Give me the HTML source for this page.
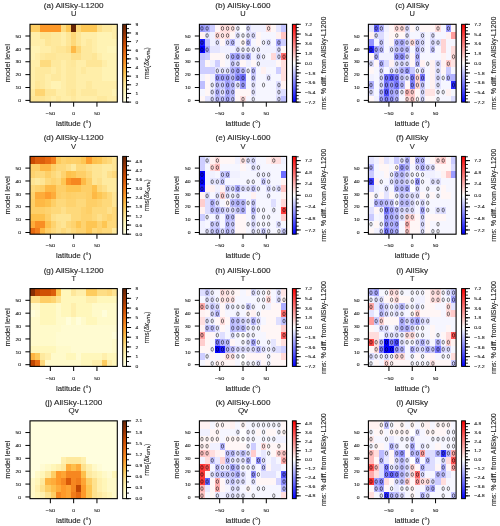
<!DOCTYPE html><html><head><meta charset="utf-8"><style>html,body{margin:0;padding:0;background:#fff;width:500px;height:526px;overflow:hidden}svg{display:block;will-change:transform}text{font-family:"Liberation Sans",sans-serif;fill:#262626}.sm{fill:#1a1a1a;stroke:#1a1a1a;stroke-width:0.1px}.lg{stroke:#262626;stroke-width:0.12px}</style></head><body>
<svg width="500" height="526" viewBox="0 0 500 526">
<rect width="500" height="526" fill="#fff"/>
<defs><linearGradient id="gseq" x1="0" y1="1" x2="0" y2="0"><stop offset="0.0000" stop-color="#ffffe5"/><stop offset="0.1250" stop-color="#fff7bc"/><stop offset="0.2500" stop-color="#fee391"/><stop offset="0.3750" stop-color="#fec44f"/><stop offset="0.5000" stop-color="#fe9929"/><stop offset="0.6250" stop-color="#ec7014"/><stop offset="0.7500" stop-color="#cc4c02"/><stop offset="0.8750" stop-color="#993404"/><stop offset="1.0000" stop-color="#662506"/></linearGradient>
<linearGradient id="gdiv" x1="0" y1="1" x2="0" y2="0"><stop offset="0" stop-color="#0000ff"/><stop offset="0.5" stop-color="#ffffff"/><stop offset="1" stop-color="#ff0000"/></linearGradient></defs>
<clipPath id="cp0"><rect x="30" y="24.3" width="87.3" height="77.8"/></clipPath>
<g clip-path="url(#cp0)">
<g shape-rendering="crispEdges">
<rect x="30" y="23.9" width="10.57" height="8.37" fill="#fecd63"/>
<rect x="40.27" y="23.9" width="20.84" height="8.37" fill="#fe9929"/>
<rect x="60.81" y="23.9" width="5.44" height="8.37" fill="#fedb7f"/>
<rect x="65.95" y="23.9" width="5.44" height="8.37" fill="#fec755"/>
<rect x="71.08" y="23.9" width="5.44" height="8.37" fill="#662506"/>
<rect x="76.22" y="23.9" width="5.44" height="8.37" fill="#fed777"/>
<rect x="81.35" y="23.9" width="15.71" height="8.37" fill="#fec755"/>
<rect x="96.76" y="23.9" width="5.44" height="8.37" fill="#fee08b"/>
<rect x="101.89" y="23.9" width="10.57" height="8.37" fill="#fee99e"/>
<rect x="112.16" y="23.9" width="5.44" height="8.37" fill="#ffeea9"/>
<rect x="30" y="31.97" width="10.57" height="7.37" fill="#ffeea9"/>
<rect x="40.27" y="31.97" width="10.57" height="7.37" fill="#fee595"/>
<rect x="50.54" y="31.97" width="10.57" height="7.37" fill="#fee99e"/>
<rect x="60.81" y="31.97" width="5.44" height="7.37" fill="#ffeea9"/>
<rect x="65.95" y="31.97" width="5.44" height="7.37" fill="#fee697"/>
<rect x="71.08" y="31.97" width="5.44" height="7.37" fill="#fed777"/>
<rect x="76.22" y="31.97" width="5.44" height="7.37" fill="#fee697"/>
<rect x="81.35" y="31.97" width="15.71" height="7.37" fill="#ffeea9"/>
<rect x="96.76" y="31.97" width="15.71" height="7.37" fill="#fff3b4"/>
<rect x="112.16" y="31.97" width="5.44" height="7.37" fill="#ffeea9"/>
<rect x="30" y="39.05" width="15.71" height="7.37" fill="#ffeea9"/>
<rect x="45.41" y="39.05" width="5.44" height="7.37" fill="#fee697"/>
<rect x="50.54" y="39.05" width="10.57" height="7.37" fill="#fee99e"/>
<rect x="60.81" y="39.05" width="5.44" height="7.37" fill="#ffeea9"/>
<rect x="65.95" y="39.05" width="5.44" height="7.37" fill="#fee697"/>
<rect x="71.08" y="39.05" width="5.44" height="7.37" fill="#fed97b"/>
<rect x="76.22" y="39.05" width="5.44" height="7.37" fill="#fee697"/>
<rect x="81.35" y="39.05" width="5.44" height="7.37" fill="#ffeea9"/>
<rect x="86.49" y="39.05" width="5.44" height="7.37" fill="#fee99e"/>
<rect x="91.62" y="39.05" width="5.44" height="7.37" fill="#ffeea9"/>
<rect x="96.76" y="39.05" width="20.84" height="7.37" fill="#fff3b4"/>
<rect x="30" y="46.12" width="10.57" height="7.37" fill="#fff3b4"/>
<rect x="40.27" y="46.12" width="10.57" height="7.37" fill="#ffeea9"/>
<rect x="50.54" y="46.12" width="5.44" height="7.37" fill="#fee99e"/>
<rect x="55.68" y="46.12" width="10.57" height="7.37" fill="#fee697"/>
<rect x="65.95" y="46.12" width="5.44" height="7.37" fill="#fee08b"/>
<rect x="71.08" y="46.12" width="5.44" height="7.37" fill="#feb946"/>
<rect x="76.22" y="46.12" width="5.44" height="7.37" fill="#fed777"/>
<rect x="81.35" y="46.12" width="10.57" height="7.37" fill="#fee99e"/>
<rect x="91.62" y="46.12" width="5.44" height="7.37" fill="#ffeea9"/>
<rect x="96.76" y="46.12" width="10.57" height="7.37" fill="#fff3b4"/>
<rect x="107.03" y="46.12" width="10.57" height="7.37" fill="#fff6bb"/>
<rect x="30" y="53.19" width="5.44" height="7.37" fill="#fff3b4"/>
<rect x="35.14" y="53.19" width="5.44" height="7.37" fill="#ffeea9"/>
<rect x="40.27" y="53.19" width="5.44" height="7.37" fill="#fee99e"/>
<rect x="45.41" y="53.19" width="10.57" height="7.37" fill="#fee697"/>
<rect x="55.68" y="53.19" width="15.71" height="7.37" fill="#fee99e"/>
<rect x="71.08" y="53.19" width="10.57" height="7.37" fill="#fee08b"/>
<rect x="81.35" y="53.19" width="10.57" height="7.37" fill="#fee99e"/>
<rect x="91.62" y="53.19" width="5.44" height="7.37" fill="#fee697"/>
<rect x="96.76" y="53.19" width="5.44" height="7.37" fill="#ffeea9"/>
<rect x="101.89" y="53.19" width="15.71" height="7.37" fill="#fff3b4"/>
<rect x="30" y="60.26" width="10.57" height="7.37" fill="#ffeea9"/>
<rect x="40.27" y="60.26" width="10.57" height="7.37" fill="#fedb7f"/>
<rect x="50.54" y="60.26" width="10.57" height="7.37" fill="#fee99e"/>
<rect x="60.81" y="60.26" width="5.44" height="7.37" fill="#ffeea9"/>
<rect x="65.95" y="60.26" width="5.44" height="7.37" fill="#fee99e"/>
<rect x="71.08" y="60.26" width="5.44" height="7.37" fill="#fee79a"/>
<rect x="76.22" y="60.26" width="10.57" height="7.37" fill="#ffeea9"/>
<rect x="86.49" y="60.26" width="15.71" height="7.37" fill="#fee697"/>
<rect x="101.89" y="60.26" width="5.44" height="7.37" fill="#ffeea9"/>
<rect x="107.03" y="60.26" width="10.57" height="7.37" fill="#fff3b4"/>
<rect x="30" y="67.34" width="5.44" height="7.37" fill="#ffeea9"/>
<rect x="35.14" y="67.34" width="15.71" height="7.37" fill="#fee99e"/>
<rect x="50.54" y="67.34" width="5.44" height="7.37" fill="#ffeea9"/>
<rect x="55.68" y="67.34" width="5.44" height="7.37" fill="#fee99e"/>
<rect x="60.81" y="67.34" width="5.44" height="7.37" fill="#ffeea9"/>
<rect x="65.95" y="67.34" width="10.57" height="7.37" fill="#fee99e"/>
<rect x="76.22" y="67.34" width="5.44" height="7.37" fill="#ffeea9"/>
<rect x="81.35" y="67.34" width="5.44" height="7.37" fill="#fee99e"/>
<rect x="86.49" y="67.34" width="15.71" height="7.37" fill="#ffeea9"/>
<rect x="101.89" y="67.34" width="15.71" height="7.37" fill="#fff3b4"/>
<rect x="30" y="74.41" width="5.44" height="7.37" fill="#ffeea9"/>
<rect x="35.14" y="74.41" width="10.57" height="7.37" fill="#fee99e"/>
<rect x="45.41" y="74.41" width="5.44" height="7.37" fill="#ffeea9"/>
<rect x="50.54" y="74.41" width="10.57" height="7.37" fill="#fee99e"/>
<rect x="60.81" y="74.41" width="5.44" height="7.37" fill="#ffeea9"/>
<rect x="65.95" y="74.41" width="10.57" height="7.37" fill="#fee99e"/>
<rect x="76.22" y="74.41" width="25.98" height="7.37" fill="#ffeea9"/>
<rect x="101.89" y="74.41" width="15.71" height="7.37" fill="#fff3b4"/>
<rect x="30" y="81.48" width="5.44" height="7.37" fill="#ffeea9"/>
<rect x="35.14" y="81.48" width="5.44" height="7.37" fill="#fee697"/>
<rect x="40.27" y="81.48" width="5.44" height="7.37" fill="#fee99e"/>
<rect x="45.41" y="81.48" width="5.44" height="7.37" fill="#ffeea9"/>
<rect x="50.54" y="81.48" width="10.57" height="7.37" fill="#fff3b4"/>
<rect x="60.81" y="81.48" width="5.44" height="7.37" fill="#ffeea9"/>
<rect x="65.95" y="81.48" width="10.57" height="7.37" fill="#fee99e"/>
<rect x="76.22" y="81.48" width="10.57" height="7.37" fill="#ffeea9"/>
<rect x="86.49" y="81.48" width="5.44" height="7.37" fill="#fee99e"/>
<rect x="91.62" y="81.48" width="25.98" height="7.37" fill="#ffeea9"/>
<rect x="30" y="88.55" width="5.44" height="7.37" fill="#fee99e"/>
<rect x="35.14" y="88.55" width="10.57" height="7.37" fill="#fed573"/>
<rect x="45.41" y="88.55" width="10.57" height="7.37" fill="#fee697"/>
<rect x="55.68" y="88.55" width="10.57" height="7.37" fill="#ffeea9"/>
<rect x="65.95" y="88.55" width="5.44" height="7.37" fill="#fee99e"/>
<rect x="71.08" y="88.55" width="5.44" height="7.37" fill="#fee697"/>
<rect x="76.22" y="88.55" width="5.44" height="7.37" fill="#ffeea9"/>
<rect x="81.35" y="88.55" width="15.71" height="7.37" fill="#fee99e"/>
<rect x="96.76" y="88.55" width="15.71" height="7.37" fill="#ffeea9"/>
<rect x="112.16" y="88.55" width="5.44" height="7.37" fill="#fff3b4"/>
<rect x="30" y="95.63" width="5.44" height="7.37" fill="#fee697"/>
<rect x="35.14" y="95.63" width="10.57" height="7.37" fill="#fee595"/>
<rect x="45.41" y="95.63" width="5.44" height="7.37" fill="#fee99e"/>
<rect x="50.54" y="95.63" width="5.44" height="7.37" fill="#ffeea9"/>
<rect x="55.68" y="95.63" width="5.44" height="7.37" fill="#fee99e"/>
<rect x="60.81" y="95.63" width="10.57" height="7.37" fill="#ffeea9"/>
<rect x="71.08" y="95.63" width="5.44" height="7.37" fill="#fee99e"/>
<rect x="76.22" y="95.63" width="20.84" height="7.37" fill="#ffeea9"/>
<rect x="96.76" y="95.63" width="10.57" height="7.37" fill="#fee99e"/>
<rect x="107.03" y="95.63" width="10.57" height="7.37" fill="#ffeea9"/>
</g>
</g>
<rect x="30" y="24.3" width="87.3" height="77.8" fill="none" stroke="#000" stroke-width="1.1"/>
<line x1="25.4" y1="100.4" x2="30" y2="100.4" stroke="#000" stroke-width="1"/>
<text x="21.1" y="102.1" font-size="4.4" text-anchor="end" textLength="2.8" lengthAdjust="spacingAndGlyphs" class="sm">0</text>
<line x1="25.4" y1="87.52" x2="30" y2="87.52" stroke="#000" stroke-width="1"/>
<text x="21.1" y="89.22" font-size="4.4" text-anchor="end" textLength="5.6" lengthAdjust="spacingAndGlyphs" class="sm">10</text>
<line x1="25.4" y1="74.64" x2="30" y2="74.64" stroke="#000" stroke-width="1"/>
<text x="21.1" y="76.34" font-size="4.4" text-anchor="end" textLength="5.6" lengthAdjust="spacingAndGlyphs" class="sm">20</text>
<line x1="25.4" y1="61.76" x2="30" y2="61.76" stroke="#000" stroke-width="1"/>
<text x="21.1" y="63.46" font-size="4.4" text-anchor="end" textLength="5.6" lengthAdjust="spacingAndGlyphs" class="sm">30</text>
<line x1="25.4" y1="48.88" x2="30" y2="48.88" stroke="#000" stroke-width="1"/>
<text x="21.1" y="50.58" font-size="4.4" text-anchor="end" textLength="5.6" lengthAdjust="spacingAndGlyphs" class="sm">40</text>
<line x1="25.4" y1="36" x2="30" y2="36" stroke="#000" stroke-width="1"/>
<text x="21.1" y="37.7" font-size="4.4" text-anchor="end" textLength="5.6" lengthAdjust="spacingAndGlyphs" class="sm">50</text>
<line x1="50.35" y1="102.1" x2="50.35" y2="106.7" stroke="#000" stroke-width="1"/>
<text x="50.35" y="115.2" font-size="4.4" text-anchor="middle" textLength="9.29" lengthAdjust="spacingAndGlyphs" class="sm">−50</text>
<line x1="73.65" y1="102.1" x2="73.65" y2="106.7" stroke="#000" stroke-width="1"/>
<text x="73.65" y="115.2" font-size="4.4" text-anchor="middle" textLength="2.8" lengthAdjust="spacingAndGlyphs" class="sm">0</text>
<line x1="96.95" y1="102.1" x2="96.95" y2="106.7" stroke="#000" stroke-width="1"/>
<text x="96.95" y="115.2" font-size="4.4" text-anchor="middle" textLength="5.6" lengthAdjust="spacingAndGlyphs" class="sm">50</text>
<text x="73.65" y="126.3" font-size="7" text-anchor="middle" textLength="35.2" lengthAdjust="spacingAndGlyphs" class="lg">latitude (°)</text>
<text transform="translate(9.5,63.2) rotate(-90)" font-size="7" class="lg" text-anchor="middle" textLength="38.2" lengthAdjust="spacingAndGlyphs">model level</text>
<text x="73.65" y="8.24" font-size="7.8" text-anchor="middle" textLength="59.83" lengthAdjust="spacingAndGlyphs" class="lg">(a) AllSky-L1200</text>
<text x="73.65" y="16.4" font-size="7.7" text-anchor="middle" textLength="5.42" lengthAdjust="spacingAndGlyphs" class="lg">U</text>
<rect x="122.7" y="24.3" width="3.8" height="77.8" fill="url(#gseq)"/>
<rect x="122.7" y="24.3" width="3.8" height="77.8" fill="none" stroke="#000" stroke-width="1"/>
<line x1="126.5" y1="102.1" x2="129" y2="102.1" stroke="#000" stroke-width="0.9"/>
<line x1="126.5" y1="97.78" x2="129" y2="97.78" stroke="#000" stroke-width="0.9"/>
<line x1="126.5" y1="93.46" x2="129" y2="93.46" stroke="#000" stroke-width="0.9"/>
<line x1="126.5" y1="89.13" x2="129" y2="89.13" stroke="#000" stroke-width="0.9"/>
<line x1="126.5" y1="84.81" x2="129" y2="84.81" stroke="#000" stroke-width="0.9"/>
<line x1="126.5" y1="80.49" x2="129" y2="80.49" stroke="#000" stroke-width="0.9"/>
<line x1="126.5" y1="76.17" x2="129" y2="76.17" stroke="#000" stroke-width="0.9"/>
<line x1="126.5" y1="71.84" x2="129" y2="71.84" stroke="#000" stroke-width="0.9"/>
<line x1="126.5" y1="67.52" x2="129" y2="67.52" stroke="#000" stroke-width="0.9"/>
<line x1="126.5" y1="63.2" x2="129" y2="63.2" stroke="#000" stroke-width="0.9"/>
<line x1="126.5" y1="58.88" x2="129" y2="58.88" stroke="#000" stroke-width="0.9"/>
<line x1="126.5" y1="54.56" x2="129" y2="54.56" stroke="#000" stroke-width="0.9"/>
<line x1="126.5" y1="50.23" x2="129" y2="50.23" stroke="#000" stroke-width="0.9"/>
<line x1="126.5" y1="45.91" x2="129" y2="45.91" stroke="#000" stroke-width="0.9"/>
<line x1="126.5" y1="41.59" x2="129" y2="41.59" stroke="#000" stroke-width="0.9"/>
<line x1="126.5" y1="37.27" x2="129" y2="37.27" stroke="#000" stroke-width="0.9"/>
<line x1="126.5" y1="32.94" x2="129" y2="32.94" stroke="#000" stroke-width="0.9"/>
<line x1="126.5" y1="28.62" x2="129" y2="28.62" stroke="#000" stroke-width="0.9"/>
<line x1="126.5" y1="24.3" x2="129" y2="24.3" stroke="#000" stroke-width="0.9"/>
<line x1="126.5" y1="102.1" x2="131.1" y2="102.1" stroke="#000" stroke-width="1"/>
<text x="135.4" y="103.7" font-size="4.3" textLength="2.74" lengthAdjust="spacingAndGlyphs" class="sm">0</text>
<line x1="126.5" y1="93.46" x2="131.1" y2="93.46" stroke="#000" stroke-width="1"/>
<text x="135.4" y="95.06" font-size="4.3" textLength="2.74" lengthAdjust="spacingAndGlyphs" class="sm">1</text>
<line x1="126.5" y1="84.81" x2="131.1" y2="84.81" stroke="#000" stroke-width="1"/>
<text x="135.4" y="86.41" font-size="4.3" textLength="2.74" lengthAdjust="spacingAndGlyphs" class="sm">2</text>
<line x1="126.5" y1="76.17" x2="131.1" y2="76.17" stroke="#000" stroke-width="1"/>
<text x="135.4" y="77.77" font-size="4.3" textLength="2.74" lengthAdjust="spacingAndGlyphs" class="sm">3</text>
<line x1="126.5" y1="67.52" x2="131.1" y2="67.52" stroke="#000" stroke-width="1"/>
<text x="135.4" y="69.12" font-size="4.3" textLength="2.74" lengthAdjust="spacingAndGlyphs" class="sm">4</text>
<line x1="126.5" y1="58.88" x2="131.1" y2="58.88" stroke="#000" stroke-width="1"/>
<text x="135.4" y="60.48" font-size="4.3" textLength="2.74" lengthAdjust="spacingAndGlyphs" class="sm">5</text>
<line x1="126.5" y1="50.23" x2="131.1" y2="50.23" stroke="#000" stroke-width="1"/>
<text x="135.4" y="51.83" font-size="4.3" textLength="2.74" lengthAdjust="spacingAndGlyphs" class="sm">6</text>
<line x1="126.5" y1="41.59" x2="131.1" y2="41.59" stroke="#000" stroke-width="1"/>
<text x="135.4" y="43.19" font-size="4.3" textLength="2.74" lengthAdjust="spacingAndGlyphs" class="sm">7</text>
<line x1="126.5" y1="32.94" x2="131.1" y2="32.94" stroke="#000" stroke-width="1"/>
<text x="135.4" y="34.54" font-size="4.3" textLength="2.74" lengthAdjust="spacingAndGlyphs" class="sm">8</text>
<line x1="126.5" y1="24.3" x2="131.1" y2="24.3" stroke="#000" stroke-width="1"/>
<text x="135.4" y="25.9" font-size="4.3" textLength="2.74" lengthAdjust="spacingAndGlyphs" class="sm">9</text>
<text transform="translate(149,63.2) rotate(-90)" font-size="6.7" class="lg" text-anchor="middle">rms(<tspan font-style="italic">δx</tspan><tspan font-size="4.2" dy="1.4">G/Tb</tspan><tspan dy="-1.4">)</tspan></text>
<clipPath id="cp1"><rect x="199.4" y="24.3" width="87.2" height="77.8"/></clipPath>
<g clip-path="url(#cp1)">
<g shape-rendering="crispEdges">
<rect x="199.4" y="23.9" width="5.43" height="8.37" fill="#9d9dff"/>
<rect x="204.53" y="23.9" width="5.43" height="8.37" fill="#adadff"/>
<rect x="209.66" y="23.9" width="5.43" height="8.37" fill="#ceceff"/>
<rect x="214.79" y="23.9" width="5.43" height="8.37" fill="#fff6f6"/>
<rect x="219.92" y="23.9" width="10.56" height="8.37" fill="#ffdede"/>
<rect x="230.18" y="23.9" width="5.43" height="8.37" fill="#ffe5e5"/>
<rect x="235.31" y="23.9" width="5.43" height="8.37" fill="#f1f1ff"/>
<rect x="240.44" y="23.9" width="5.43" height="8.37" fill="#ffffff"/>
<rect x="245.56" y="23.9" width="5.43" height="8.37" fill="#dedeff"/>
<rect x="250.69" y="23.9" width="15.69" height="8.37" fill="#f1f1ff"/>
<rect x="266.08" y="23.9" width="5.43" height="8.37" fill="#ffdede"/>
<rect x="271.21" y="23.9" width="5.43" height="8.37" fill="#fff6f6"/>
<rect x="276.34" y="23.9" width="5.43" height="8.37" fill="#e5e5ff"/>
<rect x="281.47" y="23.9" width="5.43" height="8.37" fill="#c4c4ff"/>
<rect x="199.4" y="31.97" width="5.43" height="7.37" fill="#fff1f1"/>
<rect x="204.53" y="31.97" width="5.43" height="7.37" fill="#e5e5ff"/>
<rect x="209.66" y="31.97" width="5.43" height="7.37" fill="#f1f1ff"/>
<rect x="214.79" y="31.97" width="5.43" height="7.37" fill="#ffd8d8"/>
<rect x="219.92" y="31.97" width="5.43" height="7.37" fill="#ffe5e5"/>
<rect x="225.05" y="31.97" width="5.43" height="7.37" fill="#ffdede"/>
<rect x="230.18" y="31.97" width="5.43" height="7.37" fill="#fff6f6"/>
<rect x="235.31" y="31.97" width="5.43" height="7.37" fill="#e5e5ff"/>
<rect x="240.44" y="31.97" width="5.43" height="7.37" fill="#f6f6ff"/>
<rect x="245.56" y="31.97" width="5.43" height="7.37" fill="#e5e5ff"/>
<rect x="250.69" y="31.97" width="5.43" height="7.37" fill="#dedeff"/>
<rect x="255.82" y="31.97" width="5.43" height="7.37" fill="#fff6f6"/>
<rect x="260.95" y="31.97" width="15.69" height="7.37" fill="#f6f6ff"/>
<rect x="276.34" y="31.97" width="5.43" height="7.37" fill="#fff1f1"/>
<rect x="281.47" y="31.97" width="5.43" height="7.37" fill="#ffc4c4"/>
<rect x="199.4" y="39.05" width="5.43" height="7.37" fill="#1c1cff"/>
<rect x="204.53" y="39.05" width="5.43" height="7.37" fill="#c4c4ff"/>
<rect x="209.66" y="39.05" width="5.43" height="7.37" fill="#f1f1ff"/>
<rect x="214.79" y="39.05" width="5.43" height="7.37" fill="#e5e5ff"/>
<rect x="219.92" y="39.05" width="5.43" height="7.37" fill="#fff6f6"/>
<rect x="225.05" y="39.05" width="5.43" height="7.37" fill="#dedeff"/>
<rect x="230.18" y="39.05" width="5.43" height="7.37" fill="#bebeff"/>
<rect x="235.31" y="39.05" width="5.43" height="7.37" fill="#f1f1ff"/>
<rect x="240.44" y="39.05" width="5.43" height="7.37" fill="#fff6f6"/>
<rect x="245.56" y="39.05" width="5.43" height="7.37" fill="#bebeff"/>
<rect x="250.69" y="39.05" width="5.43" height="7.37" fill="#f6f6ff"/>
<rect x="255.82" y="39.05" width="5.43" height="7.37" fill="#fff6f6"/>
<rect x="260.95" y="39.05" width="5.43" height="7.37" fill="#f1f1ff"/>
<rect x="266.08" y="39.05" width="5.43" height="7.37" fill="#e5e5ff"/>
<rect x="271.21" y="39.05" width="5.43" height="7.37" fill="#f6f6ff"/>
<rect x="276.34" y="39.05" width="5.43" height="7.37" fill="#adadff"/>
<rect x="281.47" y="39.05" width="5.43" height="7.37" fill="#ceceff"/>
<rect x="199.4" y="46.12" width="5.43" height="7.37" fill="#0000ff"/>
<rect x="204.53" y="46.12" width="5.43" height="7.37" fill="#adadff"/>
<rect x="209.66" y="46.12" width="10.56" height="7.37" fill="#e5e5ff"/>
<rect x="219.92" y="46.12" width="15.69" height="7.37" fill="#f1f1ff"/>
<rect x="235.31" y="46.12" width="5.43" height="7.37" fill="#e5e5ff"/>
<rect x="240.44" y="46.12" width="36.21" height="7.37" fill="#f1f1ff"/>
<rect x="276.34" y="46.12" width="5.43" height="7.37" fill="#dedeff"/>
<rect x="281.47" y="46.12" width="5.43" height="7.37" fill="#fff6f6"/>
<rect x="199.4" y="53.19" width="5.43" height="7.37" fill="#c4c4ff"/>
<rect x="204.53" y="53.19" width="5.43" height="7.37" fill="#ceceff"/>
<rect x="209.66" y="53.19" width="15.69" height="7.37" fill="#fff6f6"/>
<rect x="225.05" y="53.19" width="5.43" height="7.37" fill="#f1f1ff"/>
<rect x="230.18" y="53.19" width="5.43" height="7.37" fill="#adadff"/>
<rect x="235.31" y="53.19" width="5.43" height="7.37" fill="#a4a4ff"/>
<rect x="240.44" y="53.19" width="5.43" height="7.37" fill="#ceceff"/>
<rect x="245.56" y="53.19" width="5.43" height="7.37" fill="#b7b7ff"/>
<rect x="250.69" y="53.19" width="5.43" height="7.37" fill="#f1f1ff"/>
<rect x="255.82" y="53.19" width="5.43" height="7.37" fill="#dedeff"/>
<rect x="260.95" y="53.19" width="5.43" height="7.37" fill="#f1f1ff"/>
<rect x="266.08" y="53.19" width="5.43" height="7.37" fill="#f6f6ff"/>
<rect x="271.21" y="53.19" width="5.43" height="7.37" fill="#ffd8d8"/>
<rect x="276.34" y="53.19" width="5.43" height="7.37" fill="#dedeff"/>
<rect x="281.47" y="53.19" width="5.43" height="7.37" fill="#ff6d6d"/>
<rect x="199.4" y="60.26" width="5.43" height="7.37" fill="#ceceff"/>
<rect x="204.53" y="60.26" width="5.43" height="7.37" fill="#fff6f6"/>
<rect x="209.66" y="60.26" width="5.43" height="7.37" fill="#f1f1ff"/>
<rect x="214.79" y="60.26" width="5.43" height="7.37" fill="#ceceff"/>
<rect x="219.92" y="60.26" width="5.43" height="7.37" fill="#fff6f6"/>
<rect x="225.05" y="60.26" width="5.43" height="7.37" fill="#f6f6ff"/>
<rect x="230.18" y="60.26" width="5.43" height="7.37" fill="#ceceff"/>
<rect x="235.31" y="60.26" width="5.43" height="7.37" fill="#dedeff"/>
<rect x="240.44" y="60.26" width="5.43" height="7.37" fill="#fff6f6"/>
<rect x="245.56" y="60.26" width="5.43" height="7.37" fill="#f1f1ff"/>
<rect x="250.69" y="60.26" width="5.43" height="7.37" fill="#fff6f6"/>
<rect x="255.82" y="60.26" width="20.82" height="7.37" fill="#f1f1ff"/>
<rect x="276.34" y="60.26" width="5.43" height="7.37" fill="#fff6f6"/>
<rect x="281.47" y="60.26" width="5.43" height="7.37" fill="#ffdede"/>
<rect x="199.4" y="67.34" width="15.69" height="7.37" fill="#ceceff"/>
<rect x="214.79" y="67.34" width="15.69" height="7.37" fill="#e5e5ff"/>
<rect x="230.18" y="67.34" width="5.43" height="7.37" fill="#b7b7ff"/>
<rect x="235.31" y="67.34" width="5.43" height="7.37" fill="#a4a4ff"/>
<rect x="240.44" y="67.34" width="5.43" height="7.37" fill="#c4c4ff"/>
<rect x="245.56" y="67.34" width="5.43" height="7.37" fill="#f6f6ff"/>
<rect x="250.69" y="67.34" width="5.43" height="7.37" fill="#c4c4ff"/>
<rect x="255.82" y="67.34" width="5.43" height="7.37" fill="#f6f6ff"/>
<rect x="260.95" y="67.34" width="5.43" height="7.37" fill="#fff1f1"/>
<rect x="266.08" y="67.34" width="10.56" height="7.37" fill="#f6f6ff"/>
<rect x="276.34" y="67.34" width="5.43" height="7.37" fill="#ceceff"/>
<rect x="281.47" y="67.34" width="5.43" height="7.37" fill="#ffdede"/>
<rect x="199.4" y="74.41" width="5.43" height="7.37" fill="#f1f1ff"/>
<rect x="204.53" y="74.41" width="5.43" height="7.37" fill="#fff6f6"/>
<rect x="209.66" y="74.41" width="5.43" height="7.37" fill="#f1f1ff"/>
<rect x="214.79" y="74.41" width="5.43" height="7.37" fill="#9d9dff"/>
<rect x="219.92" y="74.41" width="10.56" height="7.37" fill="#a4a4ff"/>
<rect x="230.18" y="74.41" width="5.43" height="7.37" fill="#bebeff"/>
<rect x="235.31" y="74.41" width="5.43" height="7.37" fill="#8d8dff"/>
<rect x="240.44" y="74.41" width="5.43" height="7.37" fill="#7373ff"/>
<rect x="245.56" y="74.41" width="5.43" height="7.37" fill="#f6f6ff"/>
<rect x="250.69" y="74.41" width="5.43" height="7.37" fill="#ceceff"/>
<rect x="255.82" y="74.41" width="10.56" height="7.37" fill="#f6f6ff"/>
<rect x="266.08" y="74.41" width="5.43" height="7.37" fill="#e5e5ff"/>
<rect x="271.21" y="74.41" width="10.56" height="7.37" fill="#f6f6ff"/>
<rect x="281.47" y="74.41" width="5.43" height="7.37" fill="#ffdede"/>
<rect x="199.4" y="81.48" width="5.43" height="7.37" fill="#bebeff"/>
<rect x="204.53" y="81.48" width="5.43" height="7.37" fill="#fff6f6"/>
<rect x="209.66" y="81.48" width="5.43" height="7.37" fill="#f1f1ff"/>
<rect x="214.79" y="81.48" width="5.43" height="7.37" fill="#c4c4ff"/>
<rect x="219.92" y="81.48" width="5.43" height="7.37" fill="#ceceff"/>
<rect x="225.05" y="81.48" width="5.43" height="7.37" fill="#a4a4ff"/>
<rect x="230.18" y="81.48" width="5.43" height="7.37" fill="#bebeff"/>
<rect x="235.31" y="81.48" width="5.43" height="7.37" fill="#e5e5ff"/>
<rect x="240.44" y="81.48" width="5.43" height="7.37" fill="#9d9dff"/>
<rect x="245.56" y="81.48" width="5.43" height="7.37" fill="#f6f6ff"/>
<rect x="250.69" y="81.48" width="5.43" height="7.37" fill="#e5e5ff"/>
<rect x="255.82" y="81.48" width="20.82" height="7.37" fill="#f6f6ff"/>
<rect x="276.34" y="81.48" width="5.43" height="7.37" fill="#dedeff"/>
<rect x="281.47" y="81.48" width="5.43" height="7.37" fill="#fff1f1"/>
<rect x="199.4" y="88.55" width="5.43" height="7.37" fill="#f6f6ff"/>
<rect x="204.53" y="88.55" width="5.43" height="7.37" fill="#fff6f6"/>
<rect x="209.66" y="88.55" width="5.43" height="7.37" fill="#e5e5ff"/>
<rect x="214.79" y="88.55" width="5.43" height="7.37" fill="#b7b7ff"/>
<rect x="219.92" y="88.55" width="5.43" height="7.37" fill="#dedeff"/>
<rect x="225.05" y="88.55" width="5.43" height="7.37" fill="#adadff"/>
<rect x="230.18" y="88.55" width="5.43" height="7.37" fill="#bebeff"/>
<rect x="235.31" y="88.55" width="15.69" height="7.37" fill="#fff6f6"/>
<rect x="250.69" y="88.55" width="5.43" height="7.37" fill="#e5e5ff"/>
<rect x="255.82" y="88.55" width="20.82" height="7.37" fill="#f6f6ff"/>
<rect x="276.34" y="88.55" width="5.43" height="7.37" fill="#e5e5ff"/>
<rect x="281.47" y="88.55" width="5.43" height="7.37" fill="#dedeff"/>
<rect x="199.4" y="95.63" width="5.43" height="7.37" fill="#fff6f6"/>
<rect x="204.53" y="95.63" width="5.43" height="7.37" fill="#e5e5ff"/>
<rect x="209.66" y="95.63" width="5.43" height="7.37" fill="#dedeff"/>
<rect x="214.79" y="95.63" width="5.43" height="7.37" fill="#bebeff"/>
<rect x="219.92" y="95.63" width="5.43" height="7.37" fill="#c4c4ff"/>
<rect x="225.05" y="95.63" width="5.43" height="7.37" fill="#adadff"/>
<rect x="230.18" y="95.63" width="5.43" height="7.37" fill="#c4c4ff"/>
<rect x="235.31" y="95.63" width="5.43" height="7.37" fill="#fff6f6"/>
<rect x="240.44" y="95.63" width="5.43" height="7.37" fill="#ffdede"/>
<rect x="245.56" y="95.63" width="5.43" height="7.37" fill="#f6f6ff"/>
<rect x="250.69" y="95.63" width="5.43" height="7.37" fill="#f1f1ff"/>
<rect x="255.82" y="95.63" width="20.82" height="7.37" fill="#f6f6ff"/>
<rect x="276.34" y="95.63" width="5.43" height="7.37" fill="#dedeff"/>
<rect x="281.47" y="95.63" width="5.43" height="7.37" fill="#bebeff"/>
</g>
<g fill="none" stroke="#000" stroke-opacity="0.55" stroke-width="0.95">
<ellipse cx="201.96" cy="28.44" rx="1.15" ry="1.95"/>
<ellipse cx="207.09" cy="28.44" rx="1.15" ry="1.95"/>
<ellipse cx="222.48" cy="28.44" rx="1.15" ry="1.95"/>
<ellipse cx="227.61" cy="28.44" rx="1.15" ry="1.95"/>
<ellipse cx="232.74" cy="28.44" rx="1.15" ry="1.95"/>
<ellipse cx="237.87" cy="28.44" rx="1.15" ry="1.95"/>
<ellipse cx="248.13" cy="28.44" rx="1.15" ry="1.95"/>
<ellipse cx="268.65" cy="28.44" rx="1.15" ry="1.95"/>
<ellipse cx="207.09" cy="35.51" rx="1.15" ry="1.95"/>
<ellipse cx="217.35" cy="35.51" rx="1.15" ry="1.95"/>
<ellipse cx="222.48" cy="35.51" rx="1.15" ry="1.95"/>
<ellipse cx="227.61" cy="35.51" rx="1.15" ry="1.95"/>
<ellipse cx="237.87" cy="35.51" rx="1.15" ry="1.95"/>
<ellipse cx="243" cy="35.51" rx="1.15" ry="1.95"/>
<ellipse cx="248.13" cy="35.51" rx="1.15" ry="1.95"/>
<ellipse cx="253.26" cy="35.51" rx="1.15" ry="1.95"/>
<ellipse cx="201.96" cy="42.58" rx="1.15" ry="1.95"/>
<ellipse cx="217.35" cy="42.58" rx="1.15" ry="1.95"/>
<ellipse cx="227.61" cy="42.58" rx="1.15" ry="1.95"/>
<ellipse cx="232.74" cy="42.58" rx="1.15" ry="1.95"/>
<ellipse cx="243" cy="42.58" rx="1.15" ry="1.95"/>
<ellipse cx="248.13" cy="42.58" rx="1.15" ry="1.95"/>
<ellipse cx="263.52" cy="42.58" rx="1.15" ry="1.95"/>
<ellipse cx="268.65" cy="42.58" rx="1.15" ry="1.95"/>
<ellipse cx="278.91" cy="42.58" rx="1.15" ry="1.95"/>
<ellipse cx="201.96" cy="49.65" rx="1.15" ry="1.95"/>
<ellipse cx="207.09" cy="49.65" rx="1.15" ry="1.95"/>
<ellipse cx="237.87" cy="49.65" rx="1.15" ry="1.95"/>
<ellipse cx="243" cy="49.65" rx="1.15" ry="1.95"/>
<ellipse cx="248.13" cy="49.65" rx="1.15" ry="1.95"/>
<ellipse cx="253.26" cy="49.65" rx="1.15" ry="1.95"/>
<ellipse cx="258.39" cy="49.65" rx="1.15" ry="1.95"/>
<ellipse cx="278.91" cy="49.65" rx="1.15" ry="1.95"/>
<ellipse cx="227.61" cy="56.73" rx="1.15" ry="1.95"/>
<ellipse cx="232.74" cy="56.73" rx="1.15" ry="1.95"/>
<ellipse cx="237.87" cy="56.73" rx="1.15" ry="1.95"/>
<ellipse cx="243" cy="56.73" rx="1.15" ry="1.95"/>
<ellipse cx="248.13" cy="56.73" rx="1.15" ry="1.95"/>
<ellipse cx="258.39" cy="56.73" rx="1.15" ry="1.95"/>
<ellipse cx="263.52" cy="56.73" rx="1.15" ry="1.95"/>
<ellipse cx="278.91" cy="56.73" rx="1.15" ry="1.95"/>
<ellipse cx="284.04" cy="56.73" rx="1.15" ry="1.95"/>
<ellipse cx="232.74" cy="63.8" rx="1.15" ry="1.95"/>
<ellipse cx="237.87" cy="63.8" rx="1.15" ry="1.95"/>
<ellipse cx="258.39" cy="63.8" rx="1.15" ry="1.95"/>
<ellipse cx="217.35" cy="70.87" rx="1.15" ry="1.95"/>
<ellipse cx="222.48" cy="70.87" rx="1.15" ry="1.95"/>
<ellipse cx="227.61" cy="70.87" rx="1.15" ry="1.95"/>
<ellipse cx="232.74" cy="70.87" rx="1.15" ry="1.95"/>
<ellipse cx="237.87" cy="70.87" rx="1.15" ry="1.95"/>
<ellipse cx="243" cy="70.87" rx="1.15" ry="1.95"/>
<ellipse cx="248.13" cy="70.87" rx="1.15" ry="1.95"/>
<ellipse cx="253.26" cy="70.87" rx="1.15" ry="1.95"/>
<ellipse cx="217.35" cy="77.95" rx="1.15" ry="1.95"/>
<ellipse cx="222.48" cy="77.95" rx="1.15" ry="1.95"/>
<ellipse cx="227.61" cy="77.95" rx="1.15" ry="1.95"/>
<ellipse cx="232.74" cy="77.95" rx="1.15" ry="1.95"/>
<ellipse cx="237.87" cy="77.95" rx="1.15" ry="1.95"/>
<ellipse cx="243" cy="77.95" rx="1.15" ry="1.95"/>
<ellipse cx="253.26" cy="77.95" rx="1.15" ry="1.95"/>
<ellipse cx="268.65" cy="77.95" rx="1.15" ry="1.95"/>
<ellipse cx="212.22" cy="85.02" rx="1.15" ry="1.95"/>
<ellipse cx="217.35" cy="85.02" rx="1.15" ry="1.95"/>
<ellipse cx="222.48" cy="85.02" rx="1.15" ry="1.95"/>
<ellipse cx="227.61" cy="85.02" rx="1.15" ry="1.95"/>
<ellipse cx="232.74" cy="85.02" rx="1.15" ry="1.95"/>
<ellipse cx="237.87" cy="85.02" rx="1.15" ry="1.95"/>
<ellipse cx="243" cy="85.02" rx="1.15" ry="1.95"/>
<ellipse cx="253.26" cy="85.02" rx="1.15" ry="1.95"/>
<ellipse cx="263.52" cy="85.02" rx="1.15" ry="1.95"/>
<ellipse cx="278.91" cy="85.02" rx="1.15" ry="1.95"/>
<ellipse cx="212.22" cy="92.09" rx="1.15" ry="1.95"/>
<ellipse cx="217.35" cy="92.09" rx="1.15" ry="1.95"/>
<ellipse cx="222.48" cy="92.09" rx="1.15" ry="1.95"/>
<ellipse cx="227.61" cy="92.09" rx="1.15" ry="1.95"/>
<ellipse cx="232.74" cy="92.09" rx="1.15" ry="1.95"/>
<ellipse cx="253.26" cy="92.09" rx="1.15" ry="1.95"/>
<ellipse cx="278.91" cy="92.09" rx="1.15" ry="1.95"/>
<ellipse cx="212.22" cy="99.16" rx="1.15" ry="1.95"/>
<ellipse cx="217.35" cy="99.16" rx="1.15" ry="1.95"/>
<ellipse cx="222.48" cy="99.16" rx="1.15" ry="1.95"/>
<ellipse cx="227.61" cy="99.16" rx="1.15" ry="1.95"/>
<ellipse cx="232.74" cy="99.16" rx="1.15" ry="1.95"/>
<ellipse cx="243" cy="99.16" rx="1.15" ry="1.95"/>
<ellipse cx="253.26" cy="99.16" rx="1.15" ry="1.95"/>
<ellipse cx="278.91" cy="99.16" rx="1.15" ry="1.95"/>
</g>
</g>
<rect x="199.4" y="24.3" width="87.2" height="77.8" fill="none" stroke="#000" stroke-width="1.1"/>
<line x1="194.8" y1="100.4" x2="199.4" y2="100.4" stroke="#000" stroke-width="1"/>
<text x="190.5" y="102.1" font-size="4.4" text-anchor="end" textLength="2.8" lengthAdjust="spacingAndGlyphs" class="sm">0</text>
<line x1="194.8" y1="87.52" x2="199.4" y2="87.52" stroke="#000" stroke-width="1"/>
<text x="190.5" y="89.22" font-size="4.4" text-anchor="end" textLength="5.6" lengthAdjust="spacingAndGlyphs" class="sm">10</text>
<line x1="194.8" y1="74.64" x2="199.4" y2="74.64" stroke="#000" stroke-width="1"/>
<text x="190.5" y="76.34" font-size="4.4" text-anchor="end" textLength="5.6" lengthAdjust="spacingAndGlyphs" class="sm">20</text>
<line x1="194.8" y1="61.76" x2="199.4" y2="61.76" stroke="#000" stroke-width="1"/>
<text x="190.5" y="63.46" font-size="4.4" text-anchor="end" textLength="5.6" lengthAdjust="spacingAndGlyphs" class="sm">30</text>
<line x1="194.8" y1="48.88" x2="199.4" y2="48.88" stroke="#000" stroke-width="1"/>
<text x="190.5" y="50.58" font-size="4.4" text-anchor="end" textLength="5.6" lengthAdjust="spacingAndGlyphs" class="sm">40</text>
<line x1="194.8" y1="36" x2="199.4" y2="36" stroke="#000" stroke-width="1"/>
<text x="190.5" y="37.7" font-size="4.4" text-anchor="end" textLength="5.6" lengthAdjust="spacingAndGlyphs" class="sm">50</text>
<line x1="219.7" y1="102.1" x2="219.7" y2="106.7" stroke="#000" stroke-width="1"/>
<text x="219.7" y="115.2" font-size="4.4" text-anchor="middle" textLength="9.29" lengthAdjust="spacingAndGlyphs" class="sm">−50</text>
<line x1="243" y1="102.1" x2="243" y2="106.7" stroke="#000" stroke-width="1"/>
<text x="243" y="115.2" font-size="4.4" text-anchor="middle" textLength="2.8" lengthAdjust="spacingAndGlyphs" class="sm">0</text>
<line x1="266.3" y1="102.1" x2="266.3" y2="106.7" stroke="#000" stroke-width="1"/>
<text x="266.3" y="115.2" font-size="4.4" text-anchor="middle" textLength="5.6" lengthAdjust="spacingAndGlyphs" class="sm">50</text>
<text x="243" y="126.3" font-size="7" text-anchor="middle" textLength="35.2" lengthAdjust="spacingAndGlyphs" class="lg">latitude (°)</text>
<text transform="translate(178.9,63.2) rotate(-90)" font-size="7" class="lg" text-anchor="middle" textLength="38.2" lengthAdjust="spacingAndGlyphs">model level</text>
<text x="243" y="8.24" font-size="7.8" text-anchor="middle" textLength="55.28" lengthAdjust="spacingAndGlyphs" class="lg">(b) AllSky-L600</text>
<text x="243" y="16.4" font-size="7.7" text-anchor="middle" textLength="5.42" lengthAdjust="spacingAndGlyphs" class="lg">U</text>
<rect x="292.4" y="24.3" width="3.8" height="77.8" fill="url(#gdiv)"/>
<rect x="292.4" y="24.3" width="3.8" height="77.8" fill="none" stroke="#000" stroke-width="1"/>
<line x1="296.2" y1="102.1" x2="298.7" y2="102.1" stroke="#000" stroke-width="0.9"/>
<line x1="296.2" y1="98.86" x2="298.7" y2="98.86" stroke="#000" stroke-width="0.9"/>
<line x1="296.2" y1="95.62" x2="298.7" y2="95.62" stroke="#000" stroke-width="0.9"/>
<line x1="296.2" y1="92.38" x2="298.7" y2="92.38" stroke="#000" stroke-width="0.9"/>
<line x1="296.2" y1="89.13" x2="298.7" y2="89.13" stroke="#000" stroke-width="0.9"/>
<line x1="296.2" y1="85.89" x2="298.7" y2="85.89" stroke="#000" stroke-width="0.9"/>
<line x1="296.2" y1="82.65" x2="298.7" y2="82.65" stroke="#000" stroke-width="0.9"/>
<line x1="296.2" y1="79.41" x2="298.7" y2="79.41" stroke="#000" stroke-width="0.9"/>
<line x1="296.2" y1="76.17" x2="298.7" y2="76.17" stroke="#000" stroke-width="0.9"/>
<line x1="296.2" y1="72.92" x2="298.7" y2="72.92" stroke="#000" stroke-width="0.9"/>
<line x1="296.2" y1="69.68" x2="298.7" y2="69.68" stroke="#000" stroke-width="0.9"/>
<line x1="296.2" y1="66.44" x2="298.7" y2="66.44" stroke="#000" stroke-width="0.9"/>
<line x1="296.2" y1="63.2" x2="298.7" y2="63.2" stroke="#000" stroke-width="0.9"/>
<line x1="296.2" y1="59.96" x2="298.7" y2="59.96" stroke="#000" stroke-width="0.9"/>
<line x1="296.2" y1="56.72" x2="298.7" y2="56.72" stroke="#000" stroke-width="0.9"/>
<line x1="296.2" y1="53.47" x2="298.7" y2="53.47" stroke="#000" stroke-width="0.9"/>
<line x1="296.2" y1="50.23" x2="298.7" y2="50.23" stroke="#000" stroke-width="0.9"/>
<line x1="296.2" y1="46.99" x2="298.7" y2="46.99" stroke="#000" stroke-width="0.9"/>
<line x1="296.2" y1="43.75" x2="298.7" y2="43.75" stroke="#000" stroke-width="0.9"/>
<line x1="296.2" y1="40.51" x2="298.7" y2="40.51" stroke="#000" stroke-width="0.9"/>
<line x1="296.2" y1="37.27" x2="298.7" y2="37.27" stroke="#000" stroke-width="0.9"/>
<line x1="296.2" y1="34.02" x2="298.7" y2="34.02" stroke="#000" stroke-width="0.9"/>
<line x1="296.2" y1="30.78" x2="298.7" y2="30.78" stroke="#000" stroke-width="0.9"/>
<line x1="296.2" y1="27.54" x2="298.7" y2="27.54" stroke="#000" stroke-width="0.9"/>
<line x1="296.2" y1="24.3" x2="298.7" y2="24.3" stroke="#000" stroke-width="0.9"/>
<line x1="296.2" y1="102.1" x2="300.8" y2="102.1" stroke="#000" stroke-width="1"/>
<text x="305.1" y="103.7" font-size="4.3" textLength="10.44" lengthAdjust="spacingAndGlyphs" class="sm">−7.2</text>
<line x1="296.2" y1="92.38" x2="300.8" y2="92.38" stroke="#000" stroke-width="1"/>
<text x="305.1" y="93.97" font-size="4.3" textLength="10.44" lengthAdjust="spacingAndGlyphs" class="sm">−5.4</text>
<line x1="296.2" y1="82.65" x2="300.8" y2="82.65" stroke="#000" stroke-width="1"/>
<text x="305.1" y="84.25" font-size="4.3" textLength="10.44" lengthAdjust="spacingAndGlyphs" class="sm">−3.6</text>
<line x1="296.2" y1="72.92" x2="300.8" y2="72.92" stroke="#000" stroke-width="1"/>
<text x="305.1" y="74.52" font-size="4.3" textLength="10.44" lengthAdjust="spacingAndGlyphs" class="sm">−1.8</text>
<line x1="296.2" y1="63.2" x2="300.8" y2="63.2" stroke="#000" stroke-width="1"/>
<text x="305.1" y="64.8" font-size="4.3" textLength="6.84" lengthAdjust="spacingAndGlyphs" class="sm">0.0</text>
<line x1="296.2" y1="53.47" x2="300.8" y2="53.47" stroke="#000" stroke-width="1"/>
<text x="305.1" y="55.07" font-size="4.3" textLength="6.84" lengthAdjust="spacingAndGlyphs" class="sm">1.8</text>
<line x1="296.2" y1="43.75" x2="300.8" y2="43.75" stroke="#000" stroke-width="1"/>
<text x="305.1" y="45.35" font-size="4.3" textLength="6.84" lengthAdjust="spacingAndGlyphs" class="sm">3.6</text>
<line x1="296.2" y1="34.02" x2="300.8" y2="34.02" stroke="#000" stroke-width="1"/>
<text x="305.1" y="35.62" font-size="4.3" textLength="6.84" lengthAdjust="spacingAndGlyphs" class="sm">5.4</text>
<line x1="296.2" y1="24.3" x2="300.8" y2="24.3" stroke="#000" stroke-width="1"/>
<text x="305.1" y="25.9" font-size="4.3" textLength="6.84" lengthAdjust="spacingAndGlyphs" class="sm">7.2</text>
<text transform="translate(326.3,63.2) rotate(-90)" font-size="6.9" class="lg" text-anchor="middle" textLength="93" lengthAdjust="spacingAndGlyphs">rms: % diff. from AllSky-L1200</text>
<clipPath id="cp2"><rect x="368.4" y="24.3" width="87.7" height="77.8"/></clipPath>
<g clip-path="url(#cp2)">
<g shape-rendering="crispEdges">
<rect x="368.4" y="23.9" width="5.46" height="8.37" fill="#e3e3ff"/>
<rect x="373.56" y="23.9" width="5.46" height="8.37" fill="#6060ff"/>
<rect x="378.72" y="23.9" width="5.46" height="8.37" fill="#b8b8ff"/>
<rect x="383.88" y="23.9" width="5.46" height="8.37" fill="#f1f1ff"/>
<rect x="389.04" y="23.9" width="5.46" height="8.37" fill="#fff6f6"/>
<rect x="394.19" y="23.9" width="10.62" height="8.37" fill="#ffdcdc"/>
<rect x="404.51" y="23.9" width="5.46" height="8.37" fill="#dcdcff"/>
<rect x="409.67" y="23.9" width="5.46" height="8.37" fill="#fff6f6"/>
<rect x="414.83" y="23.9" width="5.46" height="8.37" fill="#f1f1ff"/>
<rect x="419.99" y="23.9" width="15.78" height="8.37" fill="#fff6f6"/>
<rect x="435.46" y="23.9" width="5.46" height="8.37" fill="#ffdcdc"/>
<rect x="440.62" y="23.9" width="5.46" height="8.37" fill="#f6f6ff"/>
<rect x="445.78" y="23.9" width="5.46" height="8.37" fill="#9c9cff"/>
<rect x="450.94" y="23.9" width="5.46" height="8.37" fill="#fff6f6"/>
<rect x="368.4" y="31.97" width="5.46" height="7.37" fill="#fff1f1"/>
<rect x="373.56" y="31.97" width="10.62" height="7.37" fill="#dcdcff"/>
<rect x="383.88" y="31.97" width="5.46" height="7.37" fill="#f6f6ff"/>
<rect x="389.04" y="31.97" width="15.78" height="7.37" fill="#fff6f6"/>
<rect x="404.51" y="31.97" width="5.46" height="7.37" fill="#e3e3ff"/>
<rect x="409.67" y="31.97" width="10.62" height="7.37" fill="#f6f6ff"/>
<rect x="419.99" y="31.97" width="5.46" height="7.37" fill="#e3e3ff"/>
<rect x="425.15" y="31.97" width="5.46" height="7.37" fill="#f6f6ff"/>
<rect x="430.31" y="31.97" width="5.46" height="7.37" fill="#e3e3ff"/>
<rect x="435.46" y="31.97" width="10.62" height="7.37" fill="#f6f6ff"/>
<rect x="445.78" y="31.97" width="5.46" height="7.37" fill="#fff1f1"/>
<rect x="450.94" y="31.97" width="5.46" height="7.37" fill="#ff9c9c"/>
<rect x="368.4" y="39.05" width="5.46" height="7.37" fill="#9595ff"/>
<rect x="373.56" y="39.05" width="5.46" height="7.37" fill="#f6f6ff"/>
<rect x="378.72" y="39.05" width="5.46" height="7.37" fill="#cacaff"/>
<rect x="383.88" y="39.05" width="5.46" height="7.37" fill="#f6f6ff"/>
<rect x="389.04" y="39.05" width="5.46" height="7.37" fill="#fff6f6"/>
<rect x="394.19" y="39.05" width="5.46" height="7.37" fill="#b8b8ff"/>
<rect x="399.35" y="39.05" width="5.46" height="7.37" fill="#b1b1ff"/>
<rect x="404.51" y="39.05" width="5.46" height="7.37" fill="#dcdcff"/>
<rect x="409.67" y="39.05" width="5.46" height="7.37" fill="#ffdcdc"/>
<rect x="414.83" y="39.05" width="5.46" height="7.37" fill="#cacaff"/>
<rect x="419.99" y="39.05" width="5.46" height="7.37" fill="#dcdcff"/>
<rect x="425.15" y="39.05" width="5.46" height="7.37" fill="#f6f6ff"/>
<rect x="430.31" y="39.05" width="5.46" height="7.37" fill="#dcdcff"/>
<rect x="435.46" y="39.05" width="5.46" height="7.37" fill="#e3e3ff"/>
<rect x="440.62" y="39.05" width="5.46" height="7.37" fill="#ffd4d4"/>
<rect x="445.78" y="39.05" width="10.62" height="7.37" fill="#f6f6ff"/>
<rect x="368.4" y="46.12" width="5.46" height="7.37" fill="#1c1cff"/>
<rect x="373.56" y="46.12" width="5.46" height="7.37" fill="#a7a7ff"/>
<rect x="378.72" y="46.12" width="5.46" height="7.37" fill="#bfbfff"/>
<rect x="383.88" y="46.12" width="5.46" height="7.37" fill="#f6f6ff"/>
<rect x="389.04" y="46.12" width="5.46" height="7.37" fill="#e3e3ff"/>
<rect x="394.19" y="46.12" width="5.46" height="7.37" fill="#cacaff"/>
<rect x="399.35" y="46.12" width="10.62" height="7.37" fill="#bfbfff"/>
<rect x="409.67" y="46.12" width="5.46" height="7.37" fill="#f6f6ff"/>
<rect x="414.83" y="46.12" width="5.46" height="7.37" fill="#bfbfff"/>
<rect x="419.99" y="46.12" width="5.46" height="7.37" fill="#e3e3ff"/>
<rect x="425.15" y="46.12" width="5.46" height="7.37" fill="#f6f6ff"/>
<rect x="430.31" y="46.12" width="5.46" height="7.37" fill="#cacaff"/>
<rect x="435.46" y="46.12" width="5.46" height="7.37" fill="#f6f6ff"/>
<rect x="440.62" y="46.12" width="5.46" height="7.37" fill="#ffd4d4"/>
<rect x="445.78" y="46.12" width="5.46" height="7.37" fill="#f6f6ff"/>
<rect x="450.94" y="46.12" width="5.46" height="7.37" fill="#ffdcdc"/>
<rect x="368.4" y="53.19" width="5.46" height="7.37" fill="#fff6f6"/>
<rect x="373.56" y="53.19" width="5.46" height="7.37" fill="#b1b1ff"/>
<rect x="378.72" y="53.19" width="15.78" height="7.37" fill="#f1f1ff"/>
<rect x="394.19" y="53.19" width="5.46" height="7.37" fill="#9c9cff"/>
<rect x="399.35" y="53.19" width="5.46" height="7.37" fill="#9595ff"/>
<rect x="404.51" y="53.19" width="5.46" height="7.37" fill="#dcdcff"/>
<rect x="409.67" y="53.19" width="5.46" height="7.37" fill="#fff6f6"/>
<rect x="414.83" y="53.19" width="5.46" height="7.37" fill="#b1b1ff"/>
<rect x="419.99" y="53.19" width="20.94" height="7.37" fill="#f6f6ff"/>
<rect x="440.62" y="53.19" width="5.46" height="7.37" fill="#fff1f1"/>
<rect x="445.78" y="53.19" width="5.46" height="7.37" fill="#f6f6ff"/>
<rect x="450.94" y="53.19" width="5.46" height="7.37" fill="#ffdcdc"/>
<rect x="368.4" y="60.26" width="5.46" height="7.37" fill="#dcdcff"/>
<rect x="373.56" y="60.26" width="5.46" height="7.37" fill="#fff6f6"/>
<rect x="378.72" y="60.26" width="5.46" height="7.37" fill="#b1b1ff"/>
<rect x="383.88" y="60.26" width="5.46" height="7.37" fill="#dcdcff"/>
<rect x="389.04" y="60.26" width="5.46" height="7.37" fill="#fff1f1"/>
<rect x="394.19" y="60.26" width="5.46" height="7.37" fill="#e3e3ff"/>
<rect x="399.35" y="60.26" width="5.46" height="7.37" fill="#dcdcff"/>
<rect x="404.51" y="60.26" width="5.46" height="7.37" fill="#e3e3ff"/>
<rect x="409.67" y="60.26" width="5.46" height="7.37" fill="#fff6f6"/>
<rect x="414.83" y="60.26" width="5.46" height="7.37" fill="#b8b8ff"/>
<rect x="419.99" y="60.26" width="5.46" height="7.37" fill="#fff1f1"/>
<rect x="425.15" y="60.26" width="5.46" height="7.37" fill="#f6f6ff"/>
<rect x="430.31" y="60.26" width="5.46" height="7.37" fill="#fff1f1"/>
<rect x="435.46" y="60.26" width="5.46" height="7.37" fill="#dcdcff"/>
<rect x="440.62" y="60.26" width="5.46" height="7.37" fill="#fff1f1"/>
<rect x="445.78" y="60.26" width="5.46" height="7.37" fill="#ffcaca"/>
<rect x="450.94" y="60.26" width="5.46" height="7.37" fill="#ffe3e3"/>
<rect x="368.4" y="67.34" width="5.46" height="7.37" fill="#fff6f6"/>
<rect x="373.56" y="67.34" width="5.46" height="7.37" fill="#f6f6ff"/>
<rect x="378.72" y="67.34" width="5.46" height="7.37" fill="#dcdcff"/>
<rect x="383.88" y="67.34" width="5.46" height="7.37" fill="#f6f6ff"/>
<rect x="389.04" y="67.34" width="5.46" height="7.37" fill="#e3e3ff"/>
<rect x="394.19" y="67.34" width="5.46" height="7.37" fill="#dcdcff"/>
<rect x="399.35" y="67.34" width="5.46" height="7.37" fill="#b8b8ff"/>
<rect x="404.51" y="67.34" width="5.46" height="7.37" fill="#9c9cff"/>
<rect x="409.67" y="67.34" width="5.46" height="7.37" fill="#cacaff"/>
<rect x="414.83" y="67.34" width="5.46" height="7.37" fill="#f6f6ff"/>
<rect x="419.99" y="67.34" width="5.46" height="7.37" fill="#dcdcff"/>
<rect x="425.15" y="67.34" width="5.46" height="7.37" fill="#f6f6ff"/>
<rect x="430.31" y="67.34" width="5.46" height="7.37" fill="#fff1f1"/>
<rect x="435.46" y="67.34" width="5.46" height="7.37" fill="#e3e3ff"/>
<rect x="440.62" y="67.34" width="5.46" height="7.37" fill="#fff6f6"/>
<rect x="445.78" y="67.34" width="5.46" height="7.37" fill="#cacaff"/>
<rect x="450.94" y="67.34" width="5.46" height="7.37" fill="#f6f6ff"/>
<rect x="368.4" y="74.41" width="5.46" height="7.37" fill="#f1f1ff"/>
<rect x="373.56" y="74.41" width="5.46" height="7.37" fill="#f6f6ff"/>
<rect x="378.72" y="74.41" width="5.46" height="7.37" fill="#dcdcff"/>
<rect x="383.88" y="74.41" width="5.46" height="7.37" fill="#7171ff"/>
<rect x="389.04" y="74.41" width="5.46" height="7.37" fill="#6060ff"/>
<rect x="394.19" y="74.41" width="5.46" height="7.37" fill="#8383ff"/>
<rect x="399.35" y="74.41" width="5.46" height="7.37" fill="#cacaff"/>
<rect x="404.51" y="74.41" width="5.46" height="7.37" fill="#e3e3ff"/>
<rect x="409.67" y="74.41" width="5.46" height="7.37" fill="#8383ff"/>
<rect x="414.83" y="74.41" width="5.46" height="7.37" fill="#ffd4d4"/>
<rect x="419.99" y="74.41" width="5.46" height="7.37" fill="#7878ff"/>
<rect x="425.15" y="74.41" width="5.46" height="7.37" fill="#f6f6ff"/>
<rect x="430.31" y="74.41" width="5.46" height="7.37" fill="#fff1f1"/>
<rect x="435.46" y="74.41" width="5.46" height="7.37" fill="#dcdcff"/>
<rect x="440.62" y="74.41" width="5.46" height="7.37" fill="#f6f6ff"/>
<rect x="445.78" y="74.41" width="5.46" height="7.37" fill="#b8b8ff"/>
<rect x="450.94" y="74.41" width="5.46" height="7.37" fill="#b1b1ff"/>
<rect x="368.4" y="81.48" width="5.46" height="7.37" fill="#b1b1ff"/>
<rect x="373.56" y="81.48" width="5.46" height="7.37" fill="#f6f6ff"/>
<rect x="378.72" y="81.48" width="5.46" height="7.37" fill="#dcdcff"/>
<rect x="383.88" y="81.48" width="5.46" height="7.37" fill="#7878ff"/>
<rect x="389.04" y="81.48" width="5.46" height="7.37" fill="#9c9cff"/>
<rect x="394.19" y="81.48" width="5.46" height="7.37" fill="#7878ff"/>
<rect x="399.35" y="81.48" width="5.46" height="7.37" fill="#b8b8ff"/>
<rect x="404.51" y="81.48" width="5.46" height="7.37" fill="#fff6f6"/>
<rect x="409.67" y="81.48" width="5.46" height="7.37" fill="#8383ff"/>
<rect x="414.83" y="81.48" width="5.46" height="7.37" fill="#ffd4d4"/>
<rect x="419.99" y="81.48" width="5.46" height="7.37" fill="#cacaff"/>
<rect x="425.15" y="81.48" width="5.46" height="7.37" fill="#f6f6ff"/>
<rect x="430.31" y="81.48" width="5.46" height="7.37" fill="#fff1f1"/>
<rect x="435.46" y="81.48" width="5.46" height="7.37" fill="#e3e3ff"/>
<rect x="440.62" y="81.48" width="10.62" height="7.37" fill="#f6f6ff"/>
<rect x="450.94" y="81.48" width="5.46" height="7.37" fill="#2a2aff"/>
<rect x="368.4" y="88.55" width="5.46" height="7.37" fill="#dcdcff"/>
<rect x="373.56" y="88.55" width="5.46" height="7.37" fill="#f6f6ff"/>
<rect x="378.72" y="88.55" width="5.46" height="7.37" fill="#b8b8ff"/>
<rect x="383.88" y="88.55" width="5.46" height="7.37" fill="#4e4eff"/>
<rect x="389.04" y="88.55" width="5.46" height="7.37" fill="#a7a7ff"/>
<rect x="394.19" y="88.55" width="5.46" height="7.37" fill="#b1b1ff"/>
<rect x="399.35" y="88.55" width="5.46" height="7.37" fill="#f1f1ff"/>
<rect x="404.51" y="88.55" width="5.46" height="7.37" fill="#ffb8b8"/>
<rect x="409.67" y="88.55" width="5.46" height="7.37" fill="#ffcaca"/>
<rect x="414.83" y="88.55" width="5.46" height="7.37" fill="#fff6f6"/>
<rect x="419.99" y="88.55" width="5.46" height="7.37" fill="#dcdcff"/>
<rect x="425.15" y="88.55" width="10.62" height="7.37" fill="#ffe3e3"/>
<rect x="435.46" y="88.55" width="10.62" height="7.37" fill="#f6f6ff"/>
<rect x="445.78" y="88.55" width="5.46" height="7.37" fill="#fff1f1"/>
<rect x="450.94" y="88.55" width="5.46" height="7.37" fill="#f6f6ff"/>
<rect x="368.4" y="95.63" width="5.46" height="7.37" fill="#fff6f6"/>
<rect x="373.56" y="95.63" width="5.46" height="7.37" fill="#f1f1ff"/>
<rect x="378.72" y="95.63" width="5.46" height="7.37" fill="#a7a7ff"/>
<rect x="383.88" y="95.63" width="5.46" height="7.37" fill="#8383ff"/>
<rect x="389.04" y="95.63" width="5.46" height="7.37" fill="#9c9cff"/>
<rect x="394.19" y="95.63" width="5.46" height="7.37" fill="#b8b8ff"/>
<rect x="399.35" y="95.63" width="5.46" height="7.37" fill="#f6f6ff"/>
<rect x="404.51" y="95.63" width="5.46" height="7.37" fill="#ffdcdc"/>
<rect x="409.67" y="95.63" width="5.46" height="7.37" fill="#ffcaca"/>
<rect x="414.83" y="95.63" width="5.46" height="7.37" fill="#fff6f6"/>
<rect x="419.99" y="95.63" width="5.46" height="7.37" fill="#dcdcff"/>
<rect x="425.15" y="95.63" width="10.62" height="7.37" fill="#fff6f6"/>
<rect x="435.46" y="95.63" width="15.78" height="7.37" fill="#f6f6ff"/>
<rect x="450.94" y="95.63" width="5.46" height="7.37" fill="#dcdcff"/>
</g>
<g fill="none" stroke="#000" stroke-opacity="0.55" stroke-width="0.95">
<ellipse cx="376.14" cy="28.44" rx="1.15" ry="1.95"/>
<ellipse cx="381.3" cy="28.44" rx="1.15" ry="1.95"/>
<ellipse cx="396.77" cy="28.44" rx="1.15" ry="1.95"/>
<ellipse cx="401.93" cy="28.44" rx="1.15" ry="1.95"/>
<ellipse cx="407.09" cy="28.44" rx="1.15" ry="1.95"/>
<ellipse cx="417.41" cy="28.44" rx="1.15" ry="1.95"/>
<ellipse cx="438.04" cy="28.44" rx="1.15" ry="1.95"/>
<ellipse cx="448.36" cy="28.44" rx="1.15" ry="1.95"/>
<ellipse cx="376.14" cy="35.51" rx="1.15" ry="1.95"/>
<ellipse cx="396.77" cy="35.51" rx="1.15" ry="1.95"/>
<ellipse cx="407.09" cy="35.51" rx="1.15" ry="1.95"/>
<ellipse cx="422.57" cy="35.51" rx="1.15" ry="1.95"/>
<ellipse cx="432.89" cy="35.51" rx="1.15" ry="1.95"/>
<ellipse cx="381.3" cy="42.58" rx="1.15" ry="1.95"/>
<ellipse cx="396.77" cy="42.58" rx="1.15" ry="1.95"/>
<ellipse cx="401.93" cy="42.58" rx="1.15" ry="1.95"/>
<ellipse cx="407.09" cy="42.58" rx="1.15" ry="1.95"/>
<ellipse cx="412.25" cy="42.58" rx="1.15" ry="1.95"/>
<ellipse cx="417.41" cy="42.58" rx="1.15" ry="1.95"/>
<ellipse cx="422.57" cy="42.58" rx="1.15" ry="1.95"/>
<ellipse cx="432.89" cy="42.58" rx="1.15" ry="1.95"/>
<ellipse cx="438.04" cy="42.58" rx="1.15" ry="1.95"/>
<ellipse cx="370.98" cy="49.65" rx="1.15" ry="1.95"/>
<ellipse cx="376.14" cy="49.65" rx="1.15" ry="1.95"/>
<ellipse cx="381.3" cy="49.65" rx="1.15" ry="1.95"/>
<ellipse cx="391.61" cy="49.65" rx="1.15" ry="1.95"/>
<ellipse cx="396.77" cy="49.65" rx="1.15" ry="1.95"/>
<ellipse cx="401.93" cy="49.65" rx="1.15" ry="1.95"/>
<ellipse cx="407.09" cy="49.65" rx="1.15" ry="1.95"/>
<ellipse cx="417.41" cy="49.65" rx="1.15" ry="1.95"/>
<ellipse cx="422.57" cy="49.65" rx="1.15" ry="1.95"/>
<ellipse cx="432.89" cy="49.65" rx="1.15" ry="1.95"/>
<ellipse cx="376.14" cy="56.73" rx="1.15" ry="1.95"/>
<ellipse cx="396.77" cy="56.73" rx="1.15" ry="1.95"/>
<ellipse cx="401.93" cy="56.73" rx="1.15" ry="1.95"/>
<ellipse cx="407.09" cy="56.73" rx="1.15" ry="1.95"/>
<ellipse cx="417.41" cy="56.73" rx="1.15" ry="1.95"/>
<ellipse cx="453.52" cy="56.73" rx="1.15" ry="1.95"/>
<ellipse cx="370.98" cy="63.8" rx="1.15" ry="1.95"/>
<ellipse cx="381.3" cy="63.8" rx="1.15" ry="1.95"/>
<ellipse cx="396.77" cy="63.8" rx="1.15" ry="1.95"/>
<ellipse cx="401.93" cy="63.8" rx="1.15" ry="1.95"/>
<ellipse cx="407.09" cy="63.8" rx="1.15" ry="1.95"/>
<ellipse cx="417.41" cy="63.8" rx="1.15" ry="1.95"/>
<ellipse cx="427.73" cy="63.8" rx="1.15" ry="1.95"/>
<ellipse cx="438.04" cy="63.8" rx="1.15" ry="1.95"/>
<ellipse cx="448.36" cy="63.8" rx="1.15" ry="1.95"/>
<ellipse cx="381.3" cy="70.87" rx="1.15" ry="1.95"/>
<ellipse cx="391.61" cy="70.87" rx="1.15" ry="1.95"/>
<ellipse cx="396.77" cy="70.87" rx="1.15" ry="1.95"/>
<ellipse cx="401.93" cy="70.87" rx="1.15" ry="1.95"/>
<ellipse cx="407.09" cy="70.87" rx="1.15" ry="1.95"/>
<ellipse cx="417.41" cy="70.87" rx="1.15" ry="1.95"/>
<ellipse cx="422.57" cy="70.87" rx="1.15" ry="1.95"/>
<ellipse cx="438.04" cy="70.87" rx="1.15" ry="1.95"/>
<ellipse cx="381.3" cy="77.95" rx="1.15" ry="1.95"/>
<ellipse cx="386.46" cy="77.95" rx="1.15" ry="1.95"/>
<ellipse cx="391.61" cy="77.95" rx="1.15" ry="1.95"/>
<ellipse cx="396.77" cy="77.95" rx="1.15" ry="1.95"/>
<ellipse cx="401.93" cy="77.95" rx="1.15" ry="1.95"/>
<ellipse cx="407.09" cy="77.95" rx="1.15" ry="1.95"/>
<ellipse cx="412.25" cy="77.95" rx="1.15" ry="1.95"/>
<ellipse cx="417.41" cy="77.95" rx="1.15" ry="1.95"/>
<ellipse cx="422.57" cy="77.95" rx="1.15" ry="1.95"/>
<ellipse cx="438.04" cy="77.95" rx="1.15" ry="1.95"/>
<ellipse cx="443.2" cy="77.95" rx="1.15" ry="1.95"/>
<ellipse cx="448.36" cy="77.95" rx="1.15" ry="1.95"/>
<ellipse cx="370.98" cy="85.02" rx="1.15" ry="1.95"/>
<ellipse cx="381.3" cy="85.02" rx="1.15" ry="1.95"/>
<ellipse cx="386.46" cy="85.02" rx="1.15" ry="1.95"/>
<ellipse cx="391.61" cy="85.02" rx="1.15" ry="1.95"/>
<ellipse cx="396.77" cy="85.02" rx="1.15" ry="1.95"/>
<ellipse cx="401.93" cy="85.02" rx="1.15" ry="1.95"/>
<ellipse cx="412.25" cy="85.02" rx="1.15" ry="1.95"/>
<ellipse cx="417.41" cy="85.02" rx="1.15" ry="1.95"/>
<ellipse cx="422.57" cy="85.02" rx="1.15" ry="1.95"/>
<ellipse cx="438.04" cy="85.02" rx="1.15" ry="1.95"/>
<ellipse cx="453.52" cy="85.02" rx="1.15" ry="1.95"/>
<ellipse cx="370.98" cy="92.09" rx="1.15" ry="1.95"/>
<ellipse cx="381.3" cy="92.09" rx="1.15" ry="1.95"/>
<ellipse cx="386.46" cy="92.09" rx="1.15" ry="1.95"/>
<ellipse cx="391.61" cy="92.09" rx="1.15" ry="1.95"/>
<ellipse cx="396.77" cy="92.09" rx="1.15" ry="1.95"/>
<ellipse cx="401.93" cy="92.09" rx="1.15" ry="1.95"/>
<ellipse cx="407.09" cy="92.09" rx="1.15" ry="1.95"/>
<ellipse cx="412.25" cy="92.09" rx="1.15" ry="1.95"/>
<ellipse cx="422.57" cy="92.09" rx="1.15" ry="1.95"/>
<ellipse cx="438.04" cy="92.09" rx="1.15" ry="1.95"/>
<ellipse cx="443.2" cy="92.09" rx="1.15" ry="1.95"/>
<ellipse cx="381.3" cy="99.16" rx="1.15" ry="1.95"/>
<ellipse cx="386.46" cy="99.16" rx="1.15" ry="1.95"/>
<ellipse cx="391.61" cy="99.16" rx="1.15" ry="1.95"/>
<ellipse cx="396.77" cy="99.16" rx="1.15" ry="1.95"/>
<ellipse cx="407.09" cy="99.16" rx="1.15" ry="1.95"/>
<ellipse cx="412.25" cy="99.16" rx="1.15" ry="1.95"/>
<ellipse cx="417.41" cy="99.16" rx="1.15" ry="1.95"/>
<ellipse cx="422.57" cy="99.16" rx="1.15" ry="1.95"/>
<ellipse cx="438.04" cy="99.16" rx="1.15" ry="1.95"/>
</g>
</g>
<rect x="368.4" y="24.3" width="87.7" height="77.8" fill="none" stroke="#000" stroke-width="1.1"/>
<line x1="363.8" y1="100.4" x2="368.4" y2="100.4" stroke="#000" stroke-width="1"/>
<text x="359.5" y="102.1" font-size="4.4" text-anchor="end" textLength="2.8" lengthAdjust="spacingAndGlyphs" class="sm">0</text>
<line x1="363.8" y1="87.52" x2="368.4" y2="87.52" stroke="#000" stroke-width="1"/>
<text x="359.5" y="89.22" font-size="4.4" text-anchor="end" textLength="5.6" lengthAdjust="spacingAndGlyphs" class="sm">10</text>
<line x1="363.8" y1="74.64" x2="368.4" y2="74.64" stroke="#000" stroke-width="1"/>
<text x="359.5" y="76.34" font-size="4.4" text-anchor="end" textLength="5.6" lengthAdjust="spacingAndGlyphs" class="sm">20</text>
<line x1="363.8" y1="61.76" x2="368.4" y2="61.76" stroke="#000" stroke-width="1"/>
<text x="359.5" y="63.46" font-size="4.4" text-anchor="end" textLength="5.6" lengthAdjust="spacingAndGlyphs" class="sm">30</text>
<line x1="363.8" y1="48.88" x2="368.4" y2="48.88" stroke="#000" stroke-width="1"/>
<text x="359.5" y="50.58" font-size="4.4" text-anchor="end" textLength="5.6" lengthAdjust="spacingAndGlyphs" class="sm">40</text>
<line x1="363.8" y1="36" x2="368.4" y2="36" stroke="#000" stroke-width="1"/>
<text x="359.5" y="37.7" font-size="4.4" text-anchor="end" textLength="5.6" lengthAdjust="spacingAndGlyphs" class="sm">50</text>
<line x1="388.95" y1="102.1" x2="388.95" y2="106.7" stroke="#000" stroke-width="1"/>
<text x="388.95" y="115.2" font-size="4.4" text-anchor="middle" textLength="9.29" lengthAdjust="spacingAndGlyphs" class="sm">−50</text>
<line x1="412.25" y1="102.1" x2="412.25" y2="106.7" stroke="#000" stroke-width="1"/>
<text x="412.25" y="115.2" font-size="4.4" text-anchor="middle" textLength="2.8" lengthAdjust="spacingAndGlyphs" class="sm">0</text>
<line x1="435.55" y1="102.1" x2="435.55" y2="106.7" stroke="#000" stroke-width="1"/>
<text x="435.55" y="115.2" font-size="4.4" text-anchor="middle" textLength="5.6" lengthAdjust="spacingAndGlyphs" class="sm">50</text>
<text x="412.25" y="126.3" font-size="7" text-anchor="middle" textLength="35.2" lengthAdjust="spacingAndGlyphs" class="lg">latitude (°)</text>
<text transform="translate(347.9,63.2) rotate(-90)" font-size="7" class="lg" text-anchor="middle" textLength="38.2" lengthAdjust="spacingAndGlyphs">model level</text>
<text x="412.25" y="8.24" font-size="7.8" text-anchor="middle" textLength="33.87" lengthAdjust="spacingAndGlyphs" class="lg">(c) AllSky</text>
<text x="412.25" y="16.4" font-size="7.7" text-anchor="middle" textLength="5.42" lengthAdjust="spacingAndGlyphs" class="lg">U</text>
<rect x="461.6" y="24.3" width="3.8" height="77.8" fill="url(#gdiv)"/>
<rect x="461.6" y="24.3" width="3.8" height="77.8" fill="none" stroke="#000" stroke-width="1"/>
<line x1="465.4" y1="102.1" x2="467.9" y2="102.1" stroke="#000" stroke-width="0.9"/>
<line x1="465.4" y1="98.86" x2="467.9" y2="98.86" stroke="#000" stroke-width="0.9"/>
<line x1="465.4" y1="95.62" x2="467.9" y2="95.62" stroke="#000" stroke-width="0.9"/>
<line x1="465.4" y1="92.38" x2="467.9" y2="92.38" stroke="#000" stroke-width="0.9"/>
<line x1="465.4" y1="89.13" x2="467.9" y2="89.13" stroke="#000" stroke-width="0.9"/>
<line x1="465.4" y1="85.89" x2="467.9" y2="85.89" stroke="#000" stroke-width="0.9"/>
<line x1="465.4" y1="82.65" x2="467.9" y2="82.65" stroke="#000" stroke-width="0.9"/>
<line x1="465.4" y1="79.41" x2="467.9" y2="79.41" stroke="#000" stroke-width="0.9"/>
<line x1="465.4" y1="76.17" x2="467.9" y2="76.17" stroke="#000" stroke-width="0.9"/>
<line x1="465.4" y1="72.92" x2="467.9" y2="72.92" stroke="#000" stroke-width="0.9"/>
<line x1="465.4" y1="69.68" x2="467.9" y2="69.68" stroke="#000" stroke-width="0.9"/>
<line x1="465.4" y1="66.44" x2="467.9" y2="66.44" stroke="#000" stroke-width="0.9"/>
<line x1="465.4" y1="63.2" x2="467.9" y2="63.2" stroke="#000" stroke-width="0.9"/>
<line x1="465.4" y1="59.96" x2="467.9" y2="59.96" stroke="#000" stroke-width="0.9"/>
<line x1="465.4" y1="56.72" x2="467.9" y2="56.72" stroke="#000" stroke-width="0.9"/>
<line x1="465.4" y1="53.47" x2="467.9" y2="53.47" stroke="#000" stroke-width="0.9"/>
<line x1="465.4" y1="50.23" x2="467.9" y2="50.23" stroke="#000" stroke-width="0.9"/>
<line x1="465.4" y1="46.99" x2="467.9" y2="46.99" stroke="#000" stroke-width="0.9"/>
<line x1="465.4" y1="43.75" x2="467.9" y2="43.75" stroke="#000" stroke-width="0.9"/>
<line x1="465.4" y1="40.51" x2="467.9" y2="40.51" stroke="#000" stroke-width="0.9"/>
<line x1="465.4" y1="37.27" x2="467.9" y2="37.27" stroke="#000" stroke-width="0.9"/>
<line x1="465.4" y1="34.02" x2="467.9" y2="34.02" stroke="#000" stroke-width="0.9"/>
<line x1="465.4" y1="30.78" x2="467.9" y2="30.78" stroke="#000" stroke-width="0.9"/>
<line x1="465.4" y1="27.54" x2="467.9" y2="27.54" stroke="#000" stroke-width="0.9"/>
<line x1="465.4" y1="24.3" x2="467.9" y2="24.3" stroke="#000" stroke-width="0.9"/>
<line x1="465.4" y1="102.1" x2="470" y2="102.1" stroke="#000" stroke-width="1"/>
<text x="474.3" y="103.7" font-size="4.3" textLength="10.44" lengthAdjust="spacingAndGlyphs" class="sm">−7.2</text>
<line x1="465.4" y1="92.38" x2="470" y2="92.38" stroke="#000" stroke-width="1"/>
<text x="474.3" y="93.97" font-size="4.3" textLength="10.44" lengthAdjust="spacingAndGlyphs" class="sm">−5.4</text>
<line x1="465.4" y1="82.65" x2="470" y2="82.65" stroke="#000" stroke-width="1"/>
<text x="474.3" y="84.25" font-size="4.3" textLength="10.44" lengthAdjust="spacingAndGlyphs" class="sm">−3.6</text>
<line x1="465.4" y1="72.92" x2="470" y2="72.92" stroke="#000" stroke-width="1"/>
<text x="474.3" y="74.52" font-size="4.3" textLength="10.44" lengthAdjust="spacingAndGlyphs" class="sm">−1.8</text>
<line x1="465.4" y1="63.2" x2="470" y2="63.2" stroke="#000" stroke-width="1"/>
<text x="474.3" y="64.8" font-size="4.3" textLength="6.84" lengthAdjust="spacingAndGlyphs" class="sm">0.0</text>
<line x1="465.4" y1="53.47" x2="470" y2="53.47" stroke="#000" stroke-width="1"/>
<text x="474.3" y="55.07" font-size="4.3" textLength="6.84" lengthAdjust="spacingAndGlyphs" class="sm">1.8</text>
<line x1="465.4" y1="43.75" x2="470" y2="43.75" stroke="#000" stroke-width="1"/>
<text x="474.3" y="45.35" font-size="4.3" textLength="6.84" lengthAdjust="spacingAndGlyphs" class="sm">3.6</text>
<line x1="465.4" y1="34.02" x2="470" y2="34.02" stroke="#000" stroke-width="1"/>
<text x="474.3" y="35.62" font-size="4.3" textLength="6.84" lengthAdjust="spacingAndGlyphs" class="sm">5.4</text>
<line x1="465.4" y1="24.3" x2="470" y2="24.3" stroke="#000" stroke-width="1"/>
<text x="474.3" y="25.9" font-size="4.3" textLength="6.84" lengthAdjust="spacingAndGlyphs" class="sm">7.2</text>
<text transform="translate(495.5,63.2) rotate(-90)" font-size="6.9" class="lg" text-anchor="middle" textLength="93" lengthAdjust="spacingAndGlyphs">rms: % diff. from AllSky-L1200</text>
<clipPath id="cp3"><rect x="30" y="156.4" width="87.3" height="77.8"/></clipPath>
<g clip-path="url(#cp3)">
<g shape-rendering="crispEdges">
<rect x="30" y="156" width="5.44" height="8.37" fill="#ca4b02"/>
<rect x="35.14" y="156" width="10.57" height="8.37" fill="#dc5e0b"/>
<rect x="45.41" y="156" width="5.44" height="8.37" fill="#e76a11"/>
<rect x="50.54" y="156" width="5.44" height="8.37" fill="#f37f1c"/>
<rect x="55.68" y="156" width="5.44" height="8.37" fill="#feca5b"/>
<rect x="60.81" y="156" width="5.44" height="8.37" fill="#fed36f"/>
<rect x="65.95" y="156" width="5.44" height="8.37" fill="#fecf67"/>
<rect x="71.08" y="156" width="5.44" height="8.37" fill="#fed16b"/>
<rect x="76.22" y="156" width="5.44" height="8.37" fill="#fecf67"/>
<rect x="81.35" y="156" width="5.44" height="8.37" fill="#fec653"/>
<rect x="86.49" y="156" width="5.44" height="8.37" fill="#fe9f2e"/>
<rect x="91.62" y="156" width="5.44" height="8.37" fill="#fec14c"/>
<rect x="96.76" y="156" width="5.44" height="8.37" fill="#fec653"/>
<rect x="101.89" y="156" width="5.44" height="8.37" fill="#fed36f"/>
<rect x="107.03" y="156" width="5.44" height="8.37" fill="#fed97b"/>
<rect x="112.16" y="156" width="5.44" height="8.37" fill="#fee595"/>
<rect x="30" y="164.07" width="10.57" height="7.37" fill="#fecf67"/>
<rect x="40.27" y="164.07" width="10.57" height="7.37" fill="#feb945"/>
<rect x="50.54" y="164.07" width="5.44" height="7.37" fill="#fecf67"/>
<rect x="55.68" y="164.07" width="10.57" height="7.37" fill="#fed97b"/>
<rect x="65.95" y="164.07" width="5.44" height="7.37" fill="#fee08b"/>
<rect x="71.08" y="164.07" width="5.44" height="7.37" fill="#feeaa0"/>
<rect x="76.22" y="164.07" width="10.57" height="7.37" fill="#fed97b"/>
<rect x="86.49" y="164.07" width="5.44" height="7.37" fill="#fee08b"/>
<rect x="91.62" y="164.07" width="10.57" height="7.37" fill="#fee595"/>
<rect x="101.89" y="164.07" width="10.57" height="7.37" fill="#feeaa0"/>
<rect x="112.16" y="164.07" width="5.44" height="7.37" fill="#fee595"/>
<rect x="30" y="171.15" width="5.44" height="7.37" fill="#fed36f"/>
<rect x="35.14" y="171.15" width="10.57" height="7.37" fill="#fed97b"/>
<rect x="45.41" y="171.15" width="5.44" height="7.37" fill="#fecf67"/>
<rect x="50.54" y="171.15" width="5.44" height="7.37" fill="#fed97b"/>
<rect x="55.68" y="171.15" width="5.44" height="7.37" fill="#fee08b"/>
<rect x="60.81" y="171.15" width="5.44" height="7.37" fill="#fed36f"/>
<rect x="65.95" y="171.15" width="5.44" height="7.37" fill="#fec14c"/>
<rect x="71.08" y="171.15" width="5.44" height="7.37" fill="#fec653"/>
<rect x="76.22" y="171.15" width="10.57" height="7.37" fill="#fecf67"/>
<rect x="86.49" y="171.15" width="5.44" height="7.37" fill="#fed97b"/>
<rect x="91.62" y="171.15" width="10.57" height="7.37" fill="#fee595"/>
<rect x="101.89" y="171.15" width="5.44" height="7.37" fill="#feeaa0"/>
<rect x="107.03" y="171.15" width="5.44" height="7.37" fill="#fee08b"/>
<rect x="112.16" y="171.15" width="5.44" height="7.37" fill="#fed97b"/>
<rect x="30" y="178.22" width="5.44" height="7.37" fill="#fee595"/>
<rect x="35.14" y="178.22" width="5.44" height="7.37" fill="#feeaa0"/>
<rect x="40.27" y="178.22" width="5.44" height="7.37" fill="#fee595"/>
<rect x="45.41" y="178.22" width="5.44" height="7.37" fill="#fed97b"/>
<rect x="50.54" y="178.22" width="5.44" height="7.37" fill="#fed36f"/>
<rect x="55.68" y="178.22" width="5.44" height="7.37" fill="#fed97b"/>
<rect x="60.81" y="178.22" width="5.44" height="7.37" fill="#fec653"/>
<rect x="65.95" y="178.22" width="5.44" height="7.37" fill="#fc9527"/>
<rect x="71.08" y="178.22" width="10.57" height="7.37" fill="#f68720"/>
<rect x="81.35" y="178.22" width="5.44" height="7.37" fill="#feb945"/>
<rect x="86.49" y="178.22" width="5.44" height="7.37" fill="#fecf67"/>
<rect x="91.62" y="178.22" width="5.44" height="7.37" fill="#fee595"/>
<rect x="96.76" y="178.22" width="5.44" height="7.37" fill="#fee08b"/>
<rect x="101.89" y="178.22" width="15.71" height="7.37" fill="#feeaa0"/>
<rect x="30" y="185.29" width="5.44" height="7.37" fill="#fed97b"/>
<rect x="35.14" y="185.29" width="5.44" height="7.37" fill="#fed36f"/>
<rect x="40.27" y="185.29" width="5.44" height="7.37" fill="#fecf67"/>
<rect x="45.41" y="185.29" width="10.57" height="7.37" fill="#feb945"/>
<rect x="55.68" y="185.29" width="10.57" height="7.37" fill="#fecf67"/>
<rect x="65.95" y="185.29" width="15.71" height="7.37" fill="#fec653"/>
<rect x="81.35" y="185.29" width="10.57" height="7.37" fill="#fecf67"/>
<rect x="91.62" y="185.29" width="5.44" height="7.37" fill="#fec14c"/>
<rect x="96.76" y="185.29" width="5.44" height="7.37" fill="#fed97b"/>
<rect x="101.89" y="185.29" width="5.44" height="7.37" fill="#fee08b"/>
<rect x="107.03" y="185.29" width="10.57" height="7.37" fill="#feeaa0"/>
<rect x="30" y="192.36" width="5.44" height="7.37" fill="#fed36f"/>
<rect x="35.14" y="192.36" width="10.57" height="7.37" fill="#feac3a"/>
<rect x="45.41" y="192.36" width="5.44" height="7.37" fill="#fe9c2c"/>
<rect x="50.54" y="192.36" width="5.44" height="7.37" fill="#feac3a"/>
<rect x="55.68" y="192.36" width="5.44" height="7.37" fill="#fecf67"/>
<rect x="60.81" y="192.36" width="5.44" height="7.37" fill="#fed36f"/>
<rect x="65.95" y="192.36" width="5.44" height="7.37" fill="#fecf67"/>
<rect x="71.08" y="192.36" width="5.44" height="7.37" fill="#fed16b"/>
<rect x="76.22" y="192.36" width="10.57" height="7.37" fill="#fed36f"/>
<rect x="86.49" y="192.36" width="5.44" height="7.37" fill="#fecf67"/>
<rect x="91.62" y="192.36" width="5.44" height="7.37" fill="#feb945"/>
<rect x="96.76" y="192.36" width="5.44" height="7.37" fill="#fec653"/>
<rect x="101.89" y="192.36" width="5.44" height="7.37" fill="#fecf67"/>
<rect x="107.03" y="192.36" width="5.44" height="7.37" fill="#fed97b"/>
<rect x="112.16" y="192.36" width="5.44" height="7.37" fill="#fee595"/>
<rect x="30" y="199.44" width="5.44" height="7.37" fill="#fecf67"/>
<rect x="35.14" y="199.44" width="10.57" height="7.37" fill="#feb945"/>
<rect x="45.41" y="199.44" width="5.44" height="7.37" fill="#fec14c"/>
<rect x="50.54" y="199.44" width="5.44" height="7.37" fill="#fecf67"/>
<rect x="55.68" y="199.44" width="10.57" height="7.37" fill="#fed97b"/>
<rect x="65.95" y="199.44" width="10.57" height="7.37" fill="#fed36f"/>
<rect x="76.22" y="199.44" width="10.57" height="7.37" fill="#fed97b"/>
<rect x="86.49" y="199.44" width="10.57" height="7.37" fill="#fecf67"/>
<rect x="96.76" y="199.44" width="5.44" height="7.37" fill="#fed36f"/>
<rect x="101.89" y="199.44" width="10.57" height="7.37" fill="#fed97b"/>
<rect x="112.16" y="199.44" width="5.44" height="7.37" fill="#fee595"/>
<rect x="30" y="206.51" width="15.71" height="7.37" fill="#fecf67"/>
<rect x="45.41" y="206.51" width="5.44" height="7.37" fill="#fed36f"/>
<rect x="50.54" y="206.51" width="10.57" height="7.37" fill="#fed97b"/>
<rect x="60.81" y="206.51" width="5.44" height="7.37" fill="#fee08b"/>
<rect x="65.95" y="206.51" width="15.71" height="7.37" fill="#fed97b"/>
<rect x="81.35" y="206.51" width="5.44" height="7.37" fill="#fed36f"/>
<rect x="86.49" y="206.51" width="5.44" height="7.37" fill="#fecf67"/>
<rect x="91.62" y="206.51" width="15.71" height="7.37" fill="#fed97b"/>
<rect x="107.03" y="206.51" width="5.44" height="7.37" fill="#fee08b"/>
<rect x="112.16" y="206.51" width="5.44" height="7.37" fill="#fed97b"/>
<rect x="30" y="213.58" width="15.71" height="7.37" fill="#fec14c"/>
<rect x="45.41" y="213.58" width="5.44" height="7.37" fill="#fecf67"/>
<rect x="50.54" y="213.58" width="5.44" height="7.37" fill="#fee08b"/>
<rect x="55.68" y="213.58" width="15.71" height="7.37" fill="#fee595"/>
<rect x="71.08" y="213.58" width="10.57" height="7.37" fill="#fed97b"/>
<rect x="81.35" y="213.58" width="10.57" height="7.37" fill="#fed36f"/>
<rect x="91.62" y="213.58" width="5.44" height="7.37" fill="#fed97b"/>
<rect x="96.76" y="213.58" width="5.44" height="7.37" fill="#fee08b"/>
<rect x="101.89" y="213.58" width="5.44" height="7.37" fill="#fed97b"/>
<rect x="107.03" y="213.58" width="5.44" height="7.37" fill="#fed36f"/>
<rect x="112.16" y="213.58" width="5.44" height="7.37" fill="#fed97b"/>
<rect x="30" y="220.65" width="5.44" height="7.37" fill="#feac3a"/>
<rect x="35.14" y="220.65" width="10.57" height="7.37" fill="#f98e23"/>
<rect x="45.41" y="220.65" width="5.44" height="7.37" fill="#fec14c"/>
<rect x="50.54" y="220.65" width="5.44" height="7.37" fill="#fed36f"/>
<rect x="55.68" y="220.65" width="5.44" height="7.37" fill="#fee08b"/>
<rect x="60.81" y="220.65" width="5.44" height="7.37" fill="#fee595"/>
<rect x="65.95" y="220.65" width="5.44" height="7.37" fill="#fed97b"/>
<rect x="71.08" y="220.65" width="5.44" height="7.37" fill="#fed36f"/>
<rect x="76.22" y="220.65" width="5.44" height="7.37" fill="#fec653"/>
<rect x="81.35" y="220.65" width="5.44" height="7.37" fill="#fed36f"/>
<rect x="86.49" y="220.65" width="10.57" height="7.37" fill="#fec653"/>
<rect x="96.76" y="220.65" width="5.44" height="7.37" fill="#fed36f"/>
<rect x="101.89" y="220.65" width="5.44" height="7.37" fill="#fec653"/>
<rect x="107.03" y="220.65" width="10.57" height="7.37" fill="#fed97b"/>
<rect x="30" y="227.73" width="5.44" height="7.37" fill="#e76a11"/>
<rect x="35.14" y="227.73" width="5.44" height="7.37" fill="#f37f1c"/>
<rect x="40.27" y="227.73" width="5.44" height="7.37" fill="#feb945"/>
<rect x="45.41" y="227.73" width="5.44" height="7.37" fill="#fecf67"/>
<rect x="50.54" y="227.73" width="5.44" height="7.37" fill="#fed97b"/>
<rect x="55.68" y="227.73" width="5.44" height="7.37" fill="#fee08b"/>
<rect x="60.81" y="227.73" width="5.44" height="7.37" fill="#fed97b"/>
<rect x="65.95" y="227.73" width="5.44" height="7.37" fill="#fee08b"/>
<rect x="71.08" y="227.73" width="5.44" height="7.37" fill="#fed97b"/>
<rect x="76.22" y="227.73" width="10.57" height="7.37" fill="#fed36f"/>
<rect x="86.49" y="227.73" width="5.44" height="7.37" fill="#fec653"/>
<rect x="91.62" y="227.73" width="5.44" height="7.37" fill="#fed97b"/>
<rect x="96.76" y="227.73" width="5.44" height="7.37" fill="#fed36f"/>
<rect x="101.89" y="227.73" width="10.57" height="7.37" fill="#fed97b"/>
<rect x="112.16" y="227.73" width="5.44" height="7.37" fill="#feeaa0"/>
</g>
</g>
<rect x="30" y="156.4" width="87.3" height="77.8" fill="none" stroke="#000" stroke-width="1.1"/>
<line x1="25.4" y1="232.5" x2="30" y2="232.5" stroke="#000" stroke-width="1"/>
<text x="21.1" y="234.2" font-size="4.4" text-anchor="end" textLength="2.8" lengthAdjust="spacingAndGlyphs" class="sm">0</text>
<line x1="25.4" y1="219.62" x2="30" y2="219.62" stroke="#000" stroke-width="1"/>
<text x="21.1" y="221.32" font-size="4.4" text-anchor="end" textLength="5.6" lengthAdjust="spacingAndGlyphs" class="sm">10</text>
<line x1="25.4" y1="206.74" x2="30" y2="206.74" stroke="#000" stroke-width="1"/>
<text x="21.1" y="208.44" font-size="4.4" text-anchor="end" textLength="5.6" lengthAdjust="spacingAndGlyphs" class="sm">20</text>
<line x1="25.4" y1="193.86" x2="30" y2="193.86" stroke="#000" stroke-width="1"/>
<text x="21.1" y="195.56" font-size="4.4" text-anchor="end" textLength="5.6" lengthAdjust="spacingAndGlyphs" class="sm">30</text>
<line x1="25.4" y1="180.98" x2="30" y2="180.98" stroke="#000" stroke-width="1"/>
<text x="21.1" y="182.68" font-size="4.4" text-anchor="end" textLength="5.6" lengthAdjust="spacingAndGlyphs" class="sm">40</text>
<line x1="25.4" y1="168.1" x2="30" y2="168.1" stroke="#000" stroke-width="1"/>
<text x="21.1" y="169.8" font-size="4.4" text-anchor="end" textLength="5.6" lengthAdjust="spacingAndGlyphs" class="sm">50</text>
<line x1="50.35" y1="234.2" x2="50.35" y2="238.8" stroke="#000" stroke-width="1"/>
<text x="50.35" y="247.3" font-size="4.4" text-anchor="middle" textLength="9.29" lengthAdjust="spacingAndGlyphs" class="sm">−50</text>
<line x1="73.65" y1="234.2" x2="73.65" y2="238.8" stroke="#000" stroke-width="1"/>
<text x="73.65" y="247.3" font-size="4.4" text-anchor="middle" textLength="2.8" lengthAdjust="spacingAndGlyphs" class="sm">0</text>
<line x1="96.95" y1="234.2" x2="96.95" y2="238.8" stroke="#000" stroke-width="1"/>
<text x="96.95" y="247.3" font-size="4.4" text-anchor="middle" textLength="5.6" lengthAdjust="spacingAndGlyphs" class="sm">50</text>
<text x="73.65" y="258.4" font-size="7" text-anchor="middle" textLength="35.2" lengthAdjust="spacingAndGlyphs" class="lg">latitude (°)</text>
<text transform="translate(9.5,195.3) rotate(-90)" font-size="7" class="lg" text-anchor="middle" textLength="38.2" lengthAdjust="spacingAndGlyphs">model level</text>
<text x="73.65" y="140.34" font-size="7.8" text-anchor="middle" textLength="59.99" lengthAdjust="spacingAndGlyphs" class="lg">(d) AllSky-L1200</text>
<text x="73.65" y="148.5" font-size="7.7" text-anchor="middle" textLength="5.06" lengthAdjust="spacingAndGlyphs" class="lg">V</text>
<rect x="122.7" y="156.4" width="3.8" height="77.8" fill="url(#gseq)"/>
<rect x="122.7" y="156.4" width="3.8" height="77.8" fill="none" stroke="#000" stroke-width="1"/>
<line x1="126.5" y1="234.2" x2="129" y2="234.2" stroke="#000" stroke-width="0.9"/>
<line x1="126.5" y1="229.63" x2="129" y2="229.63" stroke="#000" stroke-width="0.9"/>
<line x1="126.5" y1="225.06" x2="129" y2="225.06" stroke="#000" stroke-width="0.9"/>
<line x1="126.5" y1="220.5" x2="129" y2="220.5" stroke="#000" stroke-width="0.9"/>
<line x1="126.5" y1="215.93" x2="129" y2="215.93" stroke="#000" stroke-width="0.9"/>
<line x1="126.5" y1="211.36" x2="129" y2="211.36" stroke="#000" stroke-width="0.9"/>
<line x1="126.5" y1="206.79" x2="129" y2="206.79" stroke="#000" stroke-width="0.9"/>
<line x1="126.5" y1="202.23" x2="129" y2="202.23" stroke="#000" stroke-width="0.9"/>
<line x1="126.5" y1="197.66" x2="129" y2="197.66" stroke="#000" stroke-width="0.9"/>
<line x1="126.5" y1="193.09" x2="129" y2="193.09" stroke="#000" stroke-width="0.9"/>
<line x1="126.5" y1="188.52" x2="129" y2="188.52" stroke="#000" stroke-width="0.9"/>
<line x1="126.5" y1="183.96" x2="129" y2="183.96" stroke="#000" stroke-width="0.9"/>
<line x1="126.5" y1="179.39" x2="129" y2="179.39" stroke="#000" stroke-width="0.9"/>
<line x1="126.5" y1="174.82" x2="129" y2="174.82" stroke="#000" stroke-width="0.9"/>
<line x1="126.5" y1="170.25" x2="129" y2="170.25" stroke="#000" stroke-width="0.9"/>
<line x1="126.5" y1="165.69" x2="129" y2="165.69" stroke="#000" stroke-width="0.9"/>
<line x1="126.5" y1="161.12" x2="129" y2="161.12" stroke="#000" stroke-width="0.9"/>
<line x1="126.5" y1="156.55" x2="129" y2="156.55" stroke="#000" stroke-width="0.9"/>
<line x1="126.5" y1="234.2" x2="131.1" y2="234.2" stroke="#000" stroke-width="1"/>
<text x="135.4" y="235.8" font-size="4.3" textLength="6.84" lengthAdjust="spacingAndGlyphs" class="sm">0.0</text>
<line x1="126.5" y1="225.06" x2="131.1" y2="225.06" stroke="#000" stroke-width="1"/>
<text x="135.4" y="226.66" font-size="4.3" textLength="6.84" lengthAdjust="spacingAndGlyphs" class="sm">0.6</text>
<line x1="126.5" y1="215.93" x2="131.1" y2="215.93" stroke="#000" stroke-width="1"/>
<text x="135.4" y="217.53" font-size="4.3" textLength="6.84" lengthAdjust="spacingAndGlyphs" class="sm">1.2</text>
<line x1="126.5" y1="206.79" x2="131.1" y2="206.79" stroke="#000" stroke-width="1"/>
<text x="135.4" y="208.39" font-size="4.3" textLength="6.84" lengthAdjust="spacingAndGlyphs" class="sm">1.8</text>
<line x1="126.5" y1="197.66" x2="131.1" y2="197.66" stroke="#000" stroke-width="1"/>
<text x="135.4" y="199.26" font-size="4.3" textLength="6.84" lengthAdjust="spacingAndGlyphs" class="sm">2.4</text>
<line x1="126.5" y1="188.52" x2="131.1" y2="188.52" stroke="#000" stroke-width="1"/>
<text x="135.4" y="190.12" font-size="4.3" textLength="6.84" lengthAdjust="spacingAndGlyphs" class="sm">3.0</text>
<line x1="126.5" y1="179.39" x2="131.1" y2="179.39" stroke="#000" stroke-width="1"/>
<text x="135.4" y="180.99" font-size="4.3" textLength="6.84" lengthAdjust="spacingAndGlyphs" class="sm">3.6</text>
<line x1="126.5" y1="170.25" x2="131.1" y2="170.25" stroke="#000" stroke-width="1"/>
<text x="135.4" y="171.85" font-size="4.3" textLength="6.84" lengthAdjust="spacingAndGlyphs" class="sm">4.2</text>
<line x1="126.5" y1="161.12" x2="131.1" y2="161.12" stroke="#000" stroke-width="1"/>
<text x="135.4" y="162.72" font-size="4.3" textLength="6.84" lengthAdjust="spacingAndGlyphs" class="sm">4.8</text>
<text transform="translate(149,195.3) rotate(-90)" font-size="6.7" class="lg" text-anchor="middle">rms(<tspan font-style="italic">δx</tspan><tspan font-size="4.2" dy="1.4">G/Tb</tspan><tspan dy="-1.4">)</tspan></text>
<clipPath id="cp4"><rect x="199.4" y="156.4" width="87.2" height="77.8"/></clipPath>
<g clip-path="url(#cp4)">
<g shape-rendering="crispEdges">
<rect x="199.4" y="156" width="5.43" height="8.37" fill="#ceceff"/>
<rect x="204.53" y="156" width="5.43" height="8.37" fill="#e5e5ff"/>
<rect x="209.66" y="156" width="5.43" height="8.37" fill="#fff1f1"/>
<rect x="214.79" y="156" width="5.43" height="8.37" fill="#ffdede"/>
<rect x="219.92" y="156" width="15.69" height="8.37" fill="#fff6f6"/>
<rect x="235.31" y="156" width="5.43" height="8.37" fill="#f1f1ff"/>
<rect x="240.44" y="156" width="5.43" height="8.37" fill="#ffe5e5"/>
<rect x="245.56" y="156" width="5.43" height="8.37" fill="#e5e5ff"/>
<rect x="250.69" y="156" width="5.43" height="8.37" fill="#dedeff"/>
<rect x="255.82" y="156" width="10.56" height="8.37" fill="#f6f6ff"/>
<rect x="266.08" y="156" width="5.43" height="8.37" fill="#fff1f1"/>
<rect x="271.21" y="156" width="10.56" height="8.37" fill="#ffdede"/>
<rect x="281.47" y="156" width="5.43" height="8.37" fill="#f1f1ff"/>
<rect x="199.4" y="164.07" width="5.43" height="7.37" fill="#ceceff"/>
<rect x="204.53" y="164.07" width="5.43" height="7.37" fill="#f6f6ff"/>
<rect x="209.66" y="164.07" width="5.43" height="7.37" fill="#ffd8d8"/>
<rect x="214.79" y="164.07" width="5.43" height="7.37" fill="#ffbebe"/>
<rect x="219.92" y="164.07" width="20.82" height="7.37" fill="#f6f6ff"/>
<rect x="240.44" y="164.07" width="5.43" height="7.37" fill="#fff6f6"/>
<rect x="245.56" y="164.07" width="5.43" height="7.37" fill="#f6f6ff"/>
<rect x="250.69" y="164.07" width="5.43" height="7.37" fill="#e5e5ff"/>
<rect x="255.82" y="164.07" width="5.43" height="7.37" fill="#f1f1ff"/>
<rect x="260.95" y="164.07" width="25.95" height="7.37" fill="#f6f6ff"/>
<rect x="199.4" y="171.15" width="5.43" height="7.37" fill="#0000ff"/>
<rect x="204.53" y="171.15" width="10.56" height="7.37" fill="#f1f1ff"/>
<rect x="214.79" y="171.15" width="5.43" height="7.37" fill="#f6f6ff"/>
<rect x="219.92" y="171.15" width="5.43" height="7.37" fill="#ceceff"/>
<rect x="225.05" y="171.15" width="5.43" height="7.37" fill="#bebeff"/>
<rect x="230.18" y="171.15" width="10.56" height="7.37" fill="#f1f1ff"/>
<rect x="240.44" y="171.15" width="15.69" height="7.37" fill="#f6f6ff"/>
<rect x="255.82" y="171.15" width="15.69" height="7.37" fill="#f1f1ff"/>
<rect x="271.21" y="171.15" width="10.56" height="7.37" fill="#f6f6ff"/>
<rect x="281.47" y="171.15" width="5.43" height="7.37" fill="#6d6dff"/>
<rect x="199.4" y="178.22" width="5.43" height="7.37" fill="#0000ff"/>
<rect x="204.53" y="178.22" width="5.43" height="7.37" fill="#f1f1ff"/>
<rect x="209.66" y="178.22" width="10.56" height="7.37" fill="#e5e5ff"/>
<rect x="219.92" y="178.22" width="5.43" height="7.37" fill="#ceceff"/>
<rect x="225.05" y="178.22" width="36.21" height="7.37" fill="#f6f6ff"/>
<rect x="260.95" y="178.22" width="5.43" height="7.37" fill="#ceceff"/>
<rect x="266.08" y="178.22" width="5.43" height="7.37" fill="#f1f1ff"/>
<rect x="271.21" y="178.22" width="10.56" height="7.37" fill="#f6f6ff"/>
<rect x="281.47" y="178.22" width="5.43" height="7.37" fill="#fff1f1"/>
<rect x="199.4" y="185.29" width="5.43" height="7.37" fill="#1c1cff"/>
<rect x="204.53" y="185.29" width="10.56" height="7.37" fill="#fff1f1"/>
<rect x="214.79" y="185.29" width="5.43" height="7.37" fill="#f1f1ff"/>
<rect x="219.92" y="185.29" width="5.43" height="7.37" fill="#fff1f1"/>
<rect x="225.05" y="185.29" width="5.43" height="7.37" fill="#ceceff"/>
<rect x="230.18" y="185.29" width="5.43" height="7.37" fill="#dedeff"/>
<rect x="235.31" y="185.29" width="5.43" height="7.37" fill="#adadff"/>
<rect x="240.44" y="185.29" width="5.43" height="7.37" fill="#dedeff"/>
<rect x="245.56" y="185.29" width="5.43" height="7.37" fill="#e5e5ff"/>
<rect x="250.69" y="185.29" width="5.43" height="7.37" fill="#ceceff"/>
<rect x="255.82" y="185.29" width="5.43" height="7.37" fill="#f1f1ff"/>
<rect x="260.95" y="185.29" width="5.43" height="7.37" fill="#f6f6ff"/>
<rect x="266.08" y="185.29" width="5.43" height="7.37" fill="#dedeff"/>
<rect x="271.21" y="185.29" width="5.43" height="7.37" fill="#f1f1ff"/>
<rect x="276.34" y="185.29" width="5.43" height="7.37" fill="#dedeff"/>
<rect x="281.47" y="185.29" width="5.43" height="7.37" fill="#ffc4c4"/>
<rect x="199.4" y="192.36" width="5.43" height="7.37" fill="#fff1f1"/>
<rect x="204.53" y="192.36" width="5.43" height="7.37" fill="#dedeff"/>
<rect x="209.66" y="192.36" width="5.43" height="7.37" fill="#f6f6ff"/>
<rect x="214.79" y="192.36" width="5.43" height="7.37" fill="#e5e5ff"/>
<rect x="219.92" y="192.36" width="5.43" height="7.37" fill="#ffcece"/>
<rect x="225.05" y="192.36" width="5.43" height="7.37" fill="#e5e5ff"/>
<rect x="230.18" y="192.36" width="5.43" height="7.37" fill="#f1f1ff"/>
<rect x="235.31" y="192.36" width="5.43" height="7.37" fill="#e5e5ff"/>
<rect x="240.44" y="192.36" width="10.56" height="7.37" fill="#f6f6ff"/>
<rect x="250.69" y="192.36" width="5.43" height="7.37" fill="#fff1f1"/>
<rect x="255.82" y="192.36" width="10.56" height="7.37" fill="#f6f6ff"/>
<rect x="266.08" y="192.36" width="5.43" height="7.37" fill="#f1f1ff"/>
<rect x="271.21" y="192.36" width="10.56" height="7.37" fill="#f6f6ff"/>
<rect x="281.47" y="192.36" width="5.43" height="7.37" fill="#fff1f1"/>
<rect x="199.4" y="199.44" width="5.43" height="7.37" fill="#ffcece"/>
<rect x="204.53" y="199.44" width="5.43" height="7.37" fill="#dedeff"/>
<rect x="209.66" y="199.44" width="5.43" height="7.37" fill="#b7b7ff"/>
<rect x="214.79" y="199.44" width="5.43" height="7.37" fill="#dedeff"/>
<rect x="219.92" y="199.44" width="5.43" height="7.37" fill="#f6f6ff"/>
<rect x="225.05" y="199.44" width="5.43" height="7.37" fill="#fff6f6"/>
<rect x="230.18" y="199.44" width="5.43" height="7.37" fill="#bebeff"/>
<rect x="235.31" y="199.44" width="5.43" height="7.37" fill="#b7b7ff"/>
<rect x="240.44" y="199.44" width="5.43" height="7.37" fill="#bebeff"/>
<rect x="245.56" y="199.44" width="5.43" height="7.37" fill="#f6f6ff"/>
<rect x="250.69" y="199.44" width="5.43" height="7.37" fill="#ceceff"/>
<rect x="255.82" y="199.44" width="15.69" height="7.37" fill="#f6f6ff"/>
<rect x="271.21" y="199.44" width="5.43" height="7.37" fill="#dedeff"/>
<rect x="276.34" y="199.44" width="5.43" height="7.37" fill="#f6f6ff"/>
<rect x="281.47" y="199.44" width="5.43" height="7.37" fill="#ffd8d8"/>
<rect x="199.4" y="206.51" width="5.43" height="7.37" fill="#fff1f1"/>
<rect x="204.53" y="206.51" width="5.43" height="7.37" fill="#dedeff"/>
<rect x="209.66" y="206.51" width="5.43" height="7.37" fill="#c4c4ff"/>
<rect x="214.79" y="206.51" width="5.43" height="7.37" fill="#bebeff"/>
<rect x="219.92" y="206.51" width="5.43" height="7.37" fill="#ceceff"/>
<rect x="225.05" y="206.51" width="10.56" height="7.37" fill="#dedeff"/>
<rect x="235.31" y="206.51" width="5.43" height="7.37" fill="#ceceff"/>
<rect x="240.44" y="206.51" width="5.43" height="7.37" fill="#b7b7ff"/>
<rect x="245.56" y="206.51" width="5.43" height="7.37" fill="#f6f6ff"/>
<rect x="250.69" y="206.51" width="5.43" height="7.37" fill="#bebeff"/>
<rect x="255.82" y="206.51" width="15.69" height="7.37" fill="#f6f6ff"/>
<rect x="271.21" y="206.51" width="5.43" height="7.37" fill="#f1f1ff"/>
<rect x="276.34" y="206.51" width="5.43" height="7.37" fill="#f6f6ff"/>
<rect x="281.47" y="206.51" width="5.43" height="7.37" fill="#ff3b3b"/>
<rect x="199.4" y="213.58" width="5.43" height="7.37" fill="#ceceff"/>
<rect x="204.53" y="213.58" width="5.43" height="7.37" fill="#f1f1ff"/>
<rect x="209.66" y="213.58" width="5.43" height="7.37" fill="#f6f6ff"/>
<rect x="214.79" y="213.58" width="5.43" height="7.37" fill="#dedeff"/>
<rect x="219.92" y="213.58" width="5.43" height="7.37" fill="#f6f6ff"/>
<rect x="225.05" y="213.58" width="5.43" height="7.37" fill="#bebeff"/>
<rect x="230.18" y="213.58" width="5.43" height="7.37" fill="#c4c4ff"/>
<rect x="235.31" y="213.58" width="10.56" height="7.37" fill="#fff6f6"/>
<rect x="245.56" y="213.58" width="5.43" height="7.37" fill="#f6f6ff"/>
<rect x="250.69" y="213.58" width="5.43" height="7.37" fill="#dedeff"/>
<rect x="255.82" y="213.58" width="25.95" height="7.37" fill="#f6f6ff"/>
<rect x="281.47" y="213.58" width="5.43" height="7.37" fill="#ffcece"/>
<rect x="199.4" y="220.65" width="5.43" height="7.37" fill="#f1f1ff"/>
<rect x="204.53" y="220.65" width="5.43" height="7.37" fill="#f6f6ff"/>
<rect x="209.66" y="220.65" width="10.56" height="7.37" fill="#ceceff"/>
<rect x="219.92" y="220.65" width="5.43" height="7.37" fill="#f6f6ff"/>
<rect x="225.05" y="220.65" width="5.43" height="7.37" fill="#bebeff"/>
<rect x="230.18" y="220.65" width="5.43" height="7.37" fill="#ceceff"/>
<rect x="235.31" y="220.65" width="10.56" height="7.37" fill="#fff6f6"/>
<rect x="245.56" y="220.65" width="5.43" height="7.37" fill="#f6f6ff"/>
<rect x="250.69" y="220.65" width="5.43" height="7.37" fill="#dedeff"/>
<rect x="255.82" y="220.65" width="20.82" height="7.37" fill="#f6f6ff"/>
<rect x="276.34" y="220.65" width="5.43" height="7.37" fill="#dedeff"/>
<rect x="281.47" y="220.65" width="5.43" height="7.37" fill="#f6f6ff"/>
<rect x="199.4" y="227.73" width="5.43" height="7.37" fill="#f1f1ff"/>
<rect x="204.53" y="227.73" width="5.43" height="7.37" fill="#e5e5ff"/>
<rect x="209.66" y="227.73" width="5.43" height="7.37" fill="#ceceff"/>
<rect x="214.79" y="227.73" width="5.43" height="7.37" fill="#bebeff"/>
<rect x="219.92" y="227.73" width="5.43" height="7.37" fill="#dedeff"/>
<rect x="225.05" y="227.73" width="5.43" height="7.37" fill="#bebeff"/>
<rect x="230.18" y="227.73" width="5.43" height="7.37" fill="#ceceff"/>
<rect x="235.31" y="227.73" width="10.56" height="7.37" fill="#fff6f6"/>
<rect x="245.56" y="227.73" width="5.43" height="7.37" fill="#f6f6ff"/>
<rect x="250.69" y="227.73" width="5.43" height="7.37" fill="#e5e5ff"/>
<rect x="255.82" y="227.73" width="5.43" height="7.37" fill="#f1f1ff"/>
<rect x="260.95" y="227.73" width="5.43" height="7.37" fill="#ceceff"/>
<rect x="266.08" y="227.73" width="5.43" height="7.37" fill="#f1f1ff"/>
<rect x="271.21" y="227.73" width="10.56" height="7.37" fill="#f6f6ff"/>
<rect x="281.47" y="227.73" width="5.43" height="7.37" fill="#ceceff"/>
</g>
<g fill="none" stroke="#000" stroke-opacity="0.55" stroke-width="0.95">
<ellipse cx="207.09" cy="160.54" rx="1.15" ry="1.95"/>
<ellipse cx="217.35" cy="160.54" rx="1.15" ry="1.95"/>
<ellipse cx="243" cy="160.54" rx="1.15" ry="1.95"/>
<ellipse cx="248.13" cy="160.54" rx="1.15" ry="1.95"/>
<ellipse cx="253.26" cy="160.54" rx="1.15" ry="1.95"/>
<ellipse cx="273.78" cy="160.54" rx="1.15" ry="1.95"/>
<ellipse cx="212.22" cy="167.61" rx="1.15" ry="1.95"/>
<ellipse cx="217.35" cy="167.61" rx="1.15" ry="1.95"/>
<ellipse cx="253.26" cy="167.61" rx="1.15" ry="1.95"/>
<ellipse cx="258.39" cy="167.61" rx="1.15" ry="1.95"/>
<ellipse cx="201.96" cy="174.68" rx="1.15" ry="1.95"/>
<ellipse cx="222.48" cy="174.68" rx="1.15" ry="1.95"/>
<ellipse cx="227.61" cy="174.68" rx="1.15" ry="1.95"/>
<ellipse cx="258.39" cy="174.68" rx="1.15" ry="1.95"/>
<ellipse cx="263.52" cy="174.68" rx="1.15" ry="1.95"/>
<ellipse cx="268.65" cy="174.68" rx="1.15" ry="1.95"/>
<ellipse cx="201.96" cy="181.75" rx="1.15" ry="1.95"/>
<ellipse cx="212.22" cy="181.75" rx="1.15" ry="1.95"/>
<ellipse cx="217.35" cy="181.75" rx="1.15" ry="1.95"/>
<ellipse cx="222.48" cy="181.75" rx="1.15" ry="1.95"/>
<ellipse cx="248.13" cy="181.75" rx="1.15" ry="1.95"/>
<ellipse cx="253.26" cy="181.75" rx="1.15" ry="1.95"/>
<ellipse cx="263.52" cy="181.75" rx="1.15" ry="1.95"/>
<ellipse cx="268.65" cy="181.75" rx="1.15" ry="1.95"/>
<ellipse cx="201.96" cy="188.83" rx="1.15" ry="1.95"/>
<ellipse cx="227.61" cy="188.83" rx="1.15" ry="1.95"/>
<ellipse cx="232.74" cy="188.83" rx="1.15" ry="1.95"/>
<ellipse cx="237.87" cy="188.83" rx="1.15" ry="1.95"/>
<ellipse cx="243" cy="188.83" rx="1.15" ry="1.95"/>
<ellipse cx="248.13" cy="188.83" rx="1.15" ry="1.95"/>
<ellipse cx="253.26" cy="188.83" rx="1.15" ry="1.95"/>
<ellipse cx="258.39" cy="188.83" rx="1.15" ry="1.95"/>
<ellipse cx="268.65" cy="188.83" rx="1.15" ry="1.95"/>
<ellipse cx="273.78" cy="188.83" rx="1.15" ry="1.95"/>
<ellipse cx="278.91" cy="188.83" rx="1.15" ry="1.95"/>
<ellipse cx="207.09" cy="195.9" rx="1.15" ry="1.95"/>
<ellipse cx="217.35" cy="195.9" rx="1.15" ry="1.95"/>
<ellipse cx="222.48" cy="195.9" rx="1.15" ry="1.95"/>
<ellipse cx="227.61" cy="195.9" rx="1.15" ry="1.95"/>
<ellipse cx="232.74" cy="195.9" rx="1.15" ry="1.95"/>
<ellipse cx="237.87" cy="195.9" rx="1.15" ry="1.95"/>
<ellipse cx="268.65" cy="195.9" rx="1.15" ry="1.95"/>
<ellipse cx="212.22" cy="202.97" rx="1.15" ry="1.95"/>
<ellipse cx="217.35" cy="202.97" rx="1.15" ry="1.95"/>
<ellipse cx="227.61" cy="202.97" rx="1.15" ry="1.95"/>
<ellipse cx="232.74" cy="202.97" rx="1.15" ry="1.95"/>
<ellipse cx="237.87" cy="202.97" rx="1.15" ry="1.95"/>
<ellipse cx="243" cy="202.97" rx="1.15" ry="1.95"/>
<ellipse cx="248.13" cy="202.97" rx="1.15" ry="1.95"/>
<ellipse cx="253.26" cy="202.97" rx="1.15" ry="1.95"/>
<ellipse cx="212.22" cy="210.05" rx="1.15" ry="1.95"/>
<ellipse cx="217.35" cy="210.05" rx="1.15" ry="1.95"/>
<ellipse cx="222.48" cy="210.05" rx="1.15" ry="1.95"/>
<ellipse cx="227.61" cy="210.05" rx="1.15" ry="1.95"/>
<ellipse cx="232.74" cy="210.05" rx="1.15" ry="1.95"/>
<ellipse cx="237.87" cy="210.05" rx="1.15" ry="1.95"/>
<ellipse cx="243" cy="210.05" rx="1.15" ry="1.95"/>
<ellipse cx="253.26" cy="210.05" rx="1.15" ry="1.95"/>
<ellipse cx="258.39" cy="210.05" rx="1.15" ry="1.95"/>
<ellipse cx="263.52" cy="210.05" rx="1.15" ry="1.95"/>
<ellipse cx="273.78" cy="210.05" rx="1.15" ry="1.95"/>
<ellipse cx="284.04" cy="210.05" rx="1.15" ry="1.95"/>
<ellipse cx="207.09" cy="217.12" rx="1.15" ry="1.95"/>
<ellipse cx="217.35" cy="217.12" rx="1.15" ry="1.95"/>
<ellipse cx="227.61" cy="217.12" rx="1.15" ry="1.95"/>
<ellipse cx="232.74" cy="217.12" rx="1.15" ry="1.95"/>
<ellipse cx="253.26" cy="217.12" rx="1.15" ry="1.95"/>
<ellipse cx="263.52" cy="217.12" rx="1.15" ry="1.95"/>
<ellipse cx="268.65" cy="217.12" rx="1.15" ry="1.95"/>
<ellipse cx="212.22" cy="224.19" rx="1.15" ry="1.95"/>
<ellipse cx="217.35" cy="224.19" rx="1.15" ry="1.95"/>
<ellipse cx="227.61" cy="224.19" rx="1.15" ry="1.95"/>
<ellipse cx="232.74" cy="224.19" rx="1.15" ry="1.95"/>
<ellipse cx="248.13" cy="224.19" rx="1.15" ry="1.95"/>
<ellipse cx="253.26" cy="224.19" rx="1.15" ry="1.95"/>
<ellipse cx="258.39" cy="224.19" rx="1.15" ry="1.95"/>
<ellipse cx="263.52" cy="224.19" rx="1.15" ry="1.95"/>
<ellipse cx="268.65" cy="224.19" rx="1.15" ry="1.95"/>
<ellipse cx="278.91" cy="224.19" rx="1.15" ry="1.95"/>
<ellipse cx="207.09" cy="231.26" rx="1.15" ry="1.95"/>
<ellipse cx="212.22" cy="231.26" rx="1.15" ry="1.95"/>
<ellipse cx="217.35" cy="231.26" rx="1.15" ry="1.95"/>
<ellipse cx="222.48" cy="231.26" rx="1.15" ry="1.95"/>
<ellipse cx="227.61" cy="231.26" rx="1.15" ry="1.95"/>
<ellipse cx="232.74" cy="231.26" rx="1.15" ry="1.95"/>
<ellipse cx="253.26" cy="231.26" rx="1.15" ry="1.95"/>
<ellipse cx="258.39" cy="231.26" rx="1.15" ry="1.95"/>
<ellipse cx="263.52" cy="231.26" rx="1.15" ry="1.95"/>
<ellipse cx="268.65" cy="231.26" rx="1.15" ry="1.95"/>
<ellipse cx="278.91" cy="231.26" rx="1.15" ry="1.95"/>
<ellipse cx="284.04" cy="231.26" rx="1.15" ry="1.95"/>
</g>
</g>
<rect x="199.4" y="156.4" width="87.2" height="77.8" fill="none" stroke="#000" stroke-width="1.1"/>
<line x1="194.8" y1="232.5" x2="199.4" y2="232.5" stroke="#000" stroke-width="1"/>
<text x="190.5" y="234.2" font-size="4.4" text-anchor="end" textLength="2.8" lengthAdjust="spacingAndGlyphs" class="sm">0</text>
<line x1="194.8" y1="219.62" x2="199.4" y2="219.62" stroke="#000" stroke-width="1"/>
<text x="190.5" y="221.32" font-size="4.4" text-anchor="end" textLength="5.6" lengthAdjust="spacingAndGlyphs" class="sm">10</text>
<line x1="194.8" y1="206.74" x2="199.4" y2="206.74" stroke="#000" stroke-width="1"/>
<text x="190.5" y="208.44" font-size="4.4" text-anchor="end" textLength="5.6" lengthAdjust="spacingAndGlyphs" class="sm">20</text>
<line x1="194.8" y1="193.86" x2="199.4" y2="193.86" stroke="#000" stroke-width="1"/>
<text x="190.5" y="195.56" font-size="4.4" text-anchor="end" textLength="5.6" lengthAdjust="spacingAndGlyphs" class="sm">30</text>
<line x1="194.8" y1="180.98" x2="199.4" y2="180.98" stroke="#000" stroke-width="1"/>
<text x="190.5" y="182.68" font-size="4.4" text-anchor="end" textLength="5.6" lengthAdjust="spacingAndGlyphs" class="sm">40</text>
<line x1="194.8" y1="168.1" x2="199.4" y2="168.1" stroke="#000" stroke-width="1"/>
<text x="190.5" y="169.8" font-size="4.4" text-anchor="end" textLength="5.6" lengthAdjust="spacingAndGlyphs" class="sm">50</text>
<line x1="219.7" y1="234.2" x2="219.7" y2="238.8" stroke="#000" stroke-width="1"/>
<text x="219.7" y="247.3" font-size="4.4" text-anchor="middle" textLength="9.29" lengthAdjust="spacingAndGlyphs" class="sm">−50</text>
<line x1="243" y1="234.2" x2="243" y2="238.8" stroke="#000" stroke-width="1"/>
<text x="243" y="247.3" font-size="4.4" text-anchor="middle" textLength="2.8" lengthAdjust="spacingAndGlyphs" class="sm">0</text>
<line x1="266.3" y1="234.2" x2="266.3" y2="238.8" stroke="#000" stroke-width="1"/>
<text x="266.3" y="247.3" font-size="4.4" text-anchor="middle" textLength="5.6" lengthAdjust="spacingAndGlyphs" class="sm">50</text>
<text x="243" y="258.4" font-size="7" text-anchor="middle" textLength="35.2" lengthAdjust="spacingAndGlyphs" class="lg">latitude (°)</text>
<text transform="translate(178.9,195.3) rotate(-90)" font-size="7" class="lg" text-anchor="middle" textLength="38.2" lengthAdjust="spacingAndGlyphs">model level</text>
<text x="243" y="140.34" font-size="7.8" text-anchor="middle" textLength="55.14" lengthAdjust="spacingAndGlyphs" class="lg">(e) AllSky-L600</text>
<text x="243" y="148.5" font-size="7.7" text-anchor="middle" textLength="5.06" lengthAdjust="spacingAndGlyphs" class="lg">V</text>
<rect x="292.4" y="156.4" width="3.8" height="77.8" fill="url(#gdiv)"/>
<rect x="292.4" y="156.4" width="3.8" height="77.8" fill="none" stroke="#000" stroke-width="1"/>
<line x1="296.2" y1="233.81" x2="298.7" y2="233.81" stroke="#000" stroke-width="0.9"/>
<line x1="296.2" y1="229.96" x2="298.7" y2="229.96" stroke="#000" stroke-width="0.9"/>
<line x1="296.2" y1="226.11" x2="298.7" y2="226.11" stroke="#000" stroke-width="0.9"/>
<line x1="296.2" y1="222.26" x2="298.7" y2="222.26" stroke="#000" stroke-width="0.9"/>
<line x1="296.2" y1="218.41" x2="298.7" y2="218.41" stroke="#000" stroke-width="0.9"/>
<line x1="296.2" y1="214.56" x2="298.7" y2="214.56" stroke="#000" stroke-width="0.9"/>
<line x1="296.2" y1="210.71" x2="298.7" y2="210.71" stroke="#000" stroke-width="0.9"/>
<line x1="296.2" y1="206.85" x2="298.7" y2="206.85" stroke="#000" stroke-width="0.9"/>
<line x1="296.2" y1="203" x2="298.7" y2="203" stroke="#000" stroke-width="0.9"/>
<line x1="296.2" y1="199.15" x2="298.7" y2="199.15" stroke="#000" stroke-width="0.9"/>
<line x1="296.2" y1="195.3" x2="298.7" y2="195.3" stroke="#000" stroke-width="0.9"/>
<line x1="296.2" y1="191.45" x2="298.7" y2="191.45" stroke="#000" stroke-width="0.9"/>
<line x1="296.2" y1="187.6" x2="298.7" y2="187.6" stroke="#000" stroke-width="0.9"/>
<line x1="296.2" y1="183.75" x2="298.7" y2="183.75" stroke="#000" stroke-width="0.9"/>
<line x1="296.2" y1="179.89" x2="298.7" y2="179.89" stroke="#000" stroke-width="0.9"/>
<line x1="296.2" y1="176.04" x2="298.7" y2="176.04" stroke="#000" stroke-width="0.9"/>
<line x1="296.2" y1="172.19" x2="298.7" y2="172.19" stroke="#000" stroke-width="0.9"/>
<line x1="296.2" y1="168.34" x2="298.7" y2="168.34" stroke="#000" stroke-width="0.9"/>
<line x1="296.2" y1="164.49" x2="298.7" y2="164.49" stroke="#000" stroke-width="0.9"/>
<line x1="296.2" y1="160.64" x2="298.7" y2="160.64" stroke="#000" stroke-width="0.9"/>
<line x1="296.2" y1="156.79" x2="298.7" y2="156.79" stroke="#000" stroke-width="0.9"/>
<line x1="296.2" y1="229.96" x2="300.8" y2="229.96" stroke="#000" stroke-width="1"/>
<text x="305.1" y="231.56" font-size="4.3" textLength="10.44" lengthAdjust="spacingAndGlyphs" class="sm">−7.2</text>
<line x1="296.2" y1="218.41" x2="300.8" y2="218.41" stroke="#000" stroke-width="1"/>
<text x="305.1" y="220.01" font-size="4.3" textLength="10.44" lengthAdjust="spacingAndGlyphs" class="sm">−4.8</text>
<line x1="296.2" y1="206.85" x2="300.8" y2="206.85" stroke="#000" stroke-width="1"/>
<text x="305.1" y="208.45" font-size="4.3" textLength="10.44" lengthAdjust="spacingAndGlyphs" class="sm">−2.4</text>
<line x1="296.2" y1="195.3" x2="300.8" y2="195.3" stroke="#000" stroke-width="1"/>
<text x="305.1" y="196.9" font-size="4.3" textLength="6.84" lengthAdjust="spacingAndGlyphs" class="sm">0.0</text>
<line x1="296.2" y1="183.75" x2="300.8" y2="183.75" stroke="#000" stroke-width="1"/>
<text x="305.1" y="185.35" font-size="4.3" textLength="6.84" lengthAdjust="spacingAndGlyphs" class="sm">2.4</text>
<line x1="296.2" y1="172.19" x2="300.8" y2="172.19" stroke="#000" stroke-width="1"/>
<text x="305.1" y="173.79" font-size="4.3" textLength="6.84" lengthAdjust="spacingAndGlyphs" class="sm">4.8</text>
<line x1="296.2" y1="160.64" x2="300.8" y2="160.64" stroke="#000" stroke-width="1"/>
<text x="305.1" y="162.24" font-size="4.3" textLength="6.84" lengthAdjust="spacingAndGlyphs" class="sm">7.2</text>
<text transform="translate(326.3,195.3) rotate(-90)" font-size="6.9" class="lg" text-anchor="middle" textLength="93" lengthAdjust="spacingAndGlyphs">rms: % diff. from AllSky-L1200</text>
<clipPath id="cp5"><rect x="368.4" y="156.4" width="87.7" height="77.8"/></clipPath>
<g clip-path="url(#cp5)">
<g shape-rendering="crispEdges">
<rect x="368.4" y="156" width="5.46" height="8.37" fill="#e3e3ff"/>
<rect x="373.56" y="156" width="5.46" height="8.37" fill="#f1f1ff"/>
<rect x="378.72" y="156" width="5.46" height="8.37" fill="#fff1f1"/>
<rect x="383.88" y="156" width="5.46" height="8.37" fill="#e3e3ff"/>
<rect x="389.04" y="156" width="5.46" height="8.37" fill="#f1f1ff"/>
<rect x="394.19" y="156" width="5.46" height="8.37" fill="#cacaff"/>
<rect x="399.35" y="156" width="5.46" height="8.37" fill="#e3e3ff"/>
<rect x="404.51" y="156" width="5.46" height="8.37" fill="#b8b8ff"/>
<rect x="409.67" y="156" width="5.46" height="8.37" fill="#fff6f6"/>
<rect x="414.83" y="156" width="5.46" height="8.37" fill="#b8b8ff"/>
<rect x="419.99" y="156" width="5.46" height="8.37" fill="#bfbfff"/>
<rect x="425.15" y="156" width="5.46" height="8.37" fill="#f6f6ff"/>
<rect x="430.31" y="156" width="5.46" height="8.37" fill="#fff6f6"/>
<rect x="435.46" y="156" width="5.46" height="8.37" fill="#ffdcdc"/>
<rect x="440.62" y="156" width="5.46" height="8.37" fill="#ffcaca"/>
<rect x="445.78" y="156" width="5.46" height="8.37" fill="#fff6f6"/>
<rect x="450.94" y="156" width="5.46" height="8.37" fill="#cacaff"/>
<rect x="368.4" y="164.07" width="5.46" height="7.37" fill="#b1b1ff"/>
<rect x="373.56" y="164.07" width="5.46" height="7.37" fill="#f6f6ff"/>
<rect x="378.72" y="164.07" width="10.62" height="7.37" fill="#fff6f6"/>
<rect x="389.04" y="164.07" width="5.46" height="7.37" fill="#f6f6ff"/>
<rect x="394.19" y="164.07" width="5.46" height="7.37" fill="#fff6f6"/>
<rect x="399.35" y="164.07" width="5.46" height="7.37" fill="#9c9cff"/>
<rect x="404.51" y="164.07" width="5.46" height="7.37" fill="#bfbfff"/>
<rect x="409.67" y="164.07" width="5.46" height="7.37" fill="#f6f6ff"/>
<rect x="414.83" y="164.07" width="5.46" height="7.37" fill="#dcdcff"/>
<rect x="419.99" y="164.07" width="5.46" height="7.37" fill="#b8b8ff"/>
<rect x="425.15" y="164.07" width="5.46" height="7.37" fill="#dcdcff"/>
<rect x="430.31" y="164.07" width="5.46" height="7.37" fill="#e3e3ff"/>
<rect x="435.46" y="164.07" width="15.78" height="7.37" fill="#fff6f6"/>
<rect x="450.94" y="164.07" width="5.46" height="7.37" fill="#dcdcff"/>
<rect x="368.4" y="171.15" width="5.46" height="7.37" fill="#cacaff"/>
<rect x="373.56" y="171.15" width="10.62" height="7.37" fill="#f6f6ff"/>
<rect x="383.88" y="171.15" width="5.46" height="7.37" fill="#fff6f6"/>
<rect x="389.04" y="171.15" width="5.46" height="7.37" fill="#f1f1ff"/>
<rect x="394.19" y="171.15" width="10.62" height="7.37" fill="#bfbfff"/>
<rect x="404.51" y="171.15" width="5.46" height="7.37" fill="#dcdcff"/>
<rect x="409.67" y="171.15" width="15.78" height="7.37" fill="#f6f6ff"/>
<rect x="425.15" y="171.15" width="10.62" height="7.37" fill="#f1f1ff"/>
<rect x="435.46" y="171.15" width="5.46" height="7.37" fill="#f6f6ff"/>
<rect x="440.62" y="171.15" width="5.46" height="7.37" fill="#fff1f1"/>
<rect x="445.78" y="171.15" width="5.46" height="7.37" fill="#ffcaca"/>
<rect x="450.94" y="171.15" width="5.46" height="7.37" fill="#9c9cff"/>
<rect x="368.4" y="178.22" width="5.46" height="7.37" fill="#3939ff"/>
<rect x="373.56" y="178.22" width="5.46" height="7.37" fill="#fff1f1"/>
<rect x="378.72" y="178.22" width="10.62" height="7.37" fill="#f6f6ff"/>
<rect x="389.04" y="178.22" width="5.46" height="7.37" fill="#e3e3ff"/>
<rect x="394.19" y="178.22" width="10.62" height="7.37" fill="#cacaff"/>
<rect x="404.51" y="178.22" width="5.46" height="7.37" fill="#dcdcff"/>
<rect x="409.67" y="178.22" width="5.46" height="7.37" fill="#f6f6ff"/>
<rect x="414.83" y="178.22" width="5.46" height="7.37" fill="#9c9cff"/>
<rect x="419.99" y="178.22" width="10.62" height="7.37" fill="#f6f6ff"/>
<rect x="430.31" y="178.22" width="10.62" height="7.37" fill="#e3e3ff"/>
<rect x="440.62" y="178.22" width="15.78" height="7.37" fill="#f6f6ff"/>
<rect x="368.4" y="185.29" width="5.46" height="7.37" fill="#bfbfff"/>
<rect x="373.56" y="185.29" width="5.46" height="7.37" fill="#f1f1ff"/>
<rect x="378.72" y="185.29" width="5.46" height="7.37" fill="#f6f6ff"/>
<rect x="383.88" y="185.29" width="5.46" height="7.37" fill="#e3e3ff"/>
<rect x="389.04" y="185.29" width="5.46" height="7.37" fill="#f6f6ff"/>
<rect x="394.19" y="185.29" width="5.46" height="7.37" fill="#b8b8ff"/>
<rect x="399.35" y="185.29" width="5.46" height="7.37" fill="#bfbfff"/>
<rect x="404.51" y="185.29" width="5.46" height="7.37" fill="#a7a7ff"/>
<rect x="409.67" y="185.29" width="5.46" height="7.37" fill="#ffffff"/>
<rect x="414.83" y="185.29" width="5.46" height="7.37" fill="#dcdcff"/>
<rect x="419.99" y="185.29" width="20.94" height="7.37" fill="#f6f6ff"/>
<rect x="440.62" y="185.29" width="5.46" height="7.37" fill="#fff6f6"/>
<rect x="445.78" y="185.29" width="10.62" height="7.37" fill="#f6f6ff"/>
<rect x="368.4" y="192.36" width="5.46" height="7.37" fill="#fff6f6"/>
<rect x="373.56" y="192.36" width="5.46" height="7.37" fill="#f1f1ff"/>
<rect x="378.72" y="192.36" width="5.46" height="7.37" fill="#fff6f6"/>
<rect x="383.88" y="192.36" width="5.46" height="7.37" fill="#e3e3ff"/>
<rect x="389.04" y="192.36" width="5.46" height="7.37" fill="#fff6f6"/>
<rect x="394.19" y="192.36" width="5.46" height="7.37" fill="#f1f1ff"/>
<rect x="399.35" y="192.36" width="5.46" height="7.37" fill="#cacaff"/>
<rect x="404.51" y="192.36" width="5.46" height="7.37" fill="#dcdcff"/>
<rect x="409.67" y="192.36" width="10.62" height="7.37" fill="#e3e3ff"/>
<rect x="419.99" y="192.36" width="5.46" height="7.37" fill="#fff6f6"/>
<rect x="425.15" y="192.36" width="5.46" height="7.37" fill="#f6f6ff"/>
<rect x="430.31" y="192.36" width="5.46" height="7.37" fill="#fff6f6"/>
<rect x="435.46" y="192.36" width="5.46" height="7.37" fill="#f6f6ff"/>
<rect x="440.62" y="192.36" width="10.62" height="7.37" fill="#fff6f6"/>
<rect x="450.94" y="192.36" width="5.46" height="7.37" fill="#f6f6ff"/>
<rect x="368.4" y="199.44" width="5.46" height="7.37" fill="#f6f6ff"/>
<rect x="373.56" y="199.44" width="10.62" height="7.37" fill="#b8b8ff"/>
<rect x="383.88" y="199.44" width="5.46" height="7.37" fill="#bfbfff"/>
<rect x="389.04" y="199.44" width="5.46" height="7.37" fill="#cacaff"/>
<rect x="394.19" y="199.44" width="5.46" height="7.37" fill="#f6f6ff"/>
<rect x="399.35" y="199.44" width="10.62" height="7.37" fill="#bfbfff"/>
<rect x="409.67" y="199.44" width="5.46" height="7.37" fill="#dfdfff"/>
<rect x="414.83" y="199.44" width="5.46" height="7.37" fill="#f6f6ff"/>
<rect x="419.99" y="199.44" width="5.46" height="7.37" fill="#dcdcff"/>
<rect x="425.15" y="199.44" width="31.25" height="7.37" fill="#f6f6ff"/>
<rect x="368.4" y="206.51" width="5.46" height="7.37" fill="#e3e3ff"/>
<rect x="373.56" y="206.51" width="5.46" height="7.37" fill="#fff6f6"/>
<rect x="378.72" y="206.51" width="5.46" height="7.37" fill="#f1f1ff"/>
<rect x="383.88" y="206.51" width="5.46" height="7.37" fill="#7878ff"/>
<rect x="389.04" y="206.51" width="5.46" height="7.37" fill="#a7a7ff"/>
<rect x="394.19" y="206.51" width="5.46" height="7.37" fill="#bfbfff"/>
<rect x="399.35" y="206.51" width="10.62" height="7.37" fill="#dcdcff"/>
<rect x="409.67" y="206.51" width="5.46" height="7.37" fill="#e3e3ff"/>
<rect x="414.83" y="206.51" width="5.46" height="7.37" fill="#f6f6ff"/>
<rect x="419.99" y="206.51" width="5.46" height="7.37" fill="#b1b1ff"/>
<rect x="425.15" y="206.51" width="10.62" height="7.37" fill="#f6f6ff"/>
<rect x="435.46" y="206.51" width="5.46" height="7.37" fill="#e3e3ff"/>
<rect x="440.62" y="206.51" width="5.46" height="7.37" fill="#dcdcff"/>
<rect x="445.78" y="206.51" width="10.62" height="7.37" fill="#f6f6ff"/>
<rect x="368.4" y="213.58" width="5.46" height="7.37" fill="#cacaff"/>
<rect x="373.56" y="213.58" width="5.46" height="7.37" fill="#f6f6ff"/>
<rect x="378.72" y="213.58" width="5.46" height="7.37" fill="#f1f1ff"/>
<rect x="383.88" y="213.58" width="5.46" height="7.37" fill="#9c9cff"/>
<rect x="389.04" y="213.58" width="5.46" height="7.37" fill="#b1b1ff"/>
<rect x="394.19" y="213.58" width="5.46" height="7.37" fill="#bfbfff"/>
<rect x="399.35" y="213.58" width="5.46" height="7.37" fill="#e3e3ff"/>
<rect x="404.51" y="213.58" width="5.46" height="7.37" fill="#ffd4d4"/>
<rect x="409.67" y="213.58" width="5.46" height="7.37" fill="#ffdcdc"/>
<rect x="414.83" y="213.58" width="5.46" height="7.37" fill="#fff6f6"/>
<rect x="419.99" y="213.58" width="5.46" height="7.37" fill="#dcdcff"/>
<rect x="425.15" y="213.58" width="20.94" height="7.37" fill="#fff6f6"/>
<rect x="445.78" y="213.58" width="10.62" height="7.37" fill="#f6f6ff"/>
<rect x="368.4" y="220.65" width="5.46" height="7.37" fill="#f6f6ff"/>
<rect x="373.56" y="220.65" width="5.46" height="7.37" fill="#fff6f6"/>
<rect x="378.72" y="220.65" width="5.46" height="7.37" fill="#f1f1ff"/>
<rect x="383.88" y="220.65" width="5.46" height="7.37" fill="#9c9cff"/>
<rect x="389.04" y="220.65" width="5.46" height="7.37" fill="#b8b8ff"/>
<rect x="394.19" y="220.65" width="5.46" height="7.37" fill="#a7a7ff"/>
<rect x="399.35" y="220.65" width="5.46" height="7.37" fill="#f6f6ff"/>
<rect x="404.51" y="220.65" width="5.46" height="7.37" fill="#ffb8b8"/>
<rect x="409.67" y="220.65" width="10.62" height="7.37" fill="#fff6f6"/>
<rect x="419.99" y="220.65" width="5.46" height="7.37" fill="#dcdcff"/>
<rect x="425.15" y="220.65" width="5.46" height="7.37" fill="#fff6f6"/>
<rect x="430.31" y="220.65" width="26.09" height="7.37" fill="#f6f6ff"/>
<rect x="368.4" y="227.73" width="5.46" height="7.37" fill="#fff6f6"/>
<rect x="373.56" y="227.73" width="5.46" height="7.37" fill="#f1f1ff"/>
<rect x="378.72" y="227.73" width="5.46" height="7.37" fill="#e3e3ff"/>
<rect x="383.88" y="227.73" width="5.46" height="7.37" fill="#7878ff"/>
<rect x="389.04" y="227.73" width="5.46" height="7.37" fill="#a7a7ff"/>
<rect x="394.19" y="227.73" width="5.46" height="7.37" fill="#b1b1ff"/>
<rect x="399.35" y="227.73" width="5.46" height="7.37" fill="#f6f6ff"/>
<rect x="404.51" y="227.73" width="5.46" height="7.37" fill="#ffcaca"/>
<rect x="409.67" y="227.73" width="10.62" height="7.37" fill="#fff6f6"/>
<rect x="419.99" y="227.73" width="5.46" height="7.37" fill="#e3e3ff"/>
<rect x="425.15" y="227.73" width="5.46" height="7.37" fill="#fff6f6"/>
<rect x="430.31" y="227.73" width="26.09" height="7.37" fill="#f6f6ff"/>
</g>
<g fill="none" stroke="#000" stroke-opacity="0.55" stroke-width="0.95">
<ellipse cx="401.93" cy="160.54" rx="1.15" ry="1.95"/>
<ellipse cx="407.09" cy="160.54" rx="1.15" ry="1.95"/>
<ellipse cx="417.41" cy="160.54" rx="1.15" ry="1.95"/>
<ellipse cx="422.57" cy="160.54" rx="1.15" ry="1.95"/>
<ellipse cx="438.04" cy="160.54" rx="1.15" ry="1.95"/>
<ellipse cx="443.2" cy="160.54" rx="1.15" ry="1.95"/>
<ellipse cx="370.98" cy="167.61" rx="1.15" ry="1.95"/>
<ellipse cx="396.77" cy="167.61" rx="1.15" ry="1.95"/>
<ellipse cx="401.93" cy="167.61" rx="1.15" ry="1.95"/>
<ellipse cx="407.09" cy="167.61" rx="1.15" ry="1.95"/>
<ellipse cx="417.41" cy="167.61" rx="1.15" ry="1.95"/>
<ellipse cx="422.57" cy="167.61" rx="1.15" ry="1.95"/>
<ellipse cx="427.73" cy="167.61" rx="1.15" ry="1.95"/>
<ellipse cx="432.89" cy="167.61" rx="1.15" ry="1.95"/>
<ellipse cx="391.61" cy="174.68" rx="1.15" ry="1.95"/>
<ellipse cx="396.77" cy="174.68" rx="1.15" ry="1.95"/>
<ellipse cx="401.93" cy="174.68" rx="1.15" ry="1.95"/>
<ellipse cx="407.09" cy="174.68" rx="1.15" ry="1.95"/>
<ellipse cx="412.25" cy="174.68" rx="1.15" ry="1.95"/>
<ellipse cx="417.41" cy="174.68" rx="1.15" ry="1.95"/>
<ellipse cx="422.57" cy="174.68" rx="1.15" ry="1.95"/>
<ellipse cx="370.98" cy="181.75" rx="1.15" ry="1.95"/>
<ellipse cx="381.3" cy="181.75" rx="1.15" ry="1.95"/>
<ellipse cx="391.61" cy="181.75" rx="1.15" ry="1.95"/>
<ellipse cx="396.77" cy="181.75" rx="1.15" ry="1.95"/>
<ellipse cx="401.93" cy="181.75" rx="1.15" ry="1.95"/>
<ellipse cx="407.09" cy="181.75" rx="1.15" ry="1.95"/>
<ellipse cx="412.25" cy="181.75" rx="1.15" ry="1.95"/>
<ellipse cx="417.41" cy="181.75" rx="1.15" ry="1.95"/>
<ellipse cx="422.57" cy="181.75" rx="1.15" ry="1.95"/>
<ellipse cx="432.89" cy="181.75" rx="1.15" ry="1.95"/>
<ellipse cx="438.04" cy="181.75" rx="1.15" ry="1.95"/>
<ellipse cx="386.46" cy="188.83" rx="1.15" ry="1.95"/>
<ellipse cx="396.77" cy="188.83" rx="1.15" ry="1.95"/>
<ellipse cx="401.93" cy="188.83" rx="1.15" ry="1.95"/>
<ellipse cx="407.09" cy="188.83" rx="1.15" ry="1.95"/>
<ellipse cx="417.41" cy="188.83" rx="1.15" ry="1.95"/>
<ellipse cx="427.73" cy="188.83" rx="1.15" ry="1.95"/>
<ellipse cx="438.04" cy="188.83" rx="1.15" ry="1.95"/>
<ellipse cx="376.14" cy="195.9" rx="1.15" ry="1.95"/>
<ellipse cx="396.77" cy="195.9" rx="1.15" ry="1.95"/>
<ellipse cx="401.93" cy="195.9" rx="1.15" ry="1.95"/>
<ellipse cx="407.09" cy="195.9" rx="1.15" ry="1.95"/>
<ellipse cx="412.25" cy="195.9" rx="1.15" ry="1.95"/>
<ellipse cx="417.41" cy="195.9" rx="1.15" ry="1.95"/>
<ellipse cx="427.73" cy="195.9" rx="1.15" ry="1.95"/>
<ellipse cx="438.04" cy="195.9" rx="1.15" ry="1.95"/>
<ellipse cx="376.14" cy="202.97" rx="1.15" ry="1.95"/>
<ellipse cx="381.3" cy="202.97" rx="1.15" ry="1.95"/>
<ellipse cx="386.46" cy="202.97" rx="1.15" ry="1.95"/>
<ellipse cx="391.61" cy="202.97" rx="1.15" ry="1.95"/>
<ellipse cx="396.77" cy="202.97" rx="1.15" ry="1.95"/>
<ellipse cx="401.93" cy="202.97" rx="1.15" ry="1.95"/>
<ellipse cx="407.09" cy="202.97" rx="1.15" ry="1.95"/>
<ellipse cx="412.25" cy="202.97" rx="1.15" ry="1.95"/>
<ellipse cx="417.41" cy="202.97" rx="1.15" ry="1.95"/>
<ellipse cx="422.57" cy="202.97" rx="1.15" ry="1.95"/>
<ellipse cx="427.73" cy="202.97" rx="1.15" ry="1.95"/>
<ellipse cx="381.3" cy="210.05" rx="1.15" ry="1.95"/>
<ellipse cx="386.46" cy="210.05" rx="1.15" ry="1.95"/>
<ellipse cx="391.61" cy="210.05" rx="1.15" ry="1.95"/>
<ellipse cx="396.77" cy="210.05" rx="1.15" ry="1.95"/>
<ellipse cx="401.93" cy="210.05" rx="1.15" ry="1.95"/>
<ellipse cx="407.09" cy="210.05" rx="1.15" ry="1.95"/>
<ellipse cx="412.25" cy="210.05" rx="1.15" ry="1.95"/>
<ellipse cx="422.57" cy="210.05" rx="1.15" ry="1.95"/>
<ellipse cx="427.73" cy="210.05" rx="1.15" ry="1.95"/>
<ellipse cx="438.04" cy="210.05" rx="1.15" ry="1.95"/>
<ellipse cx="443.2" cy="210.05" rx="1.15" ry="1.95"/>
<ellipse cx="386.46" cy="217.12" rx="1.15" ry="1.95"/>
<ellipse cx="391.61" cy="217.12" rx="1.15" ry="1.95"/>
<ellipse cx="396.77" cy="217.12" rx="1.15" ry="1.95"/>
<ellipse cx="401.93" cy="217.12" rx="1.15" ry="1.95"/>
<ellipse cx="407.09" cy="217.12" rx="1.15" ry="1.95"/>
<ellipse cx="412.25" cy="217.12" rx="1.15" ry="1.95"/>
<ellipse cx="422.57" cy="217.12" rx="1.15" ry="1.95"/>
<ellipse cx="370.98" cy="224.19" rx="1.15" ry="1.95"/>
<ellipse cx="381.3" cy="224.19" rx="1.15" ry="1.95"/>
<ellipse cx="386.46" cy="224.19" rx="1.15" ry="1.95"/>
<ellipse cx="391.61" cy="224.19" rx="1.15" ry="1.95"/>
<ellipse cx="396.77" cy="224.19" rx="1.15" ry="1.95"/>
<ellipse cx="407.09" cy="224.19" rx="1.15" ry="1.95"/>
<ellipse cx="422.57" cy="224.19" rx="1.15" ry="1.95"/>
<ellipse cx="438.04" cy="224.19" rx="1.15" ry="1.95"/>
<ellipse cx="381.3" cy="231.26" rx="1.15" ry="1.95"/>
<ellipse cx="386.46" cy="231.26" rx="1.15" ry="1.95"/>
<ellipse cx="391.61" cy="231.26" rx="1.15" ry="1.95"/>
<ellipse cx="396.77" cy="231.26" rx="1.15" ry="1.95"/>
<ellipse cx="407.09" cy="231.26" rx="1.15" ry="1.95"/>
<ellipse cx="422.57" cy="231.26" rx="1.15" ry="1.95"/>
<ellipse cx="432.89" cy="231.26" rx="1.15" ry="1.95"/>
<ellipse cx="438.04" cy="231.26" rx="1.15" ry="1.95"/>
</g>
</g>
<rect x="368.4" y="156.4" width="87.7" height="77.8" fill="none" stroke="#000" stroke-width="1.1"/>
<line x1="363.8" y1="232.5" x2="368.4" y2="232.5" stroke="#000" stroke-width="1"/>
<text x="359.5" y="234.2" font-size="4.4" text-anchor="end" textLength="2.8" lengthAdjust="spacingAndGlyphs" class="sm">0</text>
<line x1="363.8" y1="219.62" x2="368.4" y2="219.62" stroke="#000" stroke-width="1"/>
<text x="359.5" y="221.32" font-size="4.4" text-anchor="end" textLength="5.6" lengthAdjust="spacingAndGlyphs" class="sm">10</text>
<line x1="363.8" y1="206.74" x2="368.4" y2="206.74" stroke="#000" stroke-width="1"/>
<text x="359.5" y="208.44" font-size="4.4" text-anchor="end" textLength="5.6" lengthAdjust="spacingAndGlyphs" class="sm">20</text>
<line x1="363.8" y1="193.86" x2="368.4" y2="193.86" stroke="#000" stroke-width="1"/>
<text x="359.5" y="195.56" font-size="4.4" text-anchor="end" textLength="5.6" lengthAdjust="spacingAndGlyphs" class="sm">30</text>
<line x1="363.8" y1="180.98" x2="368.4" y2="180.98" stroke="#000" stroke-width="1"/>
<text x="359.5" y="182.68" font-size="4.4" text-anchor="end" textLength="5.6" lengthAdjust="spacingAndGlyphs" class="sm">40</text>
<line x1="363.8" y1="168.1" x2="368.4" y2="168.1" stroke="#000" stroke-width="1"/>
<text x="359.5" y="169.8" font-size="4.4" text-anchor="end" textLength="5.6" lengthAdjust="spacingAndGlyphs" class="sm">50</text>
<line x1="388.95" y1="234.2" x2="388.95" y2="238.8" stroke="#000" stroke-width="1"/>
<text x="388.95" y="247.3" font-size="4.4" text-anchor="middle" textLength="9.29" lengthAdjust="spacingAndGlyphs" class="sm">−50</text>
<line x1="412.25" y1="234.2" x2="412.25" y2="238.8" stroke="#000" stroke-width="1"/>
<text x="412.25" y="247.3" font-size="4.4" text-anchor="middle" textLength="2.8" lengthAdjust="spacingAndGlyphs" class="sm">0</text>
<line x1="435.55" y1="234.2" x2="435.55" y2="238.8" stroke="#000" stroke-width="1"/>
<text x="435.55" y="247.3" font-size="4.4" text-anchor="middle" textLength="5.6" lengthAdjust="spacingAndGlyphs" class="sm">50</text>
<text x="412.25" y="258.4" font-size="7" text-anchor="middle" textLength="35.2" lengthAdjust="spacingAndGlyphs" class="lg">latitude (°)</text>
<text transform="translate(347.9,195.3) rotate(-90)" font-size="7" class="lg" text-anchor="middle" textLength="38.2" lengthAdjust="spacingAndGlyphs">model level</text>
<text x="412.25" y="140.34" font-size="7.8" text-anchor="middle" textLength="32.4" lengthAdjust="spacingAndGlyphs" class="lg">(f) AllSky</text>
<text x="412.25" y="148.5" font-size="7.7" text-anchor="middle" textLength="5.06" lengthAdjust="spacingAndGlyphs" class="lg">V</text>
<rect x="461.6" y="156.4" width="3.8" height="77.8" fill="url(#gdiv)"/>
<rect x="461.6" y="156.4" width="3.8" height="77.8" fill="none" stroke="#000" stroke-width="1"/>
<line x1="465.4" y1="233.81" x2="467.9" y2="233.81" stroke="#000" stroke-width="0.9"/>
<line x1="465.4" y1="229.96" x2="467.9" y2="229.96" stroke="#000" stroke-width="0.9"/>
<line x1="465.4" y1="226.11" x2="467.9" y2="226.11" stroke="#000" stroke-width="0.9"/>
<line x1="465.4" y1="222.26" x2="467.9" y2="222.26" stroke="#000" stroke-width="0.9"/>
<line x1="465.4" y1="218.41" x2="467.9" y2="218.41" stroke="#000" stroke-width="0.9"/>
<line x1="465.4" y1="214.56" x2="467.9" y2="214.56" stroke="#000" stroke-width="0.9"/>
<line x1="465.4" y1="210.71" x2="467.9" y2="210.71" stroke="#000" stroke-width="0.9"/>
<line x1="465.4" y1="206.85" x2="467.9" y2="206.85" stroke="#000" stroke-width="0.9"/>
<line x1="465.4" y1="203" x2="467.9" y2="203" stroke="#000" stroke-width="0.9"/>
<line x1="465.4" y1="199.15" x2="467.9" y2="199.15" stroke="#000" stroke-width="0.9"/>
<line x1="465.4" y1="195.3" x2="467.9" y2="195.3" stroke="#000" stroke-width="0.9"/>
<line x1="465.4" y1="191.45" x2="467.9" y2="191.45" stroke="#000" stroke-width="0.9"/>
<line x1="465.4" y1="187.6" x2="467.9" y2="187.6" stroke="#000" stroke-width="0.9"/>
<line x1="465.4" y1="183.75" x2="467.9" y2="183.75" stroke="#000" stroke-width="0.9"/>
<line x1="465.4" y1="179.89" x2="467.9" y2="179.89" stroke="#000" stroke-width="0.9"/>
<line x1="465.4" y1="176.04" x2="467.9" y2="176.04" stroke="#000" stroke-width="0.9"/>
<line x1="465.4" y1="172.19" x2="467.9" y2="172.19" stroke="#000" stroke-width="0.9"/>
<line x1="465.4" y1="168.34" x2="467.9" y2="168.34" stroke="#000" stroke-width="0.9"/>
<line x1="465.4" y1="164.49" x2="467.9" y2="164.49" stroke="#000" stroke-width="0.9"/>
<line x1="465.4" y1="160.64" x2="467.9" y2="160.64" stroke="#000" stroke-width="0.9"/>
<line x1="465.4" y1="156.79" x2="467.9" y2="156.79" stroke="#000" stroke-width="0.9"/>
<line x1="465.4" y1="229.96" x2="470" y2="229.96" stroke="#000" stroke-width="1"/>
<text x="474.3" y="231.56" font-size="4.3" textLength="10.44" lengthAdjust="spacingAndGlyphs" class="sm">−7.2</text>
<line x1="465.4" y1="218.41" x2="470" y2="218.41" stroke="#000" stroke-width="1"/>
<text x="474.3" y="220.01" font-size="4.3" textLength="10.44" lengthAdjust="spacingAndGlyphs" class="sm">−4.8</text>
<line x1="465.4" y1="206.85" x2="470" y2="206.85" stroke="#000" stroke-width="1"/>
<text x="474.3" y="208.45" font-size="4.3" textLength="10.44" lengthAdjust="spacingAndGlyphs" class="sm">−2.4</text>
<line x1="465.4" y1="195.3" x2="470" y2="195.3" stroke="#000" stroke-width="1"/>
<text x="474.3" y="196.9" font-size="4.3" textLength="6.84" lengthAdjust="spacingAndGlyphs" class="sm">0.0</text>
<line x1="465.4" y1="183.75" x2="470" y2="183.75" stroke="#000" stroke-width="1"/>
<text x="474.3" y="185.35" font-size="4.3" textLength="6.84" lengthAdjust="spacingAndGlyphs" class="sm">2.4</text>
<line x1="465.4" y1="172.19" x2="470" y2="172.19" stroke="#000" stroke-width="1"/>
<text x="474.3" y="173.79" font-size="4.3" textLength="6.84" lengthAdjust="spacingAndGlyphs" class="sm">4.8</text>
<line x1="465.4" y1="160.64" x2="470" y2="160.64" stroke="#000" stroke-width="1"/>
<text x="474.3" y="162.24" font-size="4.3" textLength="6.84" lengthAdjust="spacingAndGlyphs" class="sm">7.2</text>
<text transform="translate(495.5,195.3) rotate(-90)" font-size="6.9" class="lg" text-anchor="middle" textLength="93" lengthAdjust="spacingAndGlyphs">rms: % diff. from AllSky-L1200</text>
<clipPath id="cp6"><rect x="30" y="288.6" width="87.3" height="77.8"/></clipPath>
<g clip-path="url(#cp6)">
<g shape-rendering="crispEdges">
<rect x="30" y="288.2" width="5.44" height="8.37" fill="#862e05"/>
<rect x="35.14" y="288.2" width="5.44" height="8.37" fill="#c14702"/>
<rect x="40.27" y="288.2" width="10.57" height="8.37" fill="#d05104"/>
<rect x="50.54" y="288.2" width="5.44" height="8.37" fill="#dc5e0b"/>
<rect x="55.68" y="288.2" width="5.44" height="8.37" fill="#fec652"/>
<rect x="60.81" y="288.2" width="10.57" height="8.37" fill="#fff7bb"/>
<rect x="71.08" y="288.2" width="5.44" height="8.37" fill="#fee79a"/>
<rect x="76.22" y="288.2" width="10.57" height="8.37" fill="#ffefac"/>
<rect x="86.49" y="288.2" width="10.57" height="8.37" fill="#fecc5f"/>
<rect x="96.76" y="288.2" width="10.57" height="8.37" fill="#fedd84"/>
<rect x="107.03" y="288.2" width="5.44" height="8.37" fill="#fed87a"/>
<rect x="112.16" y="288.2" width="5.44" height="8.37" fill="#fee493"/>
<rect x="30" y="296.27" width="10.57" height="7.37" fill="#fedf88"/>
<rect x="40.27" y="296.27" width="10.57" height="7.37" fill="#fece65"/>
<rect x="50.54" y="296.27" width="5.44" height="7.37" fill="#fed471"/>
<rect x="55.68" y="296.27" width="5.44" height="7.37" fill="#fee493"/>
<rect x="60.81" y="296.27" width="25.98" height="7.37" fill="#fff7bb"/>
<rect x="86.49" y="296.27" width="10.57" height="7.37" fill="#ffefac"/>
<rect x="96.76" y="296.27" width="20.84" height="7.37" fill="#fff7bb"/>
<rect x="30" y="303.35" width="10.57" height="7.37" fill="#fffaca"/>
<rect x="40.27" y="303.35" width="15.71" height="7.37" fill="#fff7bb"/>
<rect x="55.68" y="303.35" width="5.44" height="7.37" fill="#fffaca"/>
<rect x="60.81" y="303.35" width="10.57" height="7.37" fill="#fff7bb"/>
<rect x="71.08" y="303.35" width="5.44" height="7.37" fill="#ffefac"/>
<rect x="76.22" y="303.35" width="15.71" height="7.37" fill="#fff7bb"/>
<rect x="91.62" y="303.35" width="25.98" height="7.37" fill="#fffaca"/>
<rect x="30" y="310.42" width="5.44" height="7.37" fill="#fffdda"/>
<rect x="35.14" y="310.42" width="5.44" height="7.37" fill="#fffbd1"/>
<rect x="40.27" y="310.42" width="15.71" height="7.37" fill="#fff7bb"/>
<rect x="55.68" y="310.42" width="5.44" height="7.37" fill="#fffaca"/>
<rect x="60.81" y="310.42" width="10.57" height="7.37" fill="#fff7bb"/>
<rect x="71.08" y="310.42" width="5.44" height="7.37" fill="#ffefac"/>
<rect x="76.22" y="310.42" width="15.71" height="7.37" fill="#fff7bb"/>
<rect x="91.62" y="310.42" width="10.57" height="7.37" fill="#fffaca"/>
<rect x="101.89" y="310.42" width="5.44" height="7.37" fill="#fffdda"/>
<rect x="107.03" y="310.42" width="10.57" height="7.37" fill="#fffaca"/>
<rect x="30" y="317.49" width="10.57" height="7.37" fill="#fffaca"/>
<rect x="40.27" y="317.49" width="15.71" height="7.37" fill="#fff7bb"/>
<rect x="55.68" y="317.49" width="10.57" height="7.37" fill="#fffaca"/>
<rect x="65.95" y="317.49" width="5.44" height="7.37" fill="#fffdda"/>
<rect x="71.08" y="317.49" width="5.44" height="7.37" fill="#fffaca"/>
<rect x="76.22" y="317.49" width="5.44" height="7.37" fill="#fffdda"/>
<rect x="81.35" y="317.49" width="5.44" height="7.37" fill="#fffaca"/>
<rect x="86.49" y="317.49" width="10.57" height="7.37" fill="#fff7bb"/>
<rect x="96.76" y="317.49" width="20.84" height="7.37" fill="#fffaca"/>
<rect x="30" y="324.56" width="31.11" height="7.37" fill="#fffaca"/>
<rect x="60.81" y="324.56" width="56.79" height="7.37" fill="#fffbd1"/>
<rect x="30" y="331.64" width="25.98" height="7.37" fill="#fffaca"/>
<rect x="55.68" y="331.64" width="56.79" height="7.37" fill="#fffbd1"/>
<rect x="112.16" y="331.64" width="5.44" height="7.37" fill="#fffdda"/>
<rect x="30" y="338.71" width="25.98" height="7.37" fill="#fffaca"/>
<rect x="55.68" y="338.71" width="56.79" height="7.37" fill="#fffbd1"/>
<rect x="112.16" y="338.71" width="5.44" height="7.37" fill="#fffaca"/>
<rect x="30" y="345.78" width="25.98" height="7.37" fill="#fff7bb"/>
<rect x="55.68" y="345.78" width="15.71" height="7.37" fill="#fffaca"/>
<rect x="71.08" y="345.78" width="41.38" height="7.37" fill="#fffbd1"/>
<rect x="112.16" y="345.78" width="5.44" height="7.37" fill="#fffaca"/>
<rect x="30" y="352.85" width="5.44" height="7.37" fill="#feb441"/>
<rect x="35.14" y="352.85" width="5.44" height="7.37" fill="#fec959"/>
<rect x="40.27" y="352.85" width="5.44" height="7.37" fill="#fee99e"/>
<rect x="45.41" y="352.85" width="5.44" height="7.37" fill="#ffefac"/>
<rect x="50.54" y="352.85" width="15.71" height="7.37" fill="#fffaca"/>
<rect x="65.95" y="352.85" width="10.57" height="7.37" fill="#fff7bb"/>
<rect x="76.22" y="352.85" width="5.44" height="7.37" fill="#fffbd1"/>
<rect x="81.35" y="352.85" width="20.84" height="7.37" fill="#fff7bb"/>
<rect x="101.89" y="352.85" width="5.44" height="7.37" fill="#ffefac"/>
<rect x="107.03" y="352.85" width="10.57" height="7.37" fill="#fff7bb"/>
<rect x="30" y="359.93" width="5.44" height="7.37" fill="#c14702"/>
<rect x="35.14" y="359.93" width="5.44" height="7.37" fill="#e76a11"/>
<rect x="40.27" y="359.93" width="5.44" height="7.37" fill="#fed97c"/>
<rect x="45.41" y="359.93" width="36.25" height="7.37" fill="#fffaca"/>
<rect x="81.35" y="359.93" width="10.57" height="7.37" fill="#fff7bb"/>
<rect x="91.62" y="359.93" width="10.57" height="7.37" fill="#ffefac"/>
<rect x="101.89" y="359.93" width="5.44" height="7.37" fill="#fecc5f"/>
<rect x="107.03" y="359.93" width="5.44" height="7.37" fill="#ffefac"/>
<rect x="112.16" y="359.93" width="5.44" height="7.37" fill="#fff7bb"/>
</g>
</g>
<rect x="30" y="288.6" width="87.3" height="77.8" fill="none" stroke="#000" stroke-width="1.1"/>
<line x1="25.4" y1="364.7" x2="30" y2="364.7" stroke="#000" stroke-width="1"/>
<text x="21.1" y="366.4" font-size="4.4" text-anchor="end" textLength="2.8" lengthAdjust="spacingAndGlyphs" class="sm">0</text>
<line x1="25.4" y1="351.82" x2="30" y2="351.82" stroke="#000" stroke-width="1"/>
<text x="21.1" y="353.52" font-size="4.4" text-anchor="end" textLength="5.6" lengthAdjust="spacingAndGlyphs" class="sm">10</text>
<line x1="25.4" y1="338.94" x2="30" y2="338.94" stroke="#000" stroke-width="1"/>
<text x="21.1" y="340.64" font-size="4.4" text-anchor="end" textLength="5.6" lengthAdjust="spacingAndGlyphs" class="sm">20</text>
<line x1="25.4" y1="326.06" x2="30" y2="326.06" stroke="#000" stroke-width="1"/>
<text x="21.1" y="327.76" font-size="4.4" text-anchor="end" textLength="5.6" lengthAdjust="spacingAndGlyphs" class="sm">30</text>
<line x1="25.4" y1="313.18" x2="30" y2="313.18" stroke="#000" stroke-width="1"/>
<text x="21.1" y="314.88" font-size="4.4" text-anchor="end" textLength="5.6" lengthAdjust="spacingAndGlyphs" class="sm">40</text>
<line x1="25.4" y1="300.3" x2="30" y2="300.3" stroke="#000" stroke-width="1"/>
<text x="21.1" y="302" font-size="4.4" text-anchor="end" textLength="5.6" lengthAdjust="spacingAndGlyphs" class="sm">50</text>
<line x1="50.35" y1="366.4" x2="50.35" y2="371" stroke="#000" stroke-width="1"/>
<text x="50.35" y="379.5" font-size="4.4" text-anchor="middle" textLength="9.29" lengthAdjust="spacingAndGlyphs" class="sm">−50</text>
<line x1="73.65" y1="366.4" x2="73.65" y2="371" stroke="#000" stroke-width="1"/>
<text x="73.65" y="379.5" font-size="4.4" text-anchor="middle" textLength="2.8" lengthAdjust="spacingAndGlyphs" class="sm">0</text>
<line x1="96.95" y1="366.4" x2="96.95" y2="371" stroke="#000" stroke-width="1"/>
<text x="96.95" y="379.5" font-size="4.4" text-anchor="middle" textLength="5.6" lengthAdjust="spacingAndGlyphs" class="sm">50</text>
<text x="73.65" y="390.6" font-size="7" text-anchor="middle" textLength="35.2" lengthAdjust="spacingAndGlyphs" class="lg">latitude (°)</text>
<text transform="translate(9.5,327.5) rotate(-90)" font-size="7" class="lg" text-anchor="middle" textLength="38.2" lengthAdjust="spacingAndGlyphs">model level</text>
<text x="73.65" y="272.54" font-size="7.8" text-anchor="middle" textLength="59.99" lengthAdjust="spacingAndGlyphs" class="lg">(g) AllSky-L1200</text>
<text x="73.65" y="280.7" font-size="7.7" text-anchor="middle" textLength="4.52" lengthAdjust="spacingAndGlyphs" class="lg">T</text>
<rect x="122.7" y="288.6" width="3.8" height="77.8" fill="url(#gseq)"/>
<rect x="122.7" y="288.6" width="3.8" height="77.8" fill="none" stroke="#000" stroke-width="1"/>
<line x1="126.5" y1="366.4" x2="129" y2="366.4" stroke="#000" stroke-width="0.9"/>
<line x1="126.5" y1="361.54" x2="129" y2="361.54" stroke="#000" stroke-width="0.9"/>
<line x1="126.5" y1="356.68" x2="129" y2="356.68" stroke="#000" stroke-width="0.9"/>
<line x1="126.5" y1="351.81" x2="129" y2="351.81" stroke="#000" stroke-width="0.9"/>
<line x1="126.5" y1="346.95" x2="129" y2="346.95" stroke="#000" stroke-width="0.9"/>
<line x1="126.5" y1="342.09" x2="129" y2="342.09" stroke="#000" stroke-width="0.9"/>
<line x1="126.5" y1="337.23" x2="129" y2="337.23" stroke="#000" stroke-width="0.9"/>
<line x1="126.5" y1="332.36" x2="129" y2="332.36" stroke="#000" stroke-width="0.9"/>
<line x1="126.5" y1="327.5" x2="129" y2="327.5" stroke="#000" stroke-width="0.9"/>
<line x1="126.5" y1="322.64" x2="129" y2="322.64" stroke="#000" stroke-width="0.9"/>
<line x1="126.5" y1="317.78" x2="129" y2="317.78" stroke="#000" stroke-width="0.9"/>
<line x1="126.5" y1="312.91" x2="129" y2="312.91" stroke="#000" stroke-width="0.9"/>
<line x1="126.5" y1="308.05" x2="129" y2="308.05" stroke="#000" stroke-width="0.9"/>
<line x1="126.5" y1="303.19" x2="129" y2="303.19" stroke="#000" stroke-width="0.9"/>
<line x1="126.5" y1="298.33" x2="129" y2="298.33" stroke="#000" stroke-width="0.9"/>
<line x1="126.5" y1="293.46" x2="129" y2="293.46" stroke="#000" stroke-width="0.9"/>
<line x1="126.5" y1="288.6" x2="129" y2="288.6" stroke="#000" stroke-width="0.9"/>
<line x1="126.5" y1="366.4" x2="131.1" y2="366.4" stroke="#000" stroke-width="1"/>
<text x="135.4" y="368" font-size="4.3" textLength="2.74" lengthAdjust="spacingAndGlyphs" class="sm">0</text>
<line x1="126.5" y1="356.68" x2="131.1" y2="356.68" stroke="#000" stroke-width="1"/>
<text x="135.4" y="358.28" font-size="4.3" textLength="2.74" lengthAdjust="spacingAndGlyphs" class="sm">1</text>
<line x1="126.5" y1="346.95" x2="131.1" y2="346.95" stroke="#000" stroke-width="1"/>
<text x="135.4" y="348.55" font-size="4.3" textLength="2.74" lengthAdjust="spacingAndGlyphs" class="sm">2</text>
<line x1="126.5" y1="337.23" x2="131.1" y2="337.23" stroke="#000" stroke-width="1"/>
<text x="135.4" y="338.83" font-size="4.3" textLength="2.74" lengthAdjust="spacingAndGlyphs" class="sm">3</text>
<line x1="126.5" y1="327.5" x2="131.1" y2="327.5" stroke="#000" stroke-width="1"/>
<text x="135.4" y="329.1" font-size="4.3" textLength="2.74" lengthAdjust="spacingAndGlyphs" class="sm">4</text>
<line x1="126.5" y1="317.78" x2="131.1" y2="317.78" stroke="#000" stroke-width="1"/>
<text x="135.4" y="319.38" font-size="4.3" textLength="2.74" lengthAdjust="spacingAndGlyphs" class="sm">5</text>
<line x1="126.5" y1="308.05" x2="131.1" y2="308.05" stroke="#000" stroke-width="1"/>
<text x="135.4" y="309.65" font-size="4.3" textLength="2.74" lengthAdjust="spacingAndGlyphs" class="sm">6</text>
<line x1="126.5" y1="298.33" x2="131.1" y2="298.33" stroke="#000" stroke-width="1"/>
<text x="135.4" y="299.93" font-size="4.3" textLength="2.74" lengthAdjust="spacingAndGlyphs" class="sm">7</text>
<line x1="126.5" y1="288.6" x2="131.1" y2="288.6" stroke="#000" stroke-width="1"/>
<text x="135.4" y="290.2" font-size="4.3" textLength="2.74" lengthAdjust="spacingAndGlyphs" class="sm">8</text>
<text transform="translate(149,327.5) rotate(-90)" font-size="6.7" class="lg" text-anchor="middle">rms(<tspan font-style="italic">δx</tspan><tspan font-size="4.2" dy="1.4">G/Tb</tspan><tspan dy="-1.4">)</tspan></text>
<clipPath id="cp7"><rect x="199.4" y="288.6" width="87.2" height="77.8"/></clipPath>
<g clip-path="url(#cp7)">
<g shape-rendering="crispEdges">
<rect x="199.4" y="288.2" width="5.43" height="8.37" fill="#dedeff"/>
<rect x="204.53" y="288.2" width="5.43" height="8.37" fill="#ceceff"/>
<rect x="209.66" y="288.2" width="5.43" height="8.37" fill="#f1f1ff"/>
<rect x="214.79" y="288.2" width="5.43" height="8.37" fill="#f6f6ff"/>
<rect x="219.92" y="288.2" width="5.43" height="8.37" fill="#ffdede"/>
<rect x="225.05" y="288.2" width="5.43" height="8.37" fill="#ffe5e5"/>
<rect x="230.18" y="288.2" width="5.43" height="8.37" fill="#fff1f1"/>
<rect x="235.31" y="288.2" width="5.43" height="8.37" fill="#fff6f6"/>
<rect x="240.44" y="288.2" width="5.43" height="8.37" fill="#f6f6ff"/>
<rect x="245.56" y="288.2" width="5.43" height="8.37" fill="#fff6f6"/>
<rect x="250.69" y="288.2" width="5.43" height="8.37" fill="#dedeff"/>
<rect x="255.82" y="288.2" width="5.43" height="8.37" fill="#f1f1ff"/>
<rect x="260.95" y="288.2" width="5.43" height="8.37" fill="#f6f6ff"/>
<rect x="266.08" y="288.2" width="5.43" height="8.37" fill="#fff1f1"/>
<rect x="271.21" y="288.2" width="5.43" height="8.37" fill="#f6f6ff"/>
<rect x="276.34" y="288.2" width="5.43" height="8.37" fill="#e5e5ff"/>
<rect x="281.47" y="288.2" width="5.43" height="8.37" fill="#ffe5e5"/>
<rect x="199.4" y="296.27" width="5.43" height="7.37" fill="#f6f6ff"/>
<rect x="204.53" y="296.27" width="10.56" height="7.37" fill="#e5e5ff"/>
<rect x="214.79" y="296.27" width="5.43" height="7.37" fill="#f6f6ff"/>
<rect x="219.92" y="296.27" width="15.69" height="7.37" fill="#ffe5e5"/>
<rect x="235.31" y="296.27" width="31.08" height="7.37" fill="#f6f6ff"/>
<rect x="266.08" y="296.27" width="5.43" height="7.37" fill="#ffd8d8"/>
<rect x="271.21" y="296.27" width="5.43" height="7.37" fill="#f6f6ff"/>
<rect x="276.34" y="296.27" width="5.43" height="7.37" fill="#dedeff"/>
<rect x="281.47" y="296.27" width="5.43" height="7.37" fill="#fff1f1"/>
<rect x="199.4" y="303.35" width="5.43" height="7.37" fill="#ffadad"/>
<rect x="204.53" y="303.35" width="5.43" height="7.37" fill="#e5e5ff"/>
<rect x="209.66" y="303.35" width="5.43" height="7.37" fill="#ceceff"/>
<rect x="214.79" y="303.35" width="5.43" height="7.37" fill="#dedeff"/>
<rect x="219.92" y="303.35" width="5.43" height="7.37" fill="#fff6f6"/>
<rect x="225.05" y="303.35" width="5.43" height="7.37" fill="#e5e5ff"/>
<rect x="230.18" y="303.35" width="5.43" height="7.37" fill="#f1f1ff"/>
<rect x="235.31" y="303.35" width="10.56" height="7.37" fill="#f6f6ff"/>
<rect x="245.56" y="303.35" width="5.43" height="7.37" fill="#ceceff"/>
<rect x="250.69" y="303.35" width="5.43" height="7.37" fill="#f1f1ff"/>
<rect x="255.82" y="303.35" width="10.56" height="7.37" fill="#f6f6ff"/>
<rect x="266.08" y="303.35" width="5.43" height="7.37" fill="#f1f1ff"/>
<rect x="271.21" y="303.35" width="10.56" height="7.37" fill="#fff6f6"/>
<rect x="281.47" y="303.35" width="5.43" height="7.37" fill="#adadff"/>
<rect x="199.4" y="310.42" width="5.43" height="7.37" fill="#fff1f1"/>
<rect x="204.53" y="310.42" width="5.43" height="7.37" fill="#fff6f6"/>
<rect x="209.66" y="310.42" width="5.43" height="7.37" fill="#dedeff"/>
<rect x="214.79" y="310.42" width="5.43" height="7.37" fill="#bebeff"/>
<rect x="219.92" y="310.42" width="5.43" height="7.37" fill="#fff6f6"/>
<rect x="225.05" y="310.42" width="10.56" height="7.37" fill="#f6f6ff"/>
<rect x="235.31" y="310.42" width="5.43" height="7.37" fill="#f1f1ff"/>
<rect x="240.44" y="310.42" width="5.43" height="7.37" fill="#f6f6ff"/>
<rect x="245.56" y="310.42" width="5.43" height="7.37" fill="#fff6f6"/>
<rect x="250.69" y="310.42" width="5.43" height="7.37" fill="#fff1f1"/>
<rect x="255.82" y="310.42" width="5.43" height="7.37" fill="#f6f6ff"/>
<rect x="260.95" y="310.42" width="20.82" height="7.37" fill="#fff6f6"/>
<rect x="281.47" y="310.42" width="5.43" height="7.37" fill="#ff6d6d"/>
<rect x="199.4" y="317.49" width="5.43" height="7.37" fill="#ffdede"/>
<rect x="204.53" y="317.49" width="5.43" height="7.37" fill="#e5e5ff"/>
<rect x="209.66" y="317.49" width="5.43" height="7.37" fill="#f1f1ff"/>
<rect x="214.79" y="317.49" width="5.43" height="7.37" fill="#fff6f6"/>
<rect x="219.92" y="317.49" width="5.43" height="7.37" fill="#ffdede"/>
<rect x="225.05" y="317.49" width="5.43" height="7.37" fill="#fff6f6"/>
<rect x="230.18" y="317.49" width="5.43" height="7.37" fill="#bebeff"/>
<rect x="235.31" y="317.49" width="5.43" height="7.37" fill="#c4c4ff"/>
<rect x="240.44" y="317.49" width="5.43" height="7.37" fill="#d8d8ff"/>
<rect x="245.56" y="317.49" width="5.43" height="7.37" fill="#e5e5ff"/>
<rect x="250.69" y="317.49" width="5.43" height="7.37" fill="#bebeff"/>
<rect x="255.82" y="317.49" width="5.43" height="7.37" fill="#e5e5ff"/>
<rect x="260.95" y="317.49" width="5.43" height="7.37" fill="#f6f6ff"/>
<rect x="266.08" y="317.49" width="10.56" height="7.37" fill="#fff6f6"/>
<rect x="276.34" y="317.49" width="5.43" height="7.37" fill="#dedeff"/>
<rect x="281.47" y="317.49" width="5.43" height="7.37" fill="#c4c4ff"/>
<rect x="199.4" y="324.56" width="5.43" height="7.37" fill="#fff1f1"/>
<rect x="204.53" y="324.56" width="10.56" height="7.37" fill="#c4c4ff"/>
<rect x="214.79" y="324.56" width="5.43" height="7.37" fill="#e5e5ff"/>
<rect x="219.92" y="324.56" width="5.43" height="7.37" fill="#fff6f6"/>
<rect x="225.05" y="324.56" width="5.43" height="7.37" fill="#f6f6ff"/>
<rect x="230.18" y="324.56" width="5.43" height="7.37" fill="#bebeff"/>
<rect x="235.31" y="324.56" width="5.43" height="7.37" fill="#c4c4ff"/>
<rect x="240.44" y="324.56" width="5.43" height="7.37" fill="#bebeff"/>
<rect x="245.56" y="324.56" width="10.56" height="7.37" fill="#f1f1ff"/>
<rect x="255.82" y="324.56" width="5.43" height="7.37" fill="#f6f6ff"/>
<rect x="260.95" y="324.56" width="20.82" height="7.37" fill="#fff6f6"/>
<rect x="281.47" y="324.56" width="5.43" height="7.37" fill="#ffcece"/>
<rect x="199.4" y="331.64" width="5.43" height="7.37" fill="#ffa4a4"/>
<rect x="204.53" y="331.64" width="10.56" height="7.37" fill="#fff6f6"/>
<rect x="214.79" y="331.64" width="5.43" height="7.37" fill="#f1f1ff"/>
<rect x="219.92" y="331.64" width="5.43" height="7.37" fill="#dedeff"/>
<rect x="225.05" y="331.64" width="5.43" height="7.37" fill="#f6f6ff"/>
<rect x="230.18" y="331.64" width="5.43" height="7.37" fill="#e5e5ff"/>
<rect x="235.31" y="331.64" width="5.43" height="7.37" fill="#f6f6ff"/>
<rect x="240.44" y="331.64" width="5.43" height="7.37" fill="#ffffff"/>
<rect x="245.56" y="331.64" width="5.43" height="7.37" fill="#f1f1ff"/>
<rect x="250.69" y="331.64" width="15.69" height="7.37" fill="#f6f6ff"/>
<rect x="266.08" y="331.64" width="15.69" height="7.37" fill="#fff6f6"/>
<rect x="281.47" y="331.64" width="5.43" height="7.37" fill="#ff5c5c"/>
<rect x="199.4" y="338.71" width="5.43" height="7.37" fill="#ffcece"/>
<rect x="204.53" y="338.71" width="5.43" height="7.37" fill="#fff6f6"/>
<rect x="209.66" y="338.71" width="5.43" height="7.37" fill="#f6f6ff"/>
<rect x="214.79" y="338.71" width="5.43" height="7.37" fill="#7d7dff"/>
<rect x="219.92" y="338.71" width="5.43" height="7.37" fill="#b7b7ff"/>
<rect x="225.05" y="338.71" width="5.43" height="7.37" fill="#bebeff"/>
<rect x="230.18" y="338.71" width="5.43" height="7.37" fill="#fff6f6"/>
<rect x="235.31" y="338.71" width="10.56" height="7.37" fill="#f6f6ff"/>
<rect x="245.56" y="338.71" width="5.43" height="7.37" fill="#e5e5ff"/>
<rect x="250.69" y="338.71" width="5.43" height="7.37" fill="#adadff"/>
<rect x="255.82" y="338.71" width="15.69" height="7.37" fill="#f6f6ff"/>
<rect x="271.21" y="338.71" width="5.43" height="7.37" fill="#e5e5ff"/>
<rect x="276.34" y="338.71" width="5.43" height="7.37" fill="#fff6f6"/>
<rect x="281.47" y="338.71" width="5.43" height="7.37" fill="#ffdede"/>
<rect x="199.4" y="345.78" width="10.56" height="7.37" fill="#fff6f6"/>
<rect x="209.66" y="345.78" width="5.43" height="7.37" fill="#f1f1ff"/>
<rect x="214.79" y="345.78" width="5.43" height="7.37" fill="#0000ff"/>
<rect x="219.92" y="345.78" width="5.43" height="7.37" fill="#1c1cff"/>
<rect x="225.05" y="345.78" width="5.43" height="7.37" fill="#b7b7ff"/>
<rect x="230.18" y="345.78" width="5.43" height="7.37" fill="#c4c4ff"/>
<rect x="235.31" y="345.78" width="10.56" height="7.37" fill="#dedeff"/>
<rect x="245.56" y="345.78" width="5.43" height="7.37" fill="#e5e5ff"/>
<rect x="250.69" y="345.78" width="5.43" height="7.37" fill="#dedeff"/>
<rect x="255.82" y="345.78" width="5.43" height="7.37" fill="#c4c4ff"/>
<rect x="260.95" y="345.78" width="5.43" height="7.37" fill="#e5e5ff"/>
<rect x="266.08" y="345.78" width="5.43" height="7.37" fill="#f1f1ff"/>
<rect x="271.21" y="345.78" width="5.43" height="7.37" fill="#e5e5ff"/>
<rect x="276.34" y="345.78" width="5.43" height="7.37" fill="#dedeff"/>
<rect x="281.47" y="345.78" width="5.43" height="7.37" fill="#ceceff"/>
<rect x="199.4" y="352.85" width="5.43" height="7.37" fill="#ceceff"/>
<rect x="204.53" y="352.85" width="5.43" height="7.37" fill="#f1f1ff"/>
<rect x="209.66" y="352.85" width="5.43" height="7.37" fill="#fff6f6"/>
<rect x="214.79" y="352.85" width="5.43" height="7.37" fill="#f6f6ff"/>
<rect x="219.92" y="352.85" width="5.43" height="7.37" fill="#fff6f6"/>
<rect x="225.05" y="352.85" width="5.43" height="7.37" fill="#ffdede"/>
<rect x="230.18" y="352.85" width="5.43" height="7.37" fill="#ffe5e5"/>
<rect x="235.31" y="352.85" width="5.43" height="7.37" fill="#f6f6ff"/>
<rect x="240.44" y="352.85" width="5.43" height="7.37" fill="#ffffff"/>
<rect x="245.56" y="352.85" width="20.82" height="7.37" fill="#fff6f6"/>
<rect x="266.08" y="352.85" width="5.43" height="7.37" fill="#f6f6ff"/>
<rect x="271.21" y="352.85" width="10.56" height="7.37" fill="#fff6f6"/>
<rect x="281.47" y="352.85" width="5.43" height="7.37" fill="#ffd8d8"/>
<rect x="199.4" y="359.93" width="5.43" height="7.37" fill="#f6f6ff"/>
<rect x="204.53" y="359.93" width="5.43" height="7.37" fill="#fff6f6"/>
<rect x="209.66" y="359.93" width="5.43" height="7.37" fill="#f6f6ff"/>
<rect x="214.79" y="359.93" width="10.56" height="7.37" fill="#fff1f1"/>
<rect x="225.05" y="359.93" width="10.56" height="7.37" fill="#fff6f6"/>
<rect x="235.31" y="359.93" width="5.43" height="7.37" fill="#f6f6ff"/>
<rect x="240.44" y="359.93" width="5.43" height="7.37" fill="#ffffff"/>
<rect x="245.56" y="359.93" width="10.56" height="7.37" fill="#f6f6ff"/>
<rect x="255.82" y="359.93" width="5.43" height="7.37" fill="#e5e5ff"/>
<rect x="260.95" y="359.93" width="5.43" height="7.37" fill="#fff6f6"/>
<rect x="266.08" y="359.93" width="5.43" height="7.37" fill="#f6f6ff"/>
<rect x="271.21" y="359.93" width="15.69" height="7.37" fill="#fff6f6"/>
</g>
<g fill="none" stroke="#000" stroke-opacity="0.55" stroke-width="0.95">
<ellipse cx="207.09" cy="292.74" rx="1.15" ry="1.95"/>
<ellipse cx="212.22" cy="292.74" rx="1.15" ry="1.95"/>
<ellipse cx="222.48" cy="292.74" rx="1.15" ry="1.95"/>
<ellipse cx="227.61" cy="292.74" rx="1.15" ry="1.95"/>
<ellipse cx="232.74" cy="292.74" rx="1.15" ry="1.95"/>
<ellipse cx="253.26" cy="292.74" rx="1.15" ry="1.95"/>
<ellipse cx="258.39" cy="292.74" rx="1.15" ry="1.95"/>
<ellipse cx="263.52" cy="292.74" rx="1.15" ry="1.95"/>
<ellipse cx="268.65" cy="292.74" rx="1.15" ry="1.95"/>
<ellipse cx="278.91" cy="292.74" rx="1.15" ry="1.95"/>
<ellipse cx="207.09" cy="299.81" rx="1.15" ry="1.95"/>
<ellipse cx="212.22" cy="299.81" rx="1.15" ry="1.95"/>
<ellipse cx="217.35" cy="299.81" rx="1.15" ry="1.95"/>
<ellipse cx="222.48" cy="299.81" rx="1.15" ry="1.95"/>
<ellipse cx="227.61" cy="299.81" rx="1.15" ry="1.95"/>
<ellipse cx="232.74" cy="299.81" rx="1.15" ry="1.95"/>
<ellipse cx="258.39" cy="299.81" rx="1.15" ry="1.95"/>
<ellipse cx="263.52" cy="299.81" rx="1.15" ry="1.95"/>
<ellipse cx="268.65" cy="299.81" rx="1.15" ry="1.95"/>
<ellipse cx="278.91" cy="299.81" rx="1.15" ry="1.95"/>
<ellipse cx="284.04" cy="299.81" rx="1.15" ry="1.95"/>
<ellipse cx="201.96" cy="306.88" rx="1.15" ry="1.95"/>
<ellipse cx="207.09" cy="306.88" rx="1.15" ry="1.95"/>
<ellipse cx="212.22" cy="306.88" rx="1.15" ry="1.95"/>
<ellipse cx="217.35" cy="306.88" rx="1.15" ry="1.95"/>
<ellipse cx="227.61" cy="306.88" rx="1.15" ry="1.95"/>
<ellipse cx="232.74" cy="306.88" rx="1.15" ry="1.95"/>
<ellipse cx="237.87" cy="306.88" rx="1.15" ry="1.95"/>
<ellipse cx="243" cy="306.88" rx="1.15" ry="1.95"/>
<ellipse cx="248.13" cy="306.88" rx="1.15" ry="1.95"/>
<ellipse cx="253.26" cy="306.88" rx="1.15" ry="1.95"/>
<ellipse cx="263.52" cy="306.88" rx="1.15" ry="1.95"/>
<ellipse cx="212.22" cy="313.95" rx="1.15" ry="1.95"/>
<ellipse cx="217.35" cy="313.95" rx="1.15" ry="1.95"/>
<ellipse cx="237.87" cy="313.95" rx="1.15" ry="1.95"/>
<ellipse cx="248.13" cy="313.95" rx="1.15" ry="1.95"/>
<ellipse cx="258.39" cy="313.95" rx="1.15" ry="1.95"/>
<ellipse cx="284.04" cy="313.95" rx="1.15" ry="1.95"/>
<ellipse cx="207.09" cy="321.03" rx="1.15" ry="1.95"/>
<ellipse cx="212.22" cy="321.03" rx="1.15" ry="1.95"/>
<ellipse cx="222.48" cy="321.03" rx="1.15" ry="1.95"/>
<ellipse cx="232.74" cy="321.03" rx="1.15" ry="1.95"/>
<ellipse cx="237.87" cy="321.03" rx="1.15" ry="1.95"/>
<ellipse cx="243" cy="321.03" rx="1.15" ry="1.95"/>
<ellipse cx="248.13" cy="321.03" rx="1.15" ry="1.95"/>
<ellipse cx="253.26" cy="321.03" rx="1.15" ry="1.95"/>
<ellipse cx="258.39" cy="321.03" rx="1.15" ry="1.95"/>
<ellipse cx="284.04" cy="321.03" rx="1.15" ry="1.95"/>
<ellipse cx="207.09" cy="328.1" rx="1.15" ry="1.95"/>
<ellipse cx="212.22" cy="328.1" rx="1.15" ry="1.95"/>
<ellipse cx="217.35" cy="328.1" rx="1.15" ry="1.95"/>
<ellipse cx="232.74" cy="328.1" rx="1.15" ry="1.95"/>
<ellipse cx="237.87" cy="328.1" rx="1.15" ry="1.95"/>
<ellipse cx="243" cy="328.1" rx="1.15" ry="1.95"/>
<ellipse cx="248.13" cy="328.1" rx="1.15" ry="1.95"/>
<ellipse cx="253.26" cy="328.1" rx="1.15" ry="1.95"/>
<ellipse cx="258.39" cy="328.1" rx="1.15" ry="1.95"/>
<ellipse cx="201.96" cy="335.17" rx="1.15" ry="1.95"/>
<ellipse cx="217.35" cy="335.17" rx="1.15" ry="1.95"/>
<ellipse cx="232.74" cy="335.17" rx="1.15" ry="1.95"/>
<ellipse cx="237.87" cy="335.17" rx="1.15" ry="1.95"/>
<ellipse cx="243" cy="335.17" rx="1.15" ry="1.95"/>
<ellipse cx="248.13" cy="335.17" rx="1.15" ry="1.95"/>
<ellipse cx="253.26" cy="335.17" rx="1.15" ry="1.95"/>
<ellipse cx="284.04" cy="335.17" rx="1.15" ry="1.95"/>
<ellipse cx="217.35" cy="342.25" rx="1.15" ry="1.95"/>
<ellipse cx="222.48" cy="342.25" rx="1.15" ry="1.95"/>
<ellipse cx="227.61" cy="342.25" rx="1.15" ry="1.95"/>
<ellipse cx="243" cy="342.25" rx="1.15" ry="1.95"/>
<ellipse cx="248.13" cy="342.25" rx="1.15" ry="1.95"/>
<ellipse cx="253.26" cy="342.25" rx="1.15" ry="1.95"/>
<ellipse cx="258.39" cy="342.25" rx="1.15" ry="1.95"/>
<ellipse cx="268.65" cy="342.25" rx="1.15" ry="1.95"/>
<ellipse cx="212.22" cy="349.32" rx="1.15" ry="1.95"/>
<ellipse cx="217.35" cy="349.32" rx="1.15" ry="1.95"/>
<ellipse cx="222.48" cy="349.32" rx="1.15" ry="1.95"/>
<ellipse cx="227.61" cy="349.32" rx="1.15" ry="1.95"/>
<ellipse cx="232.74" cy="349.32" rx="1.15" ry="1.95"/>
<ellipse cx="237.87" cy="349.32" rx="1.15" ry="1.95"/>
<ellipse cx="243" cy="349.32" rx="1.15" ry="1.95"/>
<ellipse cx="248.13" cy="349.32" rx="1.15" ry="1.95"/>
<ellipse cx="253.26" cy="349.32" rx="1.15" ry="1.95"/>
<ellipse cx="258.39" cy="349.32" rx="1.15" ry="1.95"/>
<ellipse cx="263.52" cy="349.32" rx="1.15" ry="1.95"/>
<ellipse cx="268.65" cy="349.32" rx="1.15" ry="1.95"/>
<ellipse cx="273.78" cy="349.32" rx="1.15" ry="1.95"/>
<ellipse cx="207.09" cy="356.39" rx="1.15" ry="1.95"/>
<ellipse cx="227.61" cy="356.39" rx="1.15" ry="1.95"/>
<ellipse cx="232.74" cy="356.39" rx="1.15" ry="1.95"/>
<ellipse cx="237.87" cy="356.39" rx="1.15" ry="1.95"/>
<ellipse cx="243" cy="356.39" rx="1.15" ry="1.95"/>
<ellipse cx="268.65" cy="356.39" rx="1.15" ry="1.95"/>
<ellipse cx="212.22" cy="363.46" rx="1.15" ry="1.95"/>
<ellipse cx="217.35" cy="363.46" rx="1.15" ry="1.95"/>
<ellipse cx="222.48" cy="363.46" rx="1.15" ry="1.95"/>
<ellipse cx="243" cy="363.46" rx="1.15" ry="1.95"/>
<ellipse cx="248.13" cy="363.46" rx="1.15" ry="1.95"/>
<ellipse cx="253.26" cy="363.46" rx="1.15" ry="1.95"/>
<ellipse cx="258.39" cy="363.46" rx="1.15" ry="1.95"/>
<ellipse cx="268.65" cy="363.46" rx="1.15" ry="1.95"/>
</g>
</g>
<rect x="199.4" y="288.6" width="87.2" height="77.8" fill="none" stroke="#000" stroke-width="1.1"/>
<line x1="194.8" y1="364.7" x2="199.4" y2="364.7" stroke="#000" stroke-width="1"/>
<text x="190.5" y="366.4" font-size="4.4" text-anchor="end" textLength="2.8" lengthAdjust="spacingAndGlyphs" class="sm">0</text>
<line x1="194.8" y1="351.82" x2="199.4" y2="351.82" stroke="#000" stroke-width="1"/>
<text x="190.5" y="353.52" font-size="4.4" text-anchor="end" textLength="5.6" lengthAdjust="spacingAndGlyphs" class="sm">10</text>
<line x1="194.8" y1="338.94" x2="199.4" y2="338.94" stroke="#000" stroke-width="1"/>
<text x="190.5" y="340.64" font-size="4.4" text-anchor="end" textLength="5.6" lengthAdjust="spacingAndGlyphs" class="sm">20</text>
<line x1="194.8" y1="326.06" x2="199.4" y2="326.06" stroke="#000" stroke-width="1"/>
<text x="190.5" y="327.76" font-size="4.4" text-anchor="end" textLength="5.6" lengthAdjust="spacingAndGlyphs" class="sm">30</text>
<line x1="194.8" y1="313.18" x2="199.4" y2="313.18" stroke="#000" stroke-width="1"/>
<text x="190.5" y="314.88" font-size="4.4" text-anchor="end" textLength="5.6" lengthAdjust="spacingAndGlyphs" class="sm">40</text>
<line x1="194.8" y1="300.3" x2="199.4" y2="300.3" stroke="#000" stroke-width="1"/>
<text x="190.5" y="302" font-size="4.4" text-anchor="end" textLength="5.6" lengthAdjust="spacingAndGlyphs" class="sm">50</text>
<line x1="219.7" y1="366.4" x2="219.7" y2="371" stroke="#000" stroke-width="1"/>
<text x="219.7" y="379.5" font-size="4.4" text-anchor="middle" textLength="9.29" lengthAdjust="spacingAndGlyphs" class="sm">−50</text>
<line x1="243" y1="366.4" x2="243" y2="371" stroke="#000" stroke-width="1"/>
<text x="243" y="379.5" font-size="4.4" text-anchor="middle" textLength="2.8" lengthAdjust="spacingAndGlyphs" class="sm">0</text>
<line x1="266.3" y1="366.4" x2="266.3" y2="371" stroke="#000" stroke-width="1"/>
<text x="266.3" y="379.5" font-size="4.4" text-anchor="middle" textLength="5.6" lengthAdjust="spacingAndGlyphs" class="sm">50</text>
<text x="243" y="390.6" font-size="7" text-anchor="middle" textLength="35.2" lengthAdjust="spacingAndGlyphs" class="lg">latitude (°)</text>
<text transform="translate(178.9,327.5) rotate(-90)" font-size="7" class="lg" text-anchor="middle" textLength="38.2" lengthAdjust="spacingAndGlyphs">model level</text>
<text x="243" y="272.54" font-size="7.8" text-anchor="middle" textLength="55.28" lengthAdjust="spacingAndGlyphs" class="lg">(h) AllSky-L600</text>
<text x="243" y="280.7" font-size="7.7" text-anchor="middle" textLength="4.52" lengthAdjust="spacingAndGlyphs" class="lg">T</text>
<rect x="292.4" y="288.6" width="3.8" height="77.8" fill="url(#gdiv)"/>
<rect x="292.4" y="288.6" width="3.8" height="77.8" fill="none" stroke="#000" stroke-width="1"/>
<line x1="296.2" y1="366.4" x2="298.7" y2="366.4" stroke="#000" stroke-width="0.9"/>
<line x1="296.2" y1="363.16" x2="298.7" y2="363.16" stroke="#000" stroke-width="0.9"/>
<line x1="296.2" y1="359.92" x2="298.7" y2="359.92" stroke="#000" stroke-width="0.9"/>
<line x1="296.2" y1="356.68" x2="298.7" y2="356.68" stroke="#000" stroke-width="0.9"/>
<line x1="296.2" y1="353.43" x2="298.7" y2="353.43" stroke="#000" stroke-width="0.9"/>
<line x1="296.2" y1="350.19" x2="298.7" y2="350.19" stroke="#000" stroke-width="0.9"/>
<line x1="296.2" y1="346.95" x2="298.7" y2="346.95" stroke="#000" stroke-width="0.9"/>
<line x1="296.2" y1="343.71" x2="298.7" y2="343.71" stroke="#000" stroke-width="0.9"/>
<line x1="296.2" y1="340.47" x2="298.7" y2="340.47" stroke="#000" stroke-width="0.9"/>
<line x1="296.2" y1="337.23" x2="298.7" y2="337.23" stroke="#000" stroke-width="0.9"/>
<line x1="296.2" y1="333.98" x2="298.7" y2="333.98" stroke="#000" stroke-width="0.9"/>
<line x1="296.2" y1="330.74" x2="298.7" y2="330.74" stroke="#000" stroke-width="0.9"/>
<line x1="296.2" y1="327.5" x2="298.7" y2="327.5" stroke="#000" stroke-width="0.9"/>
<line x1="296.2" y1="324.26" x2="298.7" y2="324.26" stroke="#000" stroke-width="0.9"/>
<line x1="296.2" y1="321.02" x2="298.7" y2="321.02" stroke="#000" stroke-width="0.9"/>
<line x1="296.2" y1="317.78" x2="298.7" y2="317.78" stroke="#000" stroke-width="0.9"/>
<line x1="296.2" y1="314.53" x2="298.7" y2="314.53" stroke="#000" stroke-width="0.9"/>
<line x1="296.2" y1="311.29" x2="298.7" y2="311.29" stroke="#000" stroke-width="0.9"/>
<line x1="296.2" y1="308.05" x2="298.7" y2="308.05" stroke="#000" stroke-width="0.9"/>
<line x1="296.2" y1="304.81" x2="298.7" y2="304.81" stroke="#000" stroke-width="0.9"/>
<line x1="296.2" y1="301.57" x2="298.7" y2="301.57" stroke="#000" stroke-width="0.9"/>
<line x1="296.2" y1="298.33" x2="298.7" y2="298.33" stroke="#000" stroke-width="0.9"/>
<line x1="296.2" y1="295.08" x2="298.7" y2="295.08" stroke="#000" stroke-width="0.9"/>
<line x1="296.2" y1="291.84" x2="298.7" y2="291.84" stroke="#000" stroke-width="0.9"/>
<line x1="296.2" y1="288.6" x2="298.7" y2="288.6" stroke="#000" stroke-width="0.9"/>
<line x1="296.2" y1="366.4" x2="300.8" y2="366.4" stroke="#000" stroke-width="1"/>
<text x="305.1" y="368" font-size="4.3" textLength="10.44" lengthAdjust="spacingAndGlyphs" class="sm">−7.2</text>
<line x1="296.2" y1="356.68" x2="300.8" y2="356.68" stroke="#000" stroke-width="1"/>
<text x="305.1" y="358.28" font-size="4.3" textLength="10.44" lengthAdjust="spacingAndGlyphs" class="sm">−5.4</text>
<line x1="296.2" y1="346.95" x2="300.8" y2="346.95" stroke="#000" stroke-width="1"/>
<text x="305.1" y="348.55" font-size="4.3" textLength="10.44" lengthAdjust="spacingAndGlyphs" class="sm">−3.6</text>
<line x1="296.2" y1="337.23" x2="300.8" y2="337.23" stroke="#000" stroke-width="1"/>
<text x="305.1" y="338.83" font-size="4.3" textLength="10.44" lengthAdjust="spacingAndGlyphs" class="sm">−1.8</text>
<line x1="296.2" y1="327.5" x2="300.8" y2="327.5" stroke="#000" stroke-width="1"/>
<text x="305.1" y="329.1" font-size="4.3" textLength="6.84" lengthAdjust="spacingAndGlyphs" class="sm">0.0</text>
<line x1="296.2" y1="317.78" x2="300.8" y2="317.78" stroke="#000" stroke-width="1"/>
<text x="305.1" y="319.38" font-size="4.3" textLength="6.84" lengthAdjust="spacingAndGlyphs" class="sm">1.8</text>
<line x1="296.2" y1="308.05" x2="300.8" y2="308.05" stroke="#000" stroke-width="1"/>
<text x="305.1" y="309.65" font-size="4.3" textLength="6.84" lengthAdjust="spacingAndGlyphs" class="sm">3.6</text>
<line x1="296.2" y1="298.33" x2="300.8" y2="298.33" stroke="#000" stroke-width="1"/>
<text x="305.1" y="299.93" font-size="4.3" textLength="6.84" lengthAdjust="spacingAndGlyphs" class="sm">5.4</text>
<line x1="296.2" y1="288.6" x2="300.8" y2="288.6" stroke="#000" stroke-width="1"/>
<text x="305.1" y="290.2" font-size="4.3" textLength="6.84" lengthAdjust="spacingAndGlyphs" class="sm">7.2</text>
<text transform="translate(326.3,327.5) rotate(-90)" font-size="6.9" class="lg" text-anchor="middle" textLength="93" lengthAdjust="spacingAndGlyphs">rms: % diff. from AllSky-L1200</text>
<clipPath id="cp8"><rect x="368.4" y="288.6" width="87.7" height="77.8"/></clipPath>
<g clip-path="url(#cp8)">
<g shape-rendering="crispEdges">
<rect x="368.4" y="288.2" width="5.46" height="8.37" fill="#b8b8ff"/>
<rect x="373.56" y="288.2" width="5.46" height="8.37" fill="#a7a7ff"/>
<rect x="378.72" y="288.2" width="10.62" height="8.37" fill="#f6f6ff"/>
<rect x="389.04" y="288.2" width="5.46" height="8.37" fill="#ffdcdc"/>
<rect x="394.19" y="288.2" width="5.46" height="8.37" fill="#ffe3e3"/>
<rect x="399.35" y="288.2" width="26.09" height="8.37" fill="#f6f6ff"/>
<rect x="425.15" y="288.2" width="5.46" height="8.37" fill="#fff6f6"/>
<rect x="430.31" y="288.2" width="5.46" height="8.37" fill="#ffe3e3"/>
<rect x="435.46" y="288.2" width="5.46" height="8.37" fill="#ffdcdc"/>
<rect x="440.62" y="288.2" width="5.46" height="8.37" fill="#f6f6ff"/>
<rect x="445.78" y="288.2" width="5.46" height="8.37" fill="#e3e3ff"/>
<rect x="450.94" y="288.2" width="5.46" height="8.37" fill="#cacaff"/>
<rect x="368.4" y="296.27" width="5.46" height="7.37" fill="#f1f1ff"/>
<rect x="373.56" y="296.27" width="10.62" height="7.37" fill="#e3e3ff"/>
<rect x="383.88" y="296.27" width="5.46" height="7.37" fill="#fff6f6"/>
<rect x="389.04" y="296.27" width="5.46" height="7.37" fill="#fff1f1"/>
<rect x="394.19" y="296.27" width="5.46" height="7.37" fill="#ffdcdc"/>
<rect x="399.35" y="296.27" width="10.62" height="7.37" fill="#fff6f6"/>
<rect x="409.67" y="296.27" width="5.46" height="7.37" fill="#f6f6ff"/>
<rect x="414.83" y="296.27" width="10.62" height="7.37" fill="#f1f1ff"/>
<rect x="425.15" y="296.27" width="5.46" height="7.37" fill="#fff6f6"/>
<rect x="430.31" y="296.27" width="5.46" height="7.37" fill="#ffe3e3"/>
<rect x="435.46" y="296.27" width="5.46" height="7.37" fill="#ffdcdc"/>
<rect x="440.62" y="296.27" width="10.62" height="7.37" fill="#f6f6ff"/>
<rect x="450.94" y="296.27" width="5.46" height="7.37" fill="#a7a7ff"/>
<rect x="368.4" y="303.35" width="5.46" height="7.37" fill="#ffa7a7"/>
<rect x="373.56" y="303.35" width="5.46" height="7.37" fill="#e3e3ff"/>
<rect x="378.72" y="303.35" width="5.46" height="7.37" fill="#bfbfff"/>
<rect x="383.88" y="303.35" width="5.46" height="7.37" fill="#dcdcff"/>
<rect x="389.04" y="303.35" width="5.46" height="7.37" fill="#f1f1ff"/>
<rect x="394.19" y="303.35" width="5.46" height="7.37" fill="#e3e3ff"/>
<rect x="399.35" y="303.35" width="5.46" height="7.37" fill="#bfbfff"/>
<rect x="404.51" y="303.35" width="5.46" height="7.37" fill="#f1f1ff"/>
<rect x="409.67" y="303.35" width="5.46" height="7.37" fill="#f4f4ff"/>
<rect x="414.83" y="303.35" width="5.46" height="7.37" fill="#e3e3ff"/>
<rect x="419.99" y="303.35" width="5.46" height="7.37" fill="#f6f6ff"/>
<rect x="425.15" y="303.35" width="10.62" height="7.37" fill="#fff6f6"/>
<rect x="435.46" y="303.35" width="10.62" height="7.37" fill="#f6f6ff"/>
<rect x="445.78" y="303.35" width="5.46" height="7.37" fill="#ffdcdc"/>
<rect x="450.94" y="303.35" width="5.46" height="7.37" fill="#e3e3ff"/>
<rect x="368.4" y="310.42" width="5.46" height="7.37" fill="#e3e3ff"/>
<rect x="373.56" y="310.42" width="5.46" height="7.37" fill="#f6f6ff"/>
<rect x="378.72" y="310.42" width="5.46" height="7.37" fill="#bfbfff"/>
<rect x="383.88" y="310.42" width="5.46" height="7.37" fill="#dcdcff"/>
<rect x="389.04" y="310.42" width="5.46" height="7.37" fill="#f1f1ff"/>
<rect x="394.19" y="310.42" width="5.46" height="7.37" fill="#e3e3ff"/>
<rect x="399.35" y="310.42" width="5.46" height="7.37" fill="#f1f1ff"/>
<rect x="404.51" y="310.42" width="5.46" height="7.37" fill="#f6f6ff"/>
<rect x="409.67" y="310.42" width="5.46" height="7.37" fill="#fff6f6"/>
<rect x="414.83" y="310.42" width="5.46" height="7.37" fill="#ffd4d4"/>
<rect x="419.99" y="310.42" width="20.94" height="7.37" fill="#fff6f6"/>
<rect x="440.62" y="310.42" width="5.46" height="7.37" fill="#f6f6ff"/>
<rect x="445.78" y="310.42" width="5.46" height="7.37" fill="#ffdcdc"/>
<rect x="450.94" y="310.42" width="5.46" height="7.37" fill="#ffcaca"/>
<rect x="368.4" y="317.49" width="5.46" height="7.37" fill="#ff9c9c"/>
<rect x="373.56" y="317.49" width="5.46" height="7.37" fill="#cacaff"/>
<rect x="378.72" y="317.49" width="5.46" height="7.37" fill="#ffd4d4"/>
<rect x="383.88" y="317.49" width="15.78" height="7.37" fill="#fff6f6"/>
<rect x="399.35" y="317.49" width="5.46" height="7.37" fill="#b1b1ff"/>
<rect x="404.51" y="317.49" width="5.46" height="7.37" fill="#dcdcff"/>
<rect x="409.67" y="317.49" width="5.46" height="7.37" fill="#bcbcff"/>
<rect x="414.83" y="317.49" width="5.46" height="7.37" fill="#a7a7ff"/>
<rect x="419.99" y="317.49" width="5.46" height="7.37" fill="#dcdcff"/>
<rect x="425.15" y="317.49" width="5.46" height="7.37" fill="#e3e3ff"/>
<rect x="430.31" y="317.49" width="26.09" height="7.37" fill="#f6f6ff"/>
<rect x="368.4" y="324.56" width="5.46" height="7.37" fill="#fff6f6"/>
<rect x="373.56" y="324.56" width="5.46" height="7.37" fill="#f6f6ff"/>
<rect x="378.72" y="324.56" width="5.46" height="7.37" fill="#dcdcff"/>
<rect x="383.88" y="324.56" width="5.46" height="7.37" fill="#e3e3ff"/>
<rect x="389.04" y="324.56" width="5.46" height="7.37" fill="#f6f6ff"/>
<rect x="394.19" y="324.56" width="5.46" height="7.37" fill="#e3e3ff"/>
<rect x="399.35" y="324.56" width="5.46" height="7.37" fill="#b8b8ff"/>
<rect x="404.51" y="324.56" width="5.46" height="7.37" fill="#b1b1ff"/>
<rect x="409.67" y="324.56" width="5.46" height="7.37" fill="#dcdcff"/>
<rect x="414.83" y="324.56" width="15.78" height="7.37" fill="#f6f6ff"/>
<rect x="430.31" y="324.56" width="5.46" height="7.37" fill="#fff6f6"/>
<rect x="435.46" y="324.56" width="10.62" height="7.37" fill="#f6f6ff"/>
<rect x="445.78" y="324.56" width="5.46" height="7.37" fill="#fff6f6"/>
<rect x="450.94" y="324.56" width="5.46" height="7.37" fill="#f6f6ff"/>
<rect x="368.4" y="331.64" width="10.62" height="7.37" fill="#ffdcdc"/>
<rect x="378.72" y="331.64" width="5.46" height="7.37" fill="#f6f6ff"/>
<rect x="383.88" y="331.64" width="5.46" height="7.37" fill="#dcdcff"/>
<rect x="389.04" y="331.64" width="10.62" height="7.37" fill="#e3e3ff"/>
<rect x="399.35" y="331.64" width="5.46" height="7.37" fill="#f1f1ff"/>
<rect x="404.51" y="331.64" width="10.62" height="7.37" fill="#ffdcdc"/>
<rect x="414.83" y="331.64" width="15.78" height="7.37" fill="#f6f6ff"/>
<rect x="430.31" y="331.64" width="5.46" height="7.37" fill="#fff6f6"/>
<rect x="435.46" y="331.64" width="5.46" height="7.37" fill="#f6f6ff"/>
<rect x="440.62" y="331.64" width="5.46" height="7.37" fill="#fff6f6"/>
<rect x="445.78" y="331.64" width="5.46" height="7.37" fill="#ffdcdc"/>
<rect x="450.94" y="331.64" width="5.46" height="7.37" fill="#ff5555"/>
<rect x="368.4" y="338.71" width="5.46" height="7.37" fill="#ff4747"/>
<rect x="373.56" y="338.71" width="5.46" height="7.37" fill="#ffdcdc"/>
<rect x="378.72" y="338.71" width="5.46" height="7.37" fill="#bfbfff"/>
<rect x="383.88" y="338.71" width="5.46" height="7.37" fill="#0000ff"/>
<rect x="389.04" y="338.71" width="5.46" height="7.37" fill="#8080ff"/>
<rect x="394.19" y="338.71" width="5.46" height="7.37" fill="#4747ff"/>
<rect x="399.35" y="338.71" width="5.46" height="7.37" fill="#e3e3ff"/>
<rect x="404.51" y="338.71" width="10.62" height="7.37" fill="#f6f6ff"/>
<rect x="414.83" y="338.71" width="5.46" height="7.37" fill="#dcdcff"/>
<rect x="419.99" y="338.71" width="5.46" height="7.37" fill="#b8b8ff"/>
<rect x="425.15" y="338.71" width="5.46" height="7.37" fill="#e3e3ff"/>
<rect x="430.31" y="338.71" width="5.46" height="7.37" fill="#f6f6ff"/>
<rect x="435.46" y="338.71" width="5.46" height="7.37" fill="#b8b8ff"/>
<rect x="440.62" y="338.71" width="5.46" height="7.37" fill="#f6f6ff"/>
<rect x="445.78" y="338.71" width="5.46" height="7.37" fill="#ffd4d4"/>
<rect x="450.94" y="338.71" width="5.46" height="7.37" fill="#fff1f1"/>
<rect x="368.4" y="345.78" width="5.46" height="7.37" fill="#fff6f6"/>
<rect x="373.56" y="345.78" width="5.46" height="7.37" fill="#ffdcdc"/>
<rect x="378.72" y="345.78" width="5.46" height="7.37" fill="#7878ff"/>
<rect x="383.88" y="345.78" width="10.62" height="7.37" fill="#0000ff"/>
<rect x="394.19" y="345.78" width="5.46" height="7.37" fill="#9c9cff"/>
<rect x="399.35" y="345.78" width="5.46" height="7.37" fill="#b8b8ff"/>
<rect x="404.51" y="345.78" width="5.46" height="7.37" fill="#f6f6ff"/>
<rect x="409.67" y="345.78" width="5.46" height="7.37" fill="#b8b8ff"/>
<rect x="414.83" y="345.78" width="10.62" height="7.37" fill="#dcdcff"/>
<rect x="425.15" y="345.78" width="5.46" height="7.37" fill="#b1b1ff"/>
<rect x="430.31" y="345.78" width="5.46" height="7.37" fill="#cacaff"/>
<rect x="435.46" y="345.78" width="5.46" height="7.37" fill="#7878ff"/>
<rect x="440.62" y="345.78" width="10.62" height="7.37" fill="#dcdcff"/>
<rect x="450.94" y="345.78" width="5.46" height="7.37" fill="#f6f6ff"/>
<rect x="368.4" y="352.85" width="5.46" height="7.37" fill="#dcdcff"/>
<rect x="373.56" y="352.85" width="10.62" height="7.37" fill="#f1f1ff"/>
<rect x="383.88" y="352.85" width="5.46" height="7.37" fill="#dcdcff"/>
<rect x="389.04" y="352.85" width="5.46" height="7.37" fill="#f1f1ff"/>
<rect x="394.19" y="352.85" width="10.62" height="7.37" fill="#ffdcdc"/>
<rect x="404.51" y="352.85" width="10.62" height="7.37" fill="#f6f6ff"/>
<rect x="414.83" y="352.85" width="5.46" height="7.37" fill="#fff6f6"/>
<rect x="419.99" y="352.85" width="5.46" height="7.37" fill="#f6f6ff"/>
<rect x="425.15" y="352.85" width="10.62" height="7.37" fill="#fff6f6"/>
<rect x="435.46" y="352.85" width="15.78" height="7.37" fill="#f6f6ff"/>
<rect x="450.94" y="352.85" width="5.46" height="7.37" fill="#ffdcdc"/>
<rect x="368.4" y="359.93" width="5.46" height="7.37" fill="#f6f6ff"/>
<rect x="373.56" y="359.93" width="5.46" height="7.37" fill="#fff6f6"/>
<rect x="378.72" y="359.93" width="5.46" height="7.37" fill="#f6f6ff"/>
<rect x="383.88" y="359.93" width="5.46" height="7.37" fill="#ffd4d4"/>
<rect x="389.04" y="359.93" width="5.46" height="7.37" fill="#fff1f1"/>
<rect x="394.19" y="359.93" width="15.78" height="7.37" fill="#fff6f6"/>
<rect x="409.67" y="359.93" width="20.94" height="7.37" fill="#f6f6ff"/>
<rect x="430.31" y="359.93" width="5.46" height="7.37" fill="#ffe3e3"/>
<rect x="435.46" y="359.93" width="15.78" height="7.37" fill="#fff6f6"/>
<rect x="450.94" y="359.93" width="5.46" height="7.37" fill="#cacaff"/>
</g>
<g fill="none" stroke="#000" stroke-opacity="0.55" stroke-width="0.95">
<ellipse cx="370.98" cy="292.74" rx="1.15" ry="1.95"/>
<ellipse cx="376.14" cy="292.74" rx="1.15" ry="1.95"/>
<ellipse cx="386.46" cy="292.74" rx="1.15" ry="1.95"/>
<ellipse cx="391.61" cy="292.74" rx="1.15" ry="1.95"/>
<ellipse cx="396.77" cy="292.74" rx="1.15" ry="1.95"/>
<ellipse cx="401.93" cy="292.74" rx="1.15" ry="1.95"/>
<ellipse cx="412.25" cy="292.74" rx="1.15" ry="1.95"/>
<ellipse cx="417.41" cy="292.74" rx="1.15" ry="1.95"/>
<ellipse cx="422.57" cy="292.74" rx="1.15" ry="1.95"/>
<ellipse cx="432.89" cy="292.74" rx="1.15" ry="1.95"/>
<ellipse cx="438.04" cy="292.74" rx="1.15" ry="1.95"/>
<ellipse cx="443.2" cy="292.74" rx="1.15" ry="1.95"/>
<ellipse cx="448.36" cy="292.74" rx="1.15" ry="1.95"/>
<ellipse cx="453.52" cy="292.74" rx="1.15" ry="1.95"/>
<ellipse cx="370.98" cy="299.81" rx="1.15" ry="1.95"/>
<ellipse cx="376.14" cy="299.81" rx="1.15" ry="1.95"/>
<ellipse cx="381.3" cy="299.81" rx="1.15" ry="1.95"/>
<ellipse cx="391.61" cy="299.81" rx="1.15" ry="1.95"/>
<ellipse cx="396.77" cy="299.81" rx="1.15" ry="1.95"/>
<ellipse cx="412.25" cy="299.81" rx="1.15" ry="1.95"/>
<ellipse cx="432.89" cy="299.81" rx="1.15" ry="1.95"/>
<ellipse cx="438.04" cy="299.81" rx="1.15" ry="1.95"/>
<ellipse cx="443.2" cy="299.81" rx="1.15" ry="1.95"/>
<ellipse cx="448.36" cy="299.81" rx="1.15" ry="1.95"/>
<ellipse cx="453.52" cy="299.81" rx="1.15" ry="1.95"/>
<ellipse cx="370.98" cy="306.88" rx="1.15" ry="1.95"/>
<ellipse cx="381.3" cy="306.88" rx="1.15" ry="1.95"/>
<ellipse cx="386.46" cy="306.88" rx="1.15" ry="1.95"/>
<ellipse cx="391.61" cy="306.88" rx="1.15" ry="1.95"/>
<ellipse cx="396.77" cy="306.88" rx="1.15" ry="1.95"/>
<ellipse cx="401.93" cy="306.88" rx="1.15" ry="1.95"/>
<ellipse cx="407.09" cy="306.88" rx="1.15" ry="1.95"/>
<ellipse cx="412.25" cy="306.88" rx="1.15" ry="1.95"/>
<ellipse cx="417.41" cy="306.88" rx="1.15" ry="1.95"/>
<ellipse cx="422.57" cy="306.88" rx="1.15" ry="1.95"/>
<ellipse cx="448.36" cy="306.88" rx="1.15" ry="1.95"/>
<ellipse cx="381.3" cy="313.95" rx="1.15" ry="1.95"/>
<ellipse cx="386.46" cy="313.95" rx="1.15" ry="1.95"/>
<ellipse cx="391.61" cy="313.95" rx="1.15" ry="1.95"/>
<ellipse cx="396.77" cy="313.95" rx="1.15" ry="1.95"/>
<ellipse cx="401.93" cy="313.95" rx="1.15" ry="1.95"/>
<ellipse cx="412.25" cy="313.95" rx="1.15" ry="1.95"/>
<ellipse cx="417.41" cy="313.95" rx="1.15" ry="1.95"/>
<ellipse cx="448.36" cy="313.95" rx="1.15" ry="1.95"/>
<ellipse cx="376.14" cy="321.03" rx="1.15" ry="1.95"/>
<ellipse cx="381.3" cy="321.03" rx="1.15" ry="1.95"/>
<ellipse cx="401.93" cy="321.03" rx="1.15" ry="1.95"/>
<ellipse cx="407.09" cy="321.03" rx="1.15" ry="1.95"/>
<ellipse cx="412.25" cy="321.03" rx="1.15" ry="1.95"/>
<ellipse cx="417.41" cy="321.03" rx="1.15" ry="1.95"/>
<ellipse cx="422.57" cy="321.03" rx="1.15" ry="1.95"/>
<ellipse cx="427.73" cy="321.03" rx="1.15" ry="1.95"/>
<ellipse cx="381.3" cy="328.1" rx="1.15" ry="1.95"/>
<ellipse cx="386.46" cy="328.1" rx="1.15" ry="1.95"/>
<ellipse cx="396.77" cy="328.1" rx="1.15" ry="1.95"/>
<ellipse cx="401.93" cy="328.1" rx="1.15" ry="1.95"/>
<ellipse cx="407.09" cy="328.1" rx="1.15" ry="1.95"/>
<ellipse cx="412.25" cy="328.1" rx="1.15" ry="1.95"/>
<ellipse cx="417.41" cy="328.1" rx="1.15" ry="1.95"/>
<ellipse cx="422.57" cy="328.1" rx="1.15" ry="1.95"/>
<ellipse cx="386.46" cy="335.17" rx="1.15" ry="1.95"/>
<ellipse cx="391.61" cy="335.17" rx="1.15" ry="1.95"/>
<ellipse cx="396.77" cy="335.17" rx="1.15" ry="1.95"/>
<ellipse cx="401.93" cy="335.17" rx="1.15" ry="1.95"/>
<ellipse cx="407.09" cy="335.17" rx="1.15" ry="1.95"/>
<ellipse cx="412.25" cy="335.17" rx="1.15" ry="1.95"/>
<ellipse cx="417.41" cy="335.17" rx="1.15" ry="1.95"/>
<ellipse cx="422.57" cy="335.17" rx="1.15" ry="1.95"/>
<ellipse cx="438.04" cy="335.17" rx="1.15" ry="1.95"/>
<ellipse cx="453.52" cy="335.17" rx="1.15" ry="1.95"/>
<ellipse cx="370.98" cy="342.25" rx="1.15" ry="1.95"/>
<ellipse cx="376.14" cy="342.25" rx="1.15" ry="1.95"/>
<ellipse cx="381.3" cy="342.25" rx="1.15" ry="1.95"/>
<ellipse cx="386.46" cy="342.25" rx="1.15" ry="1.95"/>
<ellipse cx="391.61" cy="342.25" rx="1.15" ry="1.95"/>
<ellipse cx="396.77" cy="342.25" rx="1.15" ry="1.95"/>
<ellipse cx="401.93" cy="342.25" rx="1.15" ry="1.95"/>
<ellipse cx="407.09" cy="342.25" rx="1.15" ry="1.95"/>
<ellipse cx="412.25" cy="342.25" rx="1.15" ry="1.95"/>
<ellipse cx="417.41" cy="342.25" rx="1.15" ry="1.95"/>
<ellipse cx="422.57" cy="342.25" rx="1.15" ry="1.95"/>
<ellipse cx="427.73" cy="342.25" rx="1.15" ry="1.95"/>
<ellipse cx="438.04" cy="342.25" rx="1.15" ry="1.95"/>
<ellipse cx="443.2" cy="342.25" rx="1.15" ry="1.95"/>
<ellipse cx="448.36" cy="342.25" rx="1.15" ry="1.95"/>
<ellipse cx="376.14" cy="349.32" rx="1.15" ry="1.95"/>
<ellipse cx="381.3" cy="349.32" rx="1.15" ry="1.95"/>
<ellipse cx="386.46" cy="349.32" rx="1.15" ry="1.95"/>
<ellipse cx="391.61" cy="349.32" rx="1.15" ry="1.95"/>
<ellipse cx="396.77" cy="349.32" rx="1.15" ry="1.95"/>
<ellipse cx="401.93" cy="349.32" rx="1.15" ry="1.95"/>
<ellipse cx="412.25" cy="349.32" rx="1.15" ry="1.95"/>
<ellipse cx="417.41" cy="349.32" rx="1.15" ry="1.95"/>
<ellipse cx="422.57" cy="349.32" rx="1.15" ry="1.95"/>
<ellipse cx="427.73" cy="349.32" rx="1.15" ry="1.95"/>
<ellipse cx="432.89" cy="349.32" rx="1.15" ry="1.95"/>
<ellipse cx="438.04" cy="349.32" rx="1.15" ry="1.95"/>
<ellipse cx="443.2" cy="349.32" rx="1.15" ry="1.95"/>
<ellipse cx="448.36" cy="349.32" rx="1.15" ry="1.95"/>
<ellipse cx="370.98" cy="356.39" rx="1.15" ry="1.95"/>
<ellipse cx="376.14" cy="356.39" rx="1.15" ry="1.95"/>
<ellipse cx="381.3" cy="356.39" rx="1.15" ry="1.95"/>
<ellipse cx="386.46" cy="356.39" rx="1.15" ry="1.95"/>
<ellipse cx="391.61" cy="356.39" rx="1.15" ry="1.95"/>
<ellipse cx="396.77" cy="356.39" rx="1.15" ry="1.95"/>
<ellipse cx="401.93" cy="356.39" rx="1.15" ry="1.95"/>
<ellipse cx="412.25" cy="356.39" rx="1.15" ry="1.95"/>
<ellipse cx="422.57" cy="356.39" rx="1.15" ry="1.95"/>
<ellipse cx="443.2" cy="356.39" rx="1.15" ry="1.95"/>
<ellipse cx="448.36" cy="356.39" rx="1.15" ry="1.95"/>
<ellipse cx="370.98" cy="363.46" rx="1.15" ry="1.95"/>
<ellipse cx="386.46" cy="363.46" rx="1.15" ry="1.95"/>
<ellipse cx="391.61" cy="363.46" rx="1.15" ry="1.95"/>
<ellipse cx="412.25" cy="363.46" rx="1.15" ry="1.95"/>
<ellipse cx="417.41" cy="363.46" rx="1.15" ry="1.95"/>
<ellipse cx="422.57" cy="363.46" rx="1.15" ry="1.95"/>
<ellipse cx="427.73" cy="363.46" rx="1.15" ry="1.95"/>
<ellipse cx="432.89" cy="363.46" rx="1.15" ry="1.95"/>
<ellipse cx="453.52" cy="363.46" rx="1.15" ry="1.95"/>
</g>
</g>
<rect x="368.4" y="288.6" width="87.7" height="77.8" fill="none" stroke="#000" stroke-width="1.1"/>
<line x1="363.8" y1="364.7" x2="368.4" y2="364.7" stroke="#000" stroke-width="1"/>
<text x="359.5" y="366.4" font-size="4.4" text-anchor="end" textLength="2.8" lengthAdjust="spacingAndGlyphs" class="sm">0</text>
<line x1="363.8" y1="351.82" x2="368.4" y2="351.82" stroke="#000" stroke-width="1"/>
<text x="359.5" y="353.52" font-size="4.4" text-anchor="end" textLength="5.6" lengthAdjust="spacingAndGlyphs" class="sm">10</text>
<line x1="363.8" y1="338.94" x2="368.4" y2="338.94" stroke="#000" stroke-width="1"/>
<text x="359.5" y="340.64" font-size="4.4" text-anchor="end" textLength="5.6" lengthAdjust="spacingAndGlyphs" class="sm">20</text>
<line x1="363.8" y1="326.06" x2="368.4" y2="326.06" stroke="#000" stroke-width="1"/>
<text x="359.5" y="327.76" font-size="4.4" text-anchor="end" textLength="5.6" lengthAdjust="spacingAndGlyphs" class="sm">30</text>
<line x1="363.8" y1="313.18" x2="368.4" y2="313.18" stroke="#000" stroke-width="1"/>
<text x="359.5" y="314.88" font-size="4.4" text-anchor="end" textLength="5.6" lengthAdjust="spacingAndGlyphs" class="sm">40</text>
<line x1="363.8" y1="300.3" x2="368.4" y2="300.3" stroke="#000" stroke-width="1"/>
<text x="359.5" y="302" font-size="4.4" text-anchor="end" textLength="5.6" lengthAdjust="spacingAndGlyphs" class="sm">50</text>
<line x1="388.95" y1="366.4" x2="388.95" y2="371" stroke="#000" stroke-width="1"/>
<text x="388.95" y="379.5" font-size="4.4" text-anchor="middle" textLength="9.29" lengthAdjust="spacingAndGlyphs" class="sm">−50</text>
<line x1="412.25" y1="366.4" x2="412.25" y2="371" stroke="#000" stroke-width="1"/>
<text x="412.25" y="379.5" font-size="4.4" text-anchor="middle" textLength="2.8" lengthAdjust="spacingAndGlyphs" class="sm">0</text>
<line x1="435.55" y1="366.4" x2="435.55" y2="371" stroke="#000" stroke-width="1"/>
<text x="435.55" y="379.5" font-size="4.4" text-anchor="middle" textLength="5.6" lengthAdjust="spacingAndGlyphs" class="sm">50</text>
<text x="412.25" y="390.6" font-size="7" text-anchor="middle" textLength="35.2" lengthAdjust="spacingAndGlyphs" class="lg">latitude (°)</text>
<text transform="translate(347.9,327.5) rotate(-90)" font-size="7" class="lg" text-anchor="middle" textLength="38.2" lengthAdjust="spacingAndGlyphs">model level</text>
<text x="412.25" y="272.54" font-size="7.8" text-anchor="middle" textLength="31.85" lengthAdjust="spacingAndGlyphs" class="lg">(i) AllSky</text>
<text x="412.25" y="280.7" font-size="7.7" text-anchor="middle" textLength="4.52" lengthAdjust="spacingAndGlyphs" class="lg">T</text>
<rect x="461.6" y="288.6" width="3.8" height="77.8" fill="url(#gdiv)"/>
<rect x="461.6" y="288.6" width="3.8" height="77.8" fill="none" stroke="#000" stroke-width="1"/>
<line x1="465.4" y1="366.4" x2="467.9" y2="366.4" stroke="#000" stroke-width="0.9"/>
<line x1="465.4" y1="363.16" x2="467.9" y2="363.16" stroke="#000" stroke-width="0.9"/>
<line x1="465.4" y1="359.92" x2="467.9" y2="359.92" stroke="#000" stroke-width="0.9"/>
<line x1="465.4" y1="356.68" x2="467.9" y2="356.68" stroke="#000" stroke-width="0.9"/>
<line x1="465.4" y1="353.43" x2="467.9" y2="353.43" stroke="#000" stroke-width="0.9"/>
<line x1="465.4" y1="350.19" x2="467.9" y2="350.19" stroke="#000" stroke-width="0.9"/>
<line x1="465.4" y1="346.95" x2="467.9" y2="346.95" stroke="#000" stroke-width="0.9"/>
<line x1="465.4" y1="343.71" x2="467.9" y2="343.71" stroke="#000" stroke-width="0.9"/>
<line x1="465.4" y1="340.47" x2="467.9" y2="340.47" stroke="#000" stroke-width="0.9"/>
<line x1="465.4" y1="337.23" x2="467.9" y2="337.23" stroke="#000" stroke-width="0.9"/>
<line x1="465.4" y1="333.98" x2="467.9" y2="333.98" stroke="#000" stroke-width="0.9"/>
<line x1="465.4" y1="330.74" x2="467.9" y2="330.74" stroke="#000" stroke-width="0.9"/>
<line x1="465.4" y1="327.5" x2="467.9" y2="327.5" stroke="#000" stroke-width="0.9"/>
<line x1="465.4" y1="324.26" x2="467.9" y2="324.26" stroke="#000" stroke-width="0.9"/>
<line x1="465.4" y1="321.02" x2="467.9" y2="321.02" stroke="#000" stroke-width="0.9"/>
<line x1="465.4" y1="317.78" x2="467.9" y2="317.78" stroke="#000" stroke-width="0.9"/>
<line x1="465.4" y1="314.53" x2="467.9" y2="314.53" stroke="#000" stroke-width="0.9"/>
<line x1="465.4" y1="311.29" x2="467.9" y2="311.29" stroke="#000" stroke-width="0.9"/>
<line x1="465.4" y1="308.05" x2="467.9" y2="308.05" stroke="#000" stroke-width="0.9"/>
<line x1="465.4" y1="304.81" x2="467.9" y2="304.81" stroke="#000" stroke-width="0.9"/>
<line x1="465.4" y1="301.57" x2="467.9" y2="301.57" stroke="#000" stroke-width="0.9"/>
<line x1="465.4" y1="298.33" x2="467.9" y2="298.33" stroke="#000" stroke-width="0.9"/>
<line x1="465.4" y1="295.08" x2="467.9" y2="295.08" stroke="#000" stroke-width="0.9"/>
<line x1="465.4" y1="291.84" x2="467.9" y2="291.84" stroke="#000" stroke-width="0.9"/>
<line x1="465.4" y1="288.6" x2="467.9" y2="288.6" stroke="#000" stroke-width="0.9"/>
<line x1="465.4" y1="366.4" x2="470" y2="366.4" stroke="#000" stroke-width="1"/>
<text x="474.3" y="368" font-size="4.3" textLength="10.44" lengthAdjust="spacingAndGlyphs" class="sm">−7.2</text>
<line x1="465.4" y1="356.68" x2="470" y2="356.68" stroke="#000" stroke-width="1"/>
<text x="474.3" y="358.28" font-size="4.3" textLength="10.44" lengthAdjust="spacingAndGlyphs" class="sm">−5.4</text>
<line x1="465.4" y1="346.95" x2="470" y2="346.95" stroke="#000" stroke-width="1"/>
<text x="474.3" y="348.55" font-size="4.3" textLength="10.44" lengthAdjust="spacingAndGlyphs" class="sm">−3.6</text>
<line x1="465.4" y1="337.23" x2="470" y2="337.23" stroke="#000" stroke-width="1"/>
<text x="474.3" y="338.83" font-size="4.3" textLength="10.44" lengthAdjust="spacingAndGlyphs" class="sm">−1.8</text>
<line x1="465.4" y1="327.5" x2="470" y2="327.5" stroke="#000" stroke-width="1"/>
<text x="474.3" y="329.1" font-size="4.3" textLength="6.84" lengthAdjust="spacingAndGlyphs" class="sm">0.0</text>
<line x1="465.4" y1="317.78" x2="470" y2="317.78" stroke="#000" stroke-width="1"/>
<text x="474.3" y="319.38" font-size="4.3" textLength="6.84" lengthAdjust="spacingAndGlyphs" class="sm">1.8</text>
<line x1="465.4" y1="308.05" x2="470" y2="308.05" stroke="#000" stroke-width="1"/>
<text x="474.3" y="309.65" font-size="4.3" textLength="6.84" lengthAdjust="spacingAndGlyphs" class="sm">3.6</text>
<line x1="465.4" y1="298.33" x2="470" y2="298.33" stroke="#000" stroke-width="1"/>
<text x="474.3" y="299.93" font-size="4.3" textLength="6.84" lengthAdjust="spacingAndGlyphs" class="sm">5.4</text>
<line x1="465.4" y1="288.6" x2="470" y2="288.6" stroke="#000" stroke-width="1"/>
<text x="474.3" y="290.2" font-size="4.3" textLength="6.84" lengthAdjust="spacingAndGlyphs" class="sm">7.2</text>
<text transform="translate(495.5,327.5) rotate(-90)" font-size="6.9" class="lg" text-anchor="middle" textLength="93" lengthAdjust="spacingAndGlyphs">rms: % diff. from AllSky-L1200</text>
<clipPath id="cp9"><rect x="30" y="420.85" width="87.3" height="77.8"/></clipPath>
<g clip-path="url(#cp9)">
<g shape-rendering="crispEdges">
<rect x="30" y="420.45" width="87.6" height="8.37" fill="#fffede"/>
<rect x="30" y="428.52" width="87.6" height="7.37" fill="#fffede"/>
<rect x="30" y="435.6" width="87.6" height="7.37" fill="#fffede"/>
<rect x="30" y="442.67" width="87.6" height="7.37" fill="#fffede"/>
<rect x="30" y="449.74" width="87.6" height="7.37" fill="#fffede"/>
<rect x="30" y="456.81" width="31.11" height="7.37" fill="#fffede"/>
<rect x="60.81" y="456.81" width="5.44" height="7.37" fill="#fff0ae"/>
<rect x="65.95" y="456.81" width="15.71" height="7.37" fill="#fee99e"/>
<rect x="81.35" y="456.81" width="5.44" height="7.37" fill="#fff0ae"/>
<rect x="86.49" y="456.81" width="31.11" height="7.37" fill="#fffede"/>
<rect x="30" y="463.89" width="10.57" height="7.37" fill="#fffede"/>
<rect x="40.27" y="463.89" width="5.44" height="7.37" fill="#fffbd3"/>
<rect x="45.41" y="463.89" width="5.44" height="7.37" fill="#fff9c8"/>
<rect x="50.54" y="463.89" width="5.44" height="7.37" fill="#fff6b9"/>
<rect x="55.68" y="463.89" width="5.44" height="7.37" fill="#fff0ae"/>
<rect x="60.81" y="463.89" width="5.44" height="7.37" fill="#fee99e"/>
<rect x="65.95" y="463.89" width="5.44" height="7.37" fill="#feac3a"/>
<rect x="71.08" y="463.89" width="5.44" height="7.37" fill="#febf4b"/>
<rect x="76.22" y="463.89" width="5.44" height="7.37" fill="#feac3a"/>
<rect x="81.35" y="463.89" width="5.44" height="7.37" fill="#fee28e"/>
<rect x="86.49" y="463.89" width="5.44" height="7.37" fill="#fff0ae"/>
<rect x="91.62" y="463.89" width="5.44" height="7.37" fill="#fff9c8"/>
<rect x="96.76" y="463.89" width="5.44" height="7.37" fill="#fffcd6"/>
<rect x="101.89" y="463.89" width="15.71" height="7.37" fill="#fffede"/>
<rect x="30" y="470.96" width="5.44" height="7.37" fill="#fffede"/>
<rect x="35.14" y="470.96" width="5.44" height="7.37" fill="#fff9c8"/>
<rect x="40.27" y="470.96" width="5.44" height="7.37" fill="#fff6b9"/>
<rect x="45.41" y="470.96" width="5.44" height="7.37" fill="#fee99e"/>
<rect x="50.54" y="470.96" width="5.44" height="7.37" fill="#fece65"/>
<rect x="55.68" y="470.96" width="5.44" height="7.37" fill="#fe9929"/>
<rect x="60.81" y="470.96" width="5.44" height="7.37" fill="#fea433"/>
<rect x="65.95" y="470.96" width="15.71" height="7.37" fill="#f68720"/>
<rect x="81.35" y="470.96" width="5.44" height="7.37" fill="#febf4b"/>
<rect x="86.49" y="470.96" width="5.44" height="7.37" fill="#fee99e"/>
<rect x="91.62" y="470.96" width="5.44" height="7.37" fill="#fff0ae"/>
<rect x="96.76" y="470.96" width="5.44" height="7.37" fill="#fff6b9"/>
<rect x="101.89" y="470.96" width="5.44" height="7.37" fill="#fff9c8"/>
<rect x="107.03" y="470.96" width="5.44" height="7.37" fill="#fffbd3"/>
<rect x="112.16" y="470.96" width="5.44" height="7.37" fill="#fff6b9"/>
<rect x="30" y="478.03" width="5.44" height="7.37" fill="#fff9c8"/>
<rect x="35.14" y="478.03" width="5.44" height="7.37" fill="#fff6b9"/>
<rect x="40.27" y="478.03" width="5.44" height="7.37" fill="#fee99e"/>
<rect x="45.41" y="478.03" width="5.44" height="7.37" fill="#feb441"/>
<rect x="50.54" y="478.03" width="5.44" height="7.37" fill="#feac3a"/>
<rect x="55.68" y="478.03" width="5.44" height="7.37" fill="#fe9929"/>
<rect x="60.81" y="478.03" width="5.44" height="7.37" fill="#f68720"/>
<rect x="65.95" y="478.03" width="5.44" height="7.37" fill="#d95a09"/>
<rect x="71.08" y="478.03" width="5.44" height="7.37" fill="#f68720"/>
<rect x="76.22" y="478.03" width="5.44" height="7.37" fill="#f17c1a"/>
<rect x="81.35" y="478.03" width="5.44" height="7.37" fill="#fea433"/>
<rect x="86.49" y="478.03" width="5.44" height="7.37" fill="#fece65"/>
<rect x="91.62" y="478.03" width="5.44" height="7.37" fill="#fee28e"/>
<rect x="96.76" y="478.03" width="5.44" height="7.37" fill="#fff0ae"/>
<rect x="101.89" y="478.03" width="5.44" height="7.37" fill="#fff6b9"/>
<rect x="107.03" y="478.03" width="10.57" height="7.37" fill="#fff9c8"/>
<rect x="30" y="485.1" width="5.44" height="7.37" fill="#fff9c8"/>
<rect x="35.14" y="485.1" width="5.44" height="7.37" fill="#fff0ae"/>
<rect x="40.27" y="485.1" width="5.44" height="7.37" fill="#fee28e"/>
<rect x="45.41" y="485.1" width="5.44" height="7.37" fill="#fece65"/>
<rect x="50.54" y="485.1" width="5.44" height="7.37" fill="#febf4b"/>
<rect x="55.68" y="485.1" width="5.44" height="7.37" fill="#feac3a"/>
<rect x="60.81" y="485.1" width="5.44" height="7.37" fill="#fe9929"/>
<rect x="65.95" y="485.1" width="5.44" height="7.37" fill="#fea433"/>
<rect x="71.08" y="485.1" width="5.44" height="7.37" fill="#f68720"/>
<rect x="76.22" y="485.1" width="5.44" height="7.37" fill="#c14702"/>
<rect x="81.35" y="485.1" width="5.44" height="7.37" fill="#fe9929"/>
<rect x="86.49" y="485.1" width="5.44" height="7.37" fill="#fec653"/>
<rect x="91.62" y="485.1" width="5.44" height="7.37" fill="#fee28e"/>
<rect x="96.76" y="485.1" width="5.44" height="7.37" fill="#fff0ae"/>
<rect x="101.89" y="485.1" width="5.44" height="7.37" fill="#fff6b9"/>
<rect x="107.03" y="485.1" width="10.57" height="7.37" fill="#fff9c8"/>
<rect x="30" y="492.18" width="5.44" height="7.37" fill="#fff9c8"/>
<rect x="35.14" y="492.18" width="5.44" height="7.37" fill="#fff6b9"/>
<rect x="40.27" y="492.18" width="5.44" height="7.37" fill="#fff0ae"/>
<rect x="45.41" y="492.18" width="5.44" height="7.37" fill="#fee28e"/>
<rect x="50.54" y="492.18" width="5.44" height="7.37" fill="#fece65"/>
<rect x="55.68" y="492.18" width="5.44" height="7.37" fill="#f68720"/>
<rect x="60.81" y="492.18" width="5.44" height="7.37" fill="#fe9929"/>
<rect x="65.95" y="492.18" width="5.44" height="7.37" fill="#fea433"/>
<rect x="71.08" y="492.18" width="5.44" height="7.37" fill="#f17c1a"/>
<rect x="76.22" y="492.18" width="5.44" height="7.37" fill="#e76a11"/>
<rect x="81.35" y="492.18" width="5.44" height="7.37" fill="#fe9929"/>
<rect x="86.49" y="492.18" width="5.44" height="7.37" fill="#fec653"/>
<rect x="91.62" y="492.18" width="5.44" height="7.37" fill="#fee28e"/>
<rect x="96.76" y="492.18" width="5.44" height="7.37" fill="#fee99e"/>
<rect x="101.89" y="492.18" width="5.44" height="7.37" fill="#fff0ae"/>
<rect x="107.03" y="492.18" width="5.44" height="7.37" fill="#fff6b9"/>
<rect x="112.16" y="492.18" width="5.44" height="7.37" fill="#fff9c8"/>
</g>
</g>
<rect x="30" y="420.85" width="87.3" height="77.8" fill="none" stroke="#000" stroke-width="1.1"/>
<line x1="25.4" y1="496.95" x2="30" y2="496.95" stroke="#000" stroke-width="1"/>
<text x="21.1" y="498.65" font-size="4.4" text-anchor="end" textLength="2.8" lengthAdjust="spacingAndGlyphs" class="sm">0</text>
<line x1="25.4" y1="484.07" x2="30" y2="484.07" stroke="#000" stroke-width="1"/>
<text x="21.1" y="485.77" font-size="4.4" text-anchor="end" textLength="5.6" lengthAdjust="spacingAndGlyphs" class="sm">10</text>
<line x1="25.4" y1="471.19" x2="30" y2="471.19" stroke="#000" stroke-width="1"/>
<text x="21.1" y="472.89" font-size="4.4" text-anchor="end" textLength="5.6" lengthAdjust="spacingAndGlyphs" class="sm">20</text>
<line x1="25.4" y1="458.31" x2="30" y2="458.31" stroke="#000" stroke-width="1"/>
<text x="21.1" y="460.01" font-size="4.4" text-anchor="end" textLength="5.6" lengthAdjust="spacingAndGlyphs" class="sm">30</text>
<line x1="25.4" y1="445.43" x2="30" y2="445.43" stroke="#000" stroke-width="1"/>
<text x="21.1" y="447.13" font-size="4.4" text-anchor="end" textLength="5.6" lengthAdjust="spacingAndGlyphs" class="sm">40</text>
<line x1="25.4" y1="432.55" x2="30" y2="432.55" stroke="#000" stroke-width="1"/>
<text x="21.1" y="434.25" font-size="4.4" text-anchor="end" textLength="5.6" lengthAdjust="spacingAndGlyphs" class="sm">50</text>
<line x1="50.35" y1="498.65" x2="50.35" y2="503.25" stroke="#000" stroke-width="1"/>
<text x="50.35" y="511.75" font-size="4.4" text-anchor="middle" textLength="9.29" lengthAdjust="spacingAndGlyphs" class="sm">−50</text>
<line x1="73.65" y1="498.65" x2="73.65" y2="503.25" stroke="#000" stroke-width="1"/>
<text x="73.65" y="511.75" font-size="4.4" text-anchor="middle" textLength="2.8" lengthAdjust="spacingAndGlyphs" class="sm">0</text>
<line x1="96.95" y1="498.65" x2="96.95" y2="503.25" stroke="#000" stroke-width="1"/>
<text x="96.95" y="511.75" font-size="4.4" text-anchor="middle" textLength="5.6" lengthAdjust="spacingAndGlyphs" class="sm">50</text>
<text x="73.65" y="522.85" font-size="7" text-anchor="middle" textLength="35.2" lengthAdjust="spacingAndGlyphs" class="lg">latitude (°)</text>
<text transform="translate(9.5,459.75) rotate(-90)" font-size="7" class="lg" text-anchor="middle" textLength="38.2" lengthAdjust="spacingAndGlyphs">model level</text>
<text x="73.65" y="404.79" font-size="7.8" text-anchor="middle" textLength="57.35" lengthAdjust="spacingAndGlyphs" class="lg">(j) AllSky-L1200</text>
<text x="73.65" y="412.95" font-size="7.7" text-anchor="middle" textLength="10.2" lengthAdjust="spacingAndGlyphs" class="lg">Qv</text>
<rect x="122.7" y="420.85" width="3.8" height="77.8" fill="url(#gseq)"/>
<rect x="122.7" y="420.85" width="3.8" height="77.8" fill="none" stroke="#000" stroke-width="1"/>
<line x1="126.5" y1="498.65" x2="129" y2="498.65" stroke="#000" stroke-width="0.9"/>
<line x1="126.5" y1="493.09" x2="129" y2="493.09" stroke="#000" stroke-width="0.9"/>
<line x1="126.5" y1="487.54" x2="129" y2="487.54" stroke="#000" stroke-width="0.9"/>
<line x1="126.5" y1="481.98" x2="129" y2="481.98" stroke="#000" stroke-width="0.9"/>
<line x1="126.5" y1="476.42" x2="129" y2="476.42" stroke="#000" stroke-width="0.9"/>
<line x1="126.5" y1="470.86" x2="129" y2="470.86" stroke="#000" stroke-width="0.9"/>
<line x1="126.5" y1="465.31" x2="129" y2="465.31" stroke="#000" stroke-width="0.9"/>
<line x1="126.5" y1="459.75" x2="129" y2="459.75" stroke="#000" stroke-width="0.9"/>
<line x1="126.5" y1="454.19" x2="129" y2="454.19" stroke="#000" stroke-width="0.9"/>
<line x1="126.5" y1="448.64" x2="129" y2="448.64" stroke="#000" stroke-width="0.9"/>
<line x1="126.5" y1="443.08" x2="129" y2="443.08" stroke="#000" stroke-width="0.9"/>
<line x1="126.5" y1="437.52" x2="129" y2="437.52" stroke="#000" stroke-width="0.9"/>
<line x1="126.5" y1="431.96" x2="129" y2="431.96" stroke="#000" stroke-width="0.9"/>
<line x1="126.5" y1="426.41" x2="129" y2="426.41" stroke="#000" stroke-width="0.9"/>
<line x1="126.5" y1="420.85" x2="129" y2="420.85" stroke="#000" stroke-width="0.9"/>
<line x1="126.5" y1="498.65" x2="131.1" y2="498.65" stroke="#000" stroke-width="1"/>
<text x="135.4" y="500.25" font-size="4.3" textLength="6.84" lengthAdjust="spacingAndGlyphs" class="sm">0.0</text>
<line x1="126.5" y1="487.54" x2="131.1" y2="487.54" stroke="#000" stroke-width="1"/>
<text x="135.4" y="489.14" font-size="4.3" textLength="6.84" lengthAdjust="spacingAndGlyphs" class="sm">0.3</text>
<line x1="126.5" y1="476.42" x2="131.1" y2="476.42" stroke="#000" stroke-width="1"/>
<text x="135.4" y="478.02" font-size="4.3" textLength="6.84" lengthAdjust="spacingAndGlyphs" class="sm">0.6</text>
<line x1="126.5" y1="465.31" x2="131.1" y2="465.31" stroke="#000" stroke-width="1"/>
<text x="135.4" y="466.91" font-size="4.3" textLength="6.84" lengthAdjust="spacingAndGlyphs" class="sm">0.9</text>
<line x1="126.5" y1="454.19" x2="131.1" y2="454.19" stroke="#000" stroke-width="1"/>
<text x="135.4" y="455.79" font-size="4.3" textLength="6.84" lengthAdjust="spacingAndGlyphs" class="sm">1.2</text>
<line x1="126.5" y1="443.08" x2="131.1" y2="443.08" stroke="#000" stroke-width="1"/>
<text x="135.4" y="444.68" font-size="4.3" textLength="6.84" lengthAdjust="spacingAndGlyphs" class="sm">1.5</text>
<line x1="126.5" y1="431.96" x2="131.1" y2="431.96" stroke="#000" stroke-width="1"/>
<text x="135.4" y="433.56" font-size="4.3" textLength="6.84" lengthAdjust="spacingAndGlyphs" class="sm">1.8</text>
<line x1="126.5" y1="420.85" x2="131.1" y2="420.85" stroke="#000" stroke-width="1"/>
<text x="135.4" y="422.45" font-size="4.3" textLength="6.84" lengthAdjust="spacingAndGlyphs" class="sm">2.1</text>
<text transform="translate(149,459.75) rotate(-90)" font-size="6.7" class="lg" text-anchor="middle">rms(<tspan font-style="italic">δx</tspan><tspan font-size="4.2" dy="1.4">G/Tb</tspan><tspan dy="-1.4">)</tspan></text>
<clipPath id="cp10"><rect x="199.4" y="420.85" width="87.2" height="77.8"/></clipPath>
<g clip-path="url(#cp10)">
<g shape-rendering="crispEdges">
<rect x="199.4" y="420.45" width="10.56" height="8.37" fill="#fff1f1"/>
<rect x="209.66" y="420.45" width="5.43" height="8.37" fill="#f6f6ff"/>
<rect x="214.79" y="420.45" width="15.69" height="8.37" fill="#fff6f6"/>
<rect x="230.18" y="420.45" width="5.43" height="8.37" fill="#fff1f1"/>
<rect x="235.31" y="420.45" width="5.43" height="8.37" fill="#f6f6ff"/>
<rect x="240.44" y="420.45" width="5.43" height="8.37" fill="#fff6f6"/>
<rect x="245.56" y="420.45" width="36.21" height="8.37" fill="#f6f6ff"/>
<rect x="281.47" y="420.45" width="5.43" height="8.37" fill="#fff6f6"/>
<rect x="199.4" y="428.52" width="10.56" height="7.37" fill="#f1f1ff"/>
<rect x="209.66" y="428.52" width="10.56" height="7.37" fill="#fff6f6"/>
<rect x="219.92" y="428.52" width="15.69" height="7.37" fill="#f6f6ff"/>
<rect x="235.31" y="428.52" width="5.43" height="7.37" fill="#f1f1ff"/>
<rect x="240.44" y="428.52" width="5.43" height="7.37" fill="#ffffff"/>
<rect x="245.56" y="428.52" width="10.56" height="7.37" fill="#f6f6ff"/>
<rect x="255.82" y="428.52" width="5.43" height="7.37" fill="#fff6f6"/>
<rect x="260.95" y="428.52" width="5.43" height="7.37" fill="#f6f6ff"/>
<rect x="266.08" y="428.52" width="10.56" height="7.37" fill="#fff6f6"/>
<rect x="276.34" y="428.52" width="5.43" height="7.37" fill="#f6f6ff"/>
<rect x="281.47" y="428.52" width="5.43" height="7.37" fill="#fff6f6"/>
<rect x="199.4" y="435.6" width="20.82" height="7.37" fill="#fff6f6"/>
<rect x="219.92" y="435.6" width="5.43" height="7.37" fill="#f6f6ff"/>
<rect x="225.05" y="435.6" width="15.69" height="7.37" fill="#fff6f6"/>
<rect x="240.44" y="435.6" width="5.43" height="7.37" fill="#ffffff"/>
<rect x="245.56" y="435.6" width="31.08" height="7.37" fill="#f6f6ff"/>
<rect x="276.34" y="435.6" width="10.56" height="7.37" fill="#f1f1ff"/>
<rect x="199.4" y="442.67" width="10.56" height="7.37" fill="#fff1f1"/>
<rect x="209.66" y="442.67" width="10.56" height="7.37" fill="#f1f1ff"/>
<rect x="219.92" y="442.67" width="5.43" height="7.37" fill="#b8b8ff"/>
<rect x="225.05" y="442.67" width="20.82" height="7.37" fill="#fff6f6"/>
<rect x="245.56" y="442.67" width="5.43" height="7.37" fill="#f6f6ff"/>
<rect x="250.69" y="442.67" width="5.43" height="7.37" fill="#ccccff"/>
<rect x="255.82" y="442.67" width="5.43" height="7.37" fill="#f6f6ff"/>
<rect x="260.95" y="442.67" width="5.43" height="7.37" fill="#ffdddd"/>
<rect x="266.08" y="442.67" width="20.82" height="7.37" fill="#fff6f6"/>
<rect x="199.4" y="449.74" width="5.43" height="7.37" fill="#ffc1c1"/>
<rect x="204.53" y="449.74" width="5.43" height="7.37" fill="#ffcccc"/>
<rect x="209.66" y="449.74" width="5.43" height="7.37" fill="#ffdddd"/>
<rect x="214.79" y="449.74" width="5.43" height="7.37" fill="#fff1f1"/>
<rect x="219.92" y="449.74" width="5.43" height="7.37" fill="#fff6f6"/>
<rect x="225.05" y="449.74" width="5.43" height="7.37" fill="#c6c6ff"/>
<rect x="230.18" y="449.74" width="5.43" height="7.37" fill="#c1c1ff"/>
<rect x="235.31" y="449.74" width="5.43" height="7.37" fill="#e3e3ff"/>
<rect x="240.44" y="449.74" width="5.43" height="7.37" fill="#c6c6ff"/>
<rect x="245.56" y="449.74" width="5.43" height="7.37" fill="#e8e8ff"/>
<rect x="250.69" y="449.74" width="5.43" height="7.37" fill="#ffcccc"/>
<rect x="255.82" y="449.74" width="5.43" height="7.37" fill="#f6f6ff"/>
<rect x="260.95" y="449.74" width="5.43" height="7.37" fill="#e8e8ff"/>
<rect x="266.08" y="449.74" width="5.43" height="7.37" fill="#f6f6ff"/>
<rect x="271.21" y="449.74" width="5.43" height="7.37" fill="#fff6f6"/>
<rect x="276.34" y="449.74" width="5.43" height="7.37" fill="#ffd4d4"/>
<rect x="281.47" y="449.74" width="5.43" height="7.37" fill="#ffc6c6"/>
<rect x="199.4" y="456.81" width="5.43" height="7.37" fill="#f1f1ff"/>
<rect x="204.53" y="456.81" width="5.43" height="7.37" fill="#ffdddd"/>
<rect x="209.66" y="456.81" width="5.43" height="7.37" fill="#c6c6ff"/>
<rect x="214.79" y="456.81" width="5.43" height="7.37" fill="#e8e8ff"/>
<rect x="219.92" y="456.81" width="5.43" height="7.37" fill="#ffd4d4"/>
<rect x="225.05" y="456.81" width="5.43" height="7.37" fill="#c1c1ff"/>
<rect x="230.18" y="456.81" width="15.69" height="7.37" fill="#e8e8ff"/>
<rect x="245.56" y="456.81" width="5.43" height="7.37" fill="#b8b8ff"/>
<rect x="250.69" y="456.81" width="5.43" height="7.37" fill="#f6f6ff"/>
<rect x="255.82" y="456.81" width="5.43" height="7.37" fill="#9393ff"/>
<rect x="260.95" y="456.81" width="5.43" height="7.37" fill="#e3e3ff"/>
<rect x="266.08" y="456.81" width="5.43" height="7.37" fill="#f6f6ff"/>
<rect x="271.21" y="456.81" width="5.43" height="7.37" fill="#e8e8ff"/>
<rect x="276.34" y="456.81" width="5.43" height="7.37" fill="#f6f6ff"/>
<rect x="281.47" y="456.81" width="5.43" height="7.37" fill="#ffaaaa"/>
<rect x="199.4" y="463.89" width="5.43" height="7.37" fill="#ff3939"/>
<rect x="204.53" y="463.89" width="5.43" height="7.37" fill="#ff5555"/>
<rect x="209.66" y="463.89" width="5.43" height="7.37" fill="#f6f6ff"/>
<rect x="214.79" y="463.89" width="5.43" height="7.37" fill="#c1c1ff"/>
<rect x="219.92" y="463.89" width="5.43" height="7.37" fill="#e8e8ff"/>
<rect x="225.05" y="463.89" width="5.43" height="7.37" fill="#e3e3ff"/>
<rect x="230.18" y="463.89" width="5.43" height="7.37" fill="#aaaaff"/>
<rect x="235.31" y="463.89" width="5.43" height="7.37" fill="#c6c6ff"/>
<rect x="240.44" y="463.89" width="10.56" height="7.37" fill="#f6f6ff"/>
<rect x="250.69" y="463.89" width="5.43" height="7.37" fill="#e8e8ff"/>
<rect x="255.82" y="463.89" width="5.43" height="7.37" fill="#f6f6ff"/>
<rect x="260.95" y="463.89" width="5.43" height="7.37" fill="#c6c6ff"/>
<rect x="266.08" y="463.89" width="5.43" height="7.37" fill="#fff6f6"/>
<rect x="271.21" y="463.89" width="10.56" height="7.37" fill="#e8e8ff"/>
<rect x="281.47" y="463.89" width="5.43" height="7.37" fill="#f6f6ff"/>
<rect x="199.4" y="470.96" width="5.43" height="7.37" fill="#ff3939"/>
<rect x="204.53" y="470.96" width="5.43" height="7.37" fill="#fff1f1"/>
<rect x="209.66" y="470.96" width="5.43" height="7.37" fill="#e3e3ff"/>
<rect x="214.79" y="470.96" width="5.43" height="7.37" fill="#ccccff"/>
<rect x="219.92" y="470.96" width="10.56" height="7.37" fill="#c6c6ff"/>
<rect x="230.18" y="470.96" width="5.43" height="7.37" fill="#ccccff"/>
<rect x="235.31" y="470.96" width="5.43" height="7.37" fill="#b0b0ff"/>
<rect x="240.44" y="470.96" width="5.43" height="7.37" fill="#e3e3ff"/>
<rect x="245.56" y="470.96" width="5.43" height="7.37" fill="#f6f6ff"/>
<rect x="250.69" y="470.96" width="5.43" height="7.37" fill="#9393ff"/>
<rect x="255.82" y="470.96" width="5.43" height="7.37" fill="#f6f6ff"/>
<rect x="260.95" y="470.96" width="15.69" height="7.37" fill="#e3e3ff"/>
<rect x="276.34" y="470.96" width="5.43" height="7.37" fill="#f6f6ff"/>
<rect x="281.47" y="470.96" width="5.43" height="7.37" fill="#5555ff"/>
<rect x="199.4" y="478.03" width="5.43" height="7.37" fill="#ff3939"/>
<rect x="204.53" y="478.03" width="5.43" height="7.37" fill="#6363ff"/>
<rect x="209.66" y="478.03" width="5.43" height="7.37" fill="#fff6f6"/>
<rect x="214.79" y="478.03" width="5.43" height="7.37" fill="#ffb0b0"/>
<rect x="219.92" y="478.03" width="5.43" height="7.37" fill="#fff6f6"/>
<rect x="225.05" y="478.03" width="5.43" height="7.37" fill="#e3e3ff"/>
<rect x="230.18" y="478.03" width="5.43" height="7.37" fill="#ccccff"/>
<rect x="235.31" y="478.03" width="10.56" height="7.37" fill="#e3e3ff"/>
<rect x="245.56" y="478.03" width="5.43" height="7.37" fill="#f6f6ff"/>
<rect x="250.69" y="478.03" width="5.43" height="7.37" fill="#e3e3ff"/>
<rect x="255.82" y="478.03" width="20.82" height="7.37" fill="#fff6f6"/>
<rect x="276.34" y="478.03" width="5.43" height="7.37" fill="#d4d4ff"/>
<rect x="281.47" y="478.03" width="5.43" height="7.37" fill="#8e8eff"/>
<rect x="199.4" y="485.1" width="5.43" height="7.37" fill="#ffb8b8"/>
<rect x="204.53" y="485.1" width="5.43" height="7.37" fill="#e8e8ff"/>
<rect x="209.66" y="485.1" width="5.43" height="7.37" fill="#fff6f6"/>
<rect x="214.79" y="485.1" width="5.43" height="7.37" fill="#ffb0b0"/>
<rect x="219.92" y="485.1" width="5.43" height="7.37" fill="#fff6f6"/>
<rect x="225.05" y="485.1" width="5.43" height="7.37" fill="#f6f6ff"/>
<rect x="230.18" y="485.1" width="10.56" height="7.37" fill="#e3e3ff"/>
<rect x="240.44" y="485.1" width="5.43" height="7.37" fill="#f6f6ff"/>
<rect x="245.56" y="485.1" width="5.43" height="7.37" fill="#fff6f6"/>
<rect x="250.69" y="485.1" width="31.08" height="7.37" fill="#f6f6ff"/>
<rect x="281.47" y="485.1" width="5.43" height="7.37" fill="#b8b8ff"/>
<rect x="199.4" y="492.18" width="5.43" height="7.37" fill="#ffc6c6"/>
<rect x="204.53" y="492.18" width="5.43" height="7.37" fill="#f6f6ff"/>
<rect x="209.66" y="492.18" width="5.43" height="7.37" fill="#fff6f6"/>
<rect x="214.79" y="492.18" width="5.43" height="7.37" fill="#e8e8ff"/>
<rect x="219.92" y="492.18" width="5.43" height="7.37" fill="#f1f1ff"/>
<rect x="225.05" y="492.18" width="5.43" height="7.37" fill="#e8e8ff"/>
<rect x="230.18" y="492.18" width="5.43" height="7.37" fill="#e3e3ff"/>
<rect x="235.31" y="492.18" width="5.43" height="7.37" fill="#e8e8ff"/>
<rect x="240.44" y="492.18" width="5.43" height="7.37" fill="#f1f1ff"/>
<rect x="245.56" y="492.18" width="36.21" height="7.37" fill="#f6f6ff"/>
<rect x="281.47" y="492.18" width="5.43" height="7.37" fill="#ffdddd"/>
</g>
<g fill="none" stroke="#000" stroke-opacity="0.55" stroke-width="0.95">
<ellipse cx="217.35" cy="424.99" rx="1.15" ry="1.95"/>
<ellipse cx="222.48" cy="424.99" rx="1.15" ry="1.95"/>
<ellipse cx="243" cy="424.99" rx="1.15" ry="1.95"/>
<ellipse cx="253.26" cy="424.99" rx="1.15" ry="1.95"/>
<ellipse cx="258.39" cy="424.99" rx="1.15" ry="1.95"/>
<ellipse cx="263.52" cy="424.99" rx="1.15" ry="1.95"/>
<ellipse cx="268.65" cy="424.99" rx="1.15" ry="1.95"/>
<ellipse cx="273.78" cy="424.99" rx="1.15" ry="1.95"/>
<ellipse cx="278.91" cy="424.99" rx="1.15" ry="1.95"/>
<ellipse cx="217.35" cy="432.06" rx="1.15" ry="1.95"/>
<ellipse cx="237.87" cy="432.06" rx="1.15" ry="1.95"/>
<ellipse cx="248.13" cy="432.06" rx="1.15" ry="1.95"/>
<ellipse cx="253.26" cy="432.06" rx="1.15" ry="1.95"/>
<ellipse cx="263.52" cy="432.06" rx="1.15" ry="1.95"/>
<ellipse cx="278.91" cy="432.06" rx="1.15" ry="1.95"/>
<ellipse cx="284.04" cy="432.06" rx="1.15" ry="1.95"/>
<ellipse cx="201.96" cy="439.13" rx="1.15" ry="1.95"/>
<ellipse cx="207.09" cy="439.13" rx="1.15" ry="1.95"/>
<ellipse cx="212.22" cy="439.13" rx="1.15" ry="1.95"/>
<ellipse cx="217.35" cy="439.13" rx="1.15" ry="1.95"/>
<ellipse cx="227.61" cy="439.13" rx="1.15" ry="1.95"/>
<ellipse cx="232.74" cy="439.13" rx="1.15" ry="1.95"/>
<ellipse cx="237.87" cy="439.13" rx="1.15" ry="1.95"/>
<ellipse cx="243" cy="439.13" rx="1.15" ry="1.95"/>
<ellipse cx="248.13" cy="439.13" rx="1.15" ry="1.95"/>
<ellipse cx="253.26" cy="439.13" rx="1.15" ry="1.95"/>
<ellipse cx="263.52" cy="439.13" rx="1.15" ry="1.95"/>
<ellipse cx="268.65" cy="439.13" rx="1.15" ry="1.95"/>
<ellipse cx="273.78" cy="439.13" rx="1.15" ry="1.95"/>
<ellipse cx="201.96" cy="446.2" rx="1.15" ry="1.95"/>
<ellipse cx="207.09" cy="446.2" rx="1.15" ry="1.95"/>
<ellipse cx="222.48" cy="446.2" rx="1.15" ry="1.95"/>
<ellipse cx="248.13" cy="446.2" rx="1.15" ry="1.95"/>
<ellipse cx="263.52" cy="446.2" rx="1.15" ry="1.95"/>
<ellipse cx="268.65" cy="446.2" rx="1.15" ry="1.95"/>
<ellipse cx="278.91" cy="446.2" rx="1.15" ry="1.95"/>
<ellipse cx="201.96" cy="453.28" rx="1.15" ry="1.95"/>
<ellipse cx="207.09" cy="453.28" rx="1.15" ry="1.95"/>
<ellipse cx="227.61" cy="453.28" rx="1.15" ry="1.95"/>
<ellipse cx="232.74" cy="453.28" rx="1.15" ry="1.95"/>
<ellipse cx="237.87" cy="453.28" rx="1.15" ry="1.95"/>
<ellipse cx="243" cy="453.28" rx="1.15" ry="1.95"/>
<ellipse cx="248.13" cy="453.28" rx="1.15" ry="1.95"/>
<ellipse cx="268.65" cy="453.28" rx="1.15" ry="1.95"/>
<ellipse cx="278.91" cy="453.28" rx="1.15" ry="1.95"/>
<ellipse cx="284.04" cy="453.28" rx="1.15" ry="1.95"/>
<ellipse cx="212.22" cy="460.35" rx="1.15" ry="1.95"/>
<ellipse cx="227.61" cy="460.35" rx="1.15" ry="1.95"/>
<ellipse cx="232.74" cy="460.35" rx="1.15" ry="1.95"/>
<ellipse cx="237.87" cy="460.35" rx="1.15" ry="1.95"/>
<ellipse cx="243" cy="460.35" rx="1.15" ry="1.95"/>
<ellipse cx="248.13" cy="460.35" rx="1.15" ry="1.95"/>
<ellipse cx="258.39" cy="460.35" rx="1.15" ry="1.95"/>
<ellipse cx="263.52" cy="460.35" rx="1.15" ry="1.95"/>
<ellipse cx="284.04" cy="460.35" rx="1.15" ry="1.95"/>
<ellipse cx="201.96" cy="467.42" rx="1.15" ry="1.95"/>
<ellipse cx="207.09" cy="467.42" rx="1.15" ry="1.95"/>
<ellipse cx="217.35" cy="467.42" rx="1.15" ry="1.95"/>
<ellipse cx="222.48" cy="467.42" rx="1.15" ry="1.95"/>
<ellipse cx="227.61" cy="467.42" rx="1.15" ry="1.95"/>
<ellipse cx="232.74" cy="467.42" rx="1.15" ry="1.95"/>
<ellipse cx="237.87" cy="467.42" rx="1.15" ry="1.95"/>
<ellipse cx="243" cy="467.42" rx="1.15" ry="1.95"/>
<ellipse cx="248.13" cy="467.42" rx="1.15" ry="1.95"/>
<ellipse cx="253.26" cy="467.42" rx="1.15" ry="1.95"/>
<ellipse cx="263.52" cy="467.42" rx="1.15" ry="1.95"/>
<ellipse cx="201.96" cy="474.5" rx="1.15" ry="1.95"/>
<ellipse cx="212.22" cy="474.5" rx="1.15" ry="1.95"/>
<ellipse cx="217.35" cy="474.5" rx="1.15" ry="1.95"/>
<ellipse cx="222.48" cy="474.5" rx="1.15" ry="1.95"/>
<ellipse cx="227.61" cy="474.5" rx="1.15" ry="1.95"/>
<ellipse cx="232.74" cy="474.5" rx="1.15" ry="1.95"/>
<ellipse cx="237.87" cy="474.5" rx="1.15" ry="1.95"/>
<ellipse cx="243" cy="474.5" rx="1.15" ry="1.95"/>
<ellipse cx="253.26" cy="474.5" rx="1.15" ry="1.95"/>
<ellipse cx="258.39" cy="474.5" rx="1.15" ry="1.95"/>
<ellipse cx="284.04" cy="474.5" rx="1.15" ry="1.95"/>
<ellipse cx="201.96" cy="481.57" rx="1.15" ry="1.95"/>
<ellipse cx="207.09" cy="481.57" rx="1.15" ry="1.95"/>
<ellipse cx="217.35" cy="481.57" rx="1.15" ry="1.95"/>
<ellipse cx="227.61" cy="481.57" rx="1.15" ry="1.95"/>
<ellipse cx="232.74" cy="481.57" rx="1.15" ry="1.95"/>
<ellipse cx="237.87" cy="481.57" rx="1.15" ry="1.95"/>
<ellipse cx="243" cy="481.57" rx="1.15" ry="1.95"/>
<ellipse cx="253.26" cy="481.57" rx="1.15" ry="1.95"/>
<ellipse cx="284.04" cy="481.57" rx="1.15" ry="1.95"/>
<ellipse cx="201.96" cy="488.64" rx="1.15" ry="1.95"/>
<ellipse cx="217.35" cy="488.64" rx="1.15" ry="1.95"/>
<ellipse cx="232.74" cy="488.64" rx="1.15" ry="1.95"/>
<ellipse cx="237.87" cy="488.64" rx="1.15" ry="1.95"/>
<ellipse cx="248.13" cy="488.64" rx="1.15" ry="1.95"/>
<ellipse cx="258.39" cy="488.64" rx="1.15" ry="1.95"/>
<ellipse cx="263.52" cy="488.64" rx="1.15" ry="1.95"/>
<ellipse cx="284.04" cy="488.64" rx="1.15" ry="1.95"/>
<ellipse cx="201.96" cy="495.71" rx="1.15" ry="1.95"/>
<ellipse cx="217.35" cy="495.71" rx="1.15" ry="1.95"/>
<ellipse cx="227.61" cy="495.71" rx="1.15" ry="1.95"/>
<ellipse cx="232.74" cy="495.71" rx="1.15" ry="1.95"/>
<ellipse cx="237.87" cy="495.71" rx="1.15" ry="1.95"/>
<ellipse cx="243" cy="495.71" rx="1.15" ry="1.95"/>
<ellipse cx="253.26" cy="495.71" rx="1.15" ry="1.95"/>
<ellipse cx="273.78" cy="495.71" rx="1.15" ry="1.95"/>
</g>
</g>
<rect x="199.4" y="420.85" width="87.2" height="77.8" fill="none" stroke="#000" stroke-width="1.1"/>
<line x1="194.8" y1="496.95" x2="199.4" y2="496.95" stroke="#000" stroke-width="1"/>
<text x="190.5" y="498.65" font-size="4.4" text-anchor="end" textLength="2.8" lengthAdjust="spacingAndGlyphs" class="sm">0</text>
<line x1="194.8" y1="484.07" x2="199.4" y2="484.07" stroke="#000" stroke-width="1"/>
<text x="190.5" y="485.77" font-size="4.4" text-anchor="end" textLength="5.6" lengthAdjust="spacingAndGlyphs" class="sm">10</text>
<line x1="194.8" y1="471.19" x2="199.4" y2="471.19" stroke="#000" stroke-width="1"/>
<text x="190.5" y="472.89" font-size="4.4" text-anchor="end" textLength="5.6" lengthAdjust="spacingAndGlyphs" class="sm">20</text>
<line x1="194.8" y1="458.31" x2="199.4" y2="458.31" stroke="#000" stroke-width="1"/>
<text x="190.5" y="460.01" font-size="4.4" text-anchor="end" textLength="5.6" lengthAdjust="spacingAndGlyphs" class="sm">30</text>
<line x1="194.8" y1="445.43" x2="199.4" y2="445.43" stroke="#000" stroke-width="1"/>
<text x="190.5" y="447.13" font-size="4.4" text-anchor="end" textLength="5.6" lengthAdjust="spacingAndGlyphs" class="sm">40</text>
<line x1="194.8" y1="432.55" x2="199.4" y2="432.55" stroke="#000" stroke-width="1"/>
<text x="190.5" y="434.25" font-size="4.4" text-anchor="end" textLength="5.6" lengthAdjust="spacingAndGlyphs" class="sm">50</text>
<line x1="219.7" y1="498.65" x2="219.7" y2="503.25" stroke="#000" stroke-width="1"/>
<text x="219.7" y="511.75" font-size="4.4" text-anchor="middle" textLength="9.29" lengthAdjust="spacingAndGlyphs" class="sm">−50</text>
<line x1="243" y1="498.65" x2="243" y2="503.25" stroke="#000" stroke-width="1"/>
<text x="243" y="511.75" font-size="4.4" text-anchor="middle" textLength="2.8" lengthAdjust="spacingAndGlyphs" class="sm">0</text>
<line x1="266.3" y1="498.65" x2="266.3" y2="503.25" stroke="#000" stroke-width="1"/>
<text x="266.3" y="511.75" font-size="4.4" text-anchor="middle" textLength="5.6" lengthAdjust="spacingAndGlyphs" class="sm">50</text>
<text x="243" y="522.85" font-size="7" text-anchor="middle" textLength="35.2" lengthAdjust="spacingAndGlyphs" class="lg">latitude (°)</text>
<text transform="translate(178.9,459.75) rotate(-90)" font-size="7" class="lg" text-anchor="middle" textLength="38.2" lengthAdjust="spacingAndGlyphs">model level</text>
<text x="243" y="404.79" font-size="7.8" text-anchor="middle" textLength="54.87" lengthAdjust="spacingAndGlyphs" class="lg">(k) AllSky-L600</text>
<text x="243" y="412.95" font-size="7.7" text-anchor="middle" textLength="10.2" lengthAdjust="spacingAndGlyphs" class="lg">Qv</text>
<rect x="292.4" y="420.85" width="3.8" height="77.8" fill="url(#gdiv)"/>
<rect x="292.4" y="420.85" width="3.8" height="77.8" fill="none" stroke="#000" stroke-width="1"/>
<line x1="296.2" y1="495.87" x2="298.7" y2="495.87" stroke="#000" stroke-width="0.9"/>
<line x1="296.2" y1="492.86" x2="298.7" y2="492.86" stroke="#000" stroke-width="0.9"/>
<line x1="296.2" y1="489.85" x2="298.7" y2="489.85" stroke="#000" stroke-width="0.9"/>
<line x1="296.2" y1="486.84" x2="298.7" y2="486.84" stroke="#000" stroke-width="0.9"/>
<line x1="296.2" y1="483.83" x2="298.7" y2="483.83" stroke="#000" stroke-width="0.9"/>
<line x1="296.2" y1="480.82" x2="298.7" y2="480.82" stroke="#000" stroke-width="0.9"/>
<line x1="296.2" y1="477.81" x2="298.7" y2="477.81" stroke="#000" stroke-width="0.9"/>
<line x1="296.2" y1="474.8" x2="298.7" y2="474.8" stroke="#000" stroke-width="0.9"/>
<line x1="296.2" y1="471.79" x2="298.7" y2="471.79" stroke="#000" stroke-width="0.9"/>
<line x1="296.2" y1="468.78" x2="298.7" y2="468.78" stroke="#000" stroke-width="0.9"/>
<line x1="296.2" y1="465.77" x2="298.7" y2="465.77" stroke="#000" stroke-width="0.9"/>
<line x1="296.2" y1="462.76" x2="298.7" y2="462.76" stroke="#000" stroke-width="0.9"/>
<line x1="296.2" y1="459.75" x2="298.7" y2="459.75" stroke="#000" stroke-width="0.9"/>
<line x1="296.2" y1="456.74" x2="298.7" y2="456.74" stroke="#000" stroke-width="0.9"/>
<line x1="296.2" y1="453.73" x2="298.7" y2="453.73" stroke="#000" stroke-width="0.9"/>
<line x1="296.2" y1="450.72" x2="298.7" y2="450.72" stroke="#000" stroke-width="0.9"/>
<line x1="296.2" y1="447.71" x2="298.7" y2="447.71" stroke="#000" stroke-width="0.9"/>
<line x1="296.2" y1="444.7" x2="298.7" y2="444.7" stroke="#000" stroke-width="0.9"/>
<line x1="296.2" y1="441.69" x2="298.7" y2="441.69" stroke="#000" stroke-width="0.9"/>
<line x1="296.2" y1="438.68" x2="298.7" y2="438.68" stroke="#000" stroke-width="0.9"/>
<line x1="296.2" y1="435.67" x2="298.7" y2="435.67" stroke="#000" stroke-width="0.9"/>
<line x1="296.2" y1="432.66" x2="298.7" y2="432.66" stroke="#000" stroke-width="0.9"/>
<line x1="296.2" y1="429.65" x2="298.7" y2="429.65" stroke="#000" stroke-width="0.9"/>
<line x1="296.2" y1="426.64" x2="298.7" y2="426.64" stroke="#000" stroke-width="0.9"/>
<line x1="296.2" y1="423.63" x2="298.7" y2="423.63" stroke="#000" stroke-width="0.9"/>
<line x1="296.2" y1="495.87" x2="300.8" y2="495.87" stroke="#000" stroke-width="1"/>
<text x="305.1" y="497.47" font-size="4.3" textLength="10.44" lengthAdjust="spacingAndGlyphs" class="sm">−4.8</text>
<line x1="296.2" y1="486.84" x2="300.8" y2="486.84" stroke="#000" stroke-width="1"/>
<text x="305.1" y="488.44" font-size="4.3" textLength="10.44" lengthAdjust="spacingAndGlyphs" class="sm">−3.6</text>
<line x1="296.2" y1="477.81" x2="300.8" y2="477.81" stroke="#000" stroke-width="1"/>
<text x="305.1" y="479.41" font-size="4.3" textLength="10.44" lengthAdjust="spacingAndGlyphs" class="sm">−2.4</text>
<line x1="296.2" y1="468.78" x2="300.8" y2="468.78" stroke="#000" stroke-width="1"/>
<text x="305.1" y="470.38" font-size="4.3" textLength="10.44" lengthAdjust="spacingAndGlyphs" class="sm">−1.2</text>
<line x1="296.2" y1="459.75" x2="300.8" y2="459.75" stroke="#000" stroke-width="1"/>
<text x="305.1" y="461.35" font-size="4.3" textLength="6.84" lengthAdjust="spacingAndGlyphs" class="sm">0.0</text>
<line x1="296.2" y1="450.72" x2="300.8" y2="450.72" stroke="#000" stroke-width="1"/>
<text x="305.1" y="452.32" font-size="4.3" textLength="6.84" lengthAdjust="spacingAndGlyphs" class="sm">1.2</text>
<line x1="296.2" y1="441.69" x2="300.8" y2="441.69" stroke="#000" stroke-width="1"/>
<text x="305.1" y="443.29" font-size="4.3" textLength="6.84" lengthAdjust="spacingAndGlyphs" class="sm">2.4</text>
<line x1="296.2" y1="432.66" x2="300.8" y2="432.66" stroke="#000" stroke-width="1"/>
<text x="305.1" y="434.26" font-size="4.3" textLength="6.84" lengthAdjust="spacingAndGlyphs" class="sm">3.6</text>
<line x1="296.2" y1="423.63" x2="300.8" y2="423.63" stroke="#000" stroke-width="1"/>
<text x="305.1" y="425.23" font-size="4.3" textLength="6.84" lengthAdjust="spacingAndGlyphs" class="sm">4.8</text>
<text transform="translate(326.3,459.75) rotate(-90)" font-size="6.9" class="lg" text-anchor="middle" textLength="93" lengthAdjust="spacingAndGlyphs">rms: % diff. from AllSky-L1200</text>
<clipPath id="cp11"><rect x="368.4" y="420.85" width="87.7" height="77.8"/></clipPath>
<g clip-path="url(#cp11)">
<g shape-rendering="crispEdges">
<rect x="368.4" y="420.45" width="10.62" height="8.37" fill="#fff1f1"/>
<rect x="378.72" y="420.45" width="5.46" height="8.37" fill="#fff6f6"/>
<rect x="383.88" y="420.45" width="5.46" height="8.37" fill="#c2c2ff"/>
<rect x="389.04" y="420.45" width="5.46" height="8.37" fill="#f6f6ff"/>
<rect x="394.19" y="420.45" width="10.62" height="8.37" fill="#fff6f6"/>
<rect x="404.51" y="420.45" width="5.46" height="8.37" fill="#f6f6ff"/>
<rect x="409.67" y="420.45" width="5.46" height="8.37" fill="#fff6f6"/>
<rect x="414.83" y="420.45" width="5.46" height="8.37" fill="#f6f6ff"/>
<rect x="419.99" y="420.45" width="5.46" height="8.37" fill="#fff6f6"/>
<rect x="425.15" y="420.45" width="5.46" height="8.37" fill="#fff1f1"/>
<rect x="430.31" y="420.45" width="5.46" height="8.37" fill="#f6f6ff"/>
<rect x="435.46" y="420.45" width="15.78" height="8.37" fill="#fff6f6"/>
<rect x="450.94" y="420.45" width="5.46" height="8.37" fill="#f6f6ff"/>
<rect x="368.4" y="428.52" width="5.46" height="7.37" fill="#f6f6ff"/>
<rect x="373.56" y="428.52" width="10.62" height="7.37" fill="#fff6f6"/>
<rect x="383.88" y="428.52" width="5.46" height="7.37" fill="#f6f6ff"/>
<rect x="389.04" y="428.52" width="20.94" height="7.37" fill="#fff6f6"/>
<rect x="409.67" y="428.52" width="5.46" height="7.37" fill="#ffffff"/>
<rect x="414.83" y="428.52" width="5.46" height="7.37" fill="#ddddff"/>
<rect x="419.99" y="428.52" width="5.46" height="7.37" fill="#f6f6ff"/>
<rect x="425.15" y="428.52" width="20.94" height="7.37" fill="#fff6f6"/>
<rect x="445.78" y="428.52" width="10.62" height="7.37" fill="#f6f6ff"/>
<rect x="368.4" y="435.6" width="5.46" height="7.37" fill="#ffe8e8"/>
<rect x="373.56" y="435.6" width="15.78" height="7.37" fill="#f6f6ff"/>
<rect x="389.04" y="435.6" width="5.46" height="7.37" fill="#e8e8ff"/>
<rect x="394.19" y="435.6" width="15.78" height="7.37" fill="#f6f6ff"/>
<rect x="409.67" y="435.6" width="5.46" height="7.37" fill="#ddddff"/>
<rect x="414.83" y="435.6" width="41.57" height="7.37" fill="#f6f6ff"/>
<rect x="368.4" y="442.67" width="5.46" height="7.37" fill="#f6f6ff"/>
<rect x="373.56" y="442.67" width="10.62" height="7.37" fill="#fff6f6"/>
<rect x="383.88" y="442.67" width="5.46" height="7.37" fill="#f6f6ff"/>
<rect x="389.04" y="442.67" width="5.46" height="7.37" fill="#bbbbff"/>
<rect x="394.19" y="442.67" width="5.46" height="7.37" fill="#ddddff"/>
<rect x="399.35" y="442.67" width="10.62" height="7.37" fill="#f6f6ff"/>
<rect x="409.67" y="442.67" width="5.46" height="7.37" fill="#b1b1ff"/>
<rect x="414.83" y="442.67" width="5.46" height="7.37" fill="#f6f6ff"/>
<rect x="419.99" y="442.67" width="5.46" height="7.37" fill="#e8e8ff"/>
<rect x="425.15" y="442.67" width="10.62" height="7.37" fill="#f6f6ff"/>
<rect x="435.46" y="442.67" width="5.46" height="7.37" fill="#fff6f6"/>
<rect x="440.62" y="442.67" width="15.78" height="7.37" fill="#f6f6ff"/>
<rect x="368.4" y="449.74" width="5.46" height="7.37" fill="#ffbbbb"/>
<rect x="373.56" y="449.74" width="5.46" height="7.37" fill="#ffdddd"/>
<rect x="378.72" y="449.74" width="5.46" height="7.37" fill="#bbbbff"/>
<rect x="383.88" y="449.74" width="5.46" height="7.37" fill="#ddddff"/>
<rect x="389.04" y="449.74" width="5.46" height="7.37" fill="#fff6f6"/>
<rect x="394.19" y="449.74" width="5.46" height="7.37" fill="#b4b4ff"/>
<rect x="399.35" y="449.74" width="5.46" height="7.37" fill="#9999ff"/>
<rect x="404.51" y="449.74" width="5.46" height="7.37" fill="#fff6f6"/>
<rect x="409.67" y="449.74" width="5.46" height="7.37" fill="#bebeff"/>
<rect x="414.83" y="449.74" width="5.46" height="7.37" fill="#bbbbff"/>
<rect x="419.99" y="449.74" width="5.46" height="7.37" fill="#ffa0a0"/>
<rect x="425.15" y="449.74" width="10.62" height="7.37" fill="#ddddff"/>
<rect x="435.46" y="449.74" width="5.46" height="7.37" fill="#b4b4ff"/>
<rect x="440.62" y="449.74" width="5.46" height="7.37" fill="#3333ff"/>
<rect x="445.78" y="449.74" width="5.46" height="7.37" fill="#bbbbff"/>
<rect x="450.94" y="449.74" width="5.46" height="7.37" fill="#ffaaaa"/>
<rect x="368.4" y="456.81" width="5.46" height="7.37" fill="#ffbbbb"/>
<rect x="373.56" y="456.81" width="5.46" height="7.37" fill="#fff6f6"/>
<rect x="378.72" y="456.81" width="5.46" height="7.37" fill="#bbbbff"/>
<rect x="383.88" y="456.81" width="5.46" height="7.37" fill="#e8e8ff"/>
<rect x="389.04" y="456.81" width="5.46" height="7.37" fill="#fff6f6"/>
<rect x="394.19" y="456.81" width="5.46" height="7.37" fill="#ddddff"/>
<rect x="399.35" y="456.81" width="5.46" height="7.37" fill="#c2c2ff"/>
<rect x="404.51" y="456.81" width="5.46" height="7.37" fill="#e8e8ff"/>
<rect x="409.67" y="456.81" width="5.46" height="7.37" fill="#ffffff"/>
<rect x="414.83" y="456.81" width="5.46" height="7.37" fill="#b4b4ff"/>
<rect x="419.99" y="456.81" width="5.46" height="7.37" fill="#f6f6ff"/>
<rect x="425.15" y="456.81" width="5.46" height="7.37" fill="#bbbbff"/>
<rect x="430.31" y="456.81" width="5.46" height="7.37" fill="#ddddff"/>
<rect x="435.46" y="456.81" width="5.46" height="7.37" fill="#f6f6ff"/>
<rect x="440.62" y="456.81" width="5.46" height="7.37" fill="#ddddff"/>
<rect x="445.78" y="456.81" width="5.46" height="7.37" fill="#ffdddd"/>
<rect x="450.94" y="456.81" width="5.46" height="7.37" fill="#ff5555"/>
<rect x="368.4" y="463.89" width="5.46" height="7.37" fill="#ff5555"/>
<rect x="373.56" y="463.89" width="5.46" height="7.37" fill="#ffc2c2"/>
<rect x="378.72" y="463.89" width="5.46" height="7.37" fill="#ddddff"/>
<rect x="383.88" y="463.89" width="5.46" height="7.37" fill="#7e7eff"/>
<rect x="389.04" y="463.89" width="5.46" height="7.37" fill="#e8e8ff"/>
<rect x="394.19" y="463.89" width="5.46" height="7.37" fill="#ddddff"/>
<rect x="399.35" y="463.89" width="5.46" height="7.37" fill="#c2c2ff"/>
<rect x="404.51" y="463.89" width="5.46" height="7.37" fill="#ddddff"/>
<rect x="409.67" y="463.89" width="5.46" height="7.37" fill="#ffd6d6"/>
<rect x="414.83" y="463.89" width="5.46" height="7.37" fill="#fff6f6"/>
<rect x="419.99" y="463.89" width="5.46" height="7.37" fill="#bbbbff"/>
<rect x="425.15" y="463.89" width="10.62" height="7.37" fill="#ddddff"/>
<rect x="435.46" y="463.89" width="5.46" height="7.37" fill="#fff6f6"/>
<rect x="440.62" y="463.89" width="5.46" height="7.37" fill="#b4b4ff"/>
<rect x="445.78" y="463.89" width="5.46" height="7.37" fill="#fff6f6"/>
<rect x="450.94" y="463.89" width="5.46" height="7.37" fill="#ffaaaa"/>
<rect x="368.4" y="470.96" width="5.46" height="7.37" fill="#ffaaaa"/>
<rect x="373.56" y="470.96" width="5.46" height="7.37" fill="#ffdddd"/>
<rect x="378.72" y="470.96" width="5.46" height="7.37" fill="#ddddff"/>
<rect x="383.88" y="470.96" width="5.46" height="7.37" fill="#7777ff"/>
<rect x="389.04" y="470.96" width="5.46" height="7.37" fill="#6666ff"/>
<rect x="394.19" y="470.96" width="5.46" height="7.37" fill="#7e7eff"/>
<rect x="399.35" y="470.96" width="5.46" height="7.37" fill="#bbbbff"/>
<rect x="404.51" y="470.96" width="5.46" height="7.37" fill="#ddddff"/>
<rect x="409.67" y="470.96" width="5.46" height="7.37" fill="#ffdddd"/>
<rect x="414.83" y="470.96" width="5.46" height="7.37" fill="#ff6666"/>
<rect x="419.99" y="470.96" width="5.46" height="7.37" fill="#ddddff"/>
<rect x="425.15" y="470.96" width="10.62" height="7.37" fill="#f6f6ff"/>
<rect x="435.46" y="470.96" width="5.46" height="7.37" fill="#bbbbff"/>
<rect x="440.62" y="470.96" width="5.46" height="7.37" fill="#c2c2ff"/>
<rect x="445.78" y="470.96" width="5.46" height="7.37" fill="#e8e8ff"/>
<rect x="450.94" y="470.96" width="5.46" height="7.37" fill="#f6f6ff"/>
<rect x="368.4" y="478.03" width="5.46" height="7.37" fill="#ff3333"/>
<rect x="373.56" y="478.03" width="5.46" height="7.37" fill="#a0a0ff"/>
<rect x="378.72" y="478.03" width="5.46" height="7.37" fill="#8888ff"/>
<rect x="383.88" y="478.03" width="5.46" height="7.37" fill="#ffdddd"/>
<rect x="389.04" y="478.03" width="5.46" height="7.37" fill="#fff6f6"/>
<rect x="394.19" y="478.03" width="5.46" height="7.37" fill="#ddddff"/>
<rect x="399.35" y="478.03" width="5.46" height="7.37" fill="#ccccff"/>
<rect x="404.51" y="478.03" width="5.46" height="7.37" fill="#ffcccc"/>
<rect x="409.67" y="478.03" width="5.46" height="7.37" fill="#fff6f6"/>
<rect x="414.83" y="478.03" width="5.46" height="7.37" fill="#ff9999"/>
<rect x="419.99" y="478.03" width="10.62" height="7.37" fill="#ffdddd"/>
<rect x="430.31" y="478.03" width="5.46" height="7.37" fill="#ddddff"/>
<rect x="435.46" y="478.03" width="5.46" height="7.37" fill="#ccccff"/>
<rect x="440.62" y="478.03" width="5.46" height="7.37" fill="#ffdddd"/>
<rect x="445.78" y="478.03" width="10.62" height="7.37" fill="#f6f6ff"/>
<rect x="368.4" y="485.1" width="5.46" height="7.37" fill="#fff6f6"/>
<rect x="373.56" y="485.1" width="5.46" height="7.37" fill="#bbbbff"/>
<rect x="378.72" y="485.1" width="5.46" height="7.37" fill="#aaaaff"/>
<rect x="383.88" y="485.1" width="5.46" height="7.37" fill="#fff6f6"/>
<rect x="389.04" y="485.1" width="5.46" height="7.37" fill="#f6f6ff"/>
<rect x="394.19" y="485.1" width="5.46" height="7.37" fill="#e8e8ff"/>
<rect x="399.35" y="485.1" width="10.62" height="7.37" fill="#f6f6ff"/>
<rect x="409.67" y="485.1" width="5.46" height="7.37" fill="#fff6f6"/>
<rect x="414.83" y="485.1" width="10.62" height="7.37" fill="#f6f6ff"/>
<rect x="425.15" y="485.1" width="5.46" height="7.37" fill="#ccccff"/>
<rect x="430.31" y="485.1" width="5.46" height="7.37" fill="#aaaaff"/>
<rect x="435.46" y="485.1" width="20.94" height="7.37" fill="#f6f6ff"/>
<rect x="368.4" y="492.18" width="5.46" height="7.37" fill="#ffdddd"/>
<rect x="373.56" y="492.18" width="5.46" height="7.37" fill="#f6f6ff"/>
<rect x="378.72" y="492.18" width="5.46" height="7.37" fill="#e8e8ff"/>
<rect x="383.88" y="492.18" width="5.46" height="7.37" fill="#2a2aff"/>
<rect x="389.04" y="492.18" width="5.46" height="7.37" fill="#b4b4ff"/>
<rect x="394.19" y="492.18" width="5.46" height="7.37" fill="#c2c2ff"/>
<rect x="399.35" y="492.18" width="5.46" height="7.37" fill="#ddddff"/>
<rect x="404.51" y="492.18" width="5.46" height="7.37" fill="#f6f6ff"/>
<rect x="409.67" y="492.18" width="5.46" height="7.37" fill="#fff6f6"/>
<rect x="414.83" y="492.18" width="5.46" height="7.37" fill="#f6f6ff"/>
<rect x="419.99" y="492.18" width="5.46" height="7.37" fill="#bbbbff"/>
<rect x="425.15" y="492.18" width="5.46" height="7.37" fill="#ddddff"/>
<rect x="430.31" y="492.18" width="20.94" height="7.37" fill="#f6f6ff"/>
<rect x="450.94" y="492.18" width="5.46" height="7.37" fill="#c2c2ff"/>
</g>
<g fill="none" stroke="#000" stroke-opacity="0.55" stroke-width="0.95">
<ellipse cx="381.3" cy="424.99" rx="1.15" ry="1.95"/>
<ellipse cx="386.46" cy="424.99" rx="1.15" ry="1.95"/>
<ellipse cx="391.61" cy="424.99" rx="1.15" ry="1.95"/>
<ellipse cx="401.93" cy="424.99" rx="1.15" ry="1.95"/>
<ellipse cx="412.25" cy="424.99" rx="1.15" ry="1.95"/>
<ellipse cx="422.57" cy="424.99" rx="1.15" ry="1.95"/>
<ellipse cx="438.04" cy="424.99" rx="1.15" ry="1.95"/>
<ellipse cx="443.2" cy="424.99" rx="1.15" ry="1.95"/>
<ellipse cx="448.36" cy="424.99" rx="1.15" ry="1.95"/>
<ellipse cx="370.98" cy="432.06" rx="1.15" ry="1.95"/>
<ellipse cx="381.3" cy="432.06" rx="1.15" ry="1.95"/>
<ellipse cx="391.61" cy="432.06" rx="1.15" ry="1.95"/>
<ellipse cx="396.77" cy="432.06" rx="1.15" ry="1.95"/>
<ellipse cx="401.93" cy="432.06" rx="1.15" ry="1.95"/>
<ellipse cx="407.09" cy="432.06" rx="1.15" ry="1.95"/>
<ellipse cx="417.41" cy="432.06" rx="1.15" ry="1.95"/>
<ellipse cx="427.73" cy="432.06" rx="1.15" ry="1.95"/>
<ellipse cx="432.89" cy="432.06" rx="1.15" ry="1.95"/>
<ellipse cx="448.36" cy="432.06" rx="1.15" ry="1.95"/>
<ellipse cx="453.52" cy="432.06" rx="1.15" ry="1.95"/>
<ellipse cx="370.98" cy="439.13" rx="1.15" ry="1.95"/>
<ellipse cx="386.46" cy="439.13" rx="1.15" ry="1.95"/>
<ellipse cx="401.93" cy="439.13" rx="1.15" ry="1.95"/>
<ellipse cx="407.09" cy="439.13" rx="1.15" ry="1.95"/>
<ellipse cx="412.25" cy="439.13" rx="1.15" ry="1.95"/>
<ellipse cx="432.89" cy="439.13" rx="1.15" ry="1.95"/>
<ellipse cx="438.04" cy="439.13" rx="1.15" ry="1.95"/>
<ellipse cx="443.2" cy="439.13" rx="1.15" ry="1.95"/>
<ellipse cx="448.36" cy="439.13" rx="1.15" ry="1.95"/>
<ellipse cx="453.52" cy="439.13" rx="1.15" ry="1.95"/>
<ellipse cx="370.98" cy="446.2" rx="1.15" ry="1.95"/>
<ellipse cx="376.14" cy="446.2" rx="1.15" ry="1.95"/>
<ellipse cx="391.61" cy="446.2" rx="1.15" ry="1.95"/>
<ellipse cx="396.77" cy="446.2" rx="1.15" ry="1.95"/>
<ellipse cx="407.09" cy="446.2" rx="1.15" ry="1.95"/>
<ellipse cx="412.25" cy="446.2" rx="1.15" ry="1.95"/>
<ellipse cx="422.57" cy="446.2" rx="1.15" ry="1.95"/>
<ellipse cx="427.73" cy="446.2" rx="1.15" ry="1.95"/>
<ellipse cx="448.36" cy="446.2" rx="1.15" ry="1.95"/>
<ellipse cx="453.52" cy="446.2" rx="1.15" ry="1.95"/>
<ellipse cx="370.98" cy="453.28" rx="1.15" ry="1.95"/>
<ellipse cx="386.46" cy="453.28" rx="1.15" ry="1.95"/>
<ellipse cx="396.77" cy="453.28" rx="1.15" ry="1.95"/>
<ellipse cx="401.93" cy="453.28" rx="1.15" ry="1.95"/>
<ellipse cx="412.25" cy="453.28" rx="1.15" ry="1.95"/>
<ellipse cx="417.41" cy="453.28" rx="1.15" ry="1.95"/>
<ellipse cx="422.57" cy="453.28" rx="1.15" ry="1.95"/>
<ellipse cx="438.04" cy="453.28" rx="1.15" ry="1.95"/>
<ellipse cx="443.2" cy="453.28" rx="1.15" ry="1.95"/>
<ellipse cx="448.36" cy="453.28" rx="1.15" ry="1.95"/>
<ellipse cx="453.52" cy="453.28" rx="1.15" ry="1.95"/>
<ellipse cx="381.3" cy="460.35" rx="1.15" ry="1.95"/>
<ellipse cx="396.77" cy="460.35" rx="1.15" ry="1.95"/>
<ellipse cx="401.93" cy="460.35" rx="1.15" ry="1.95"/>
<ellipse cx="407.09" cy="460.35" rx="1.15" ry="1.95"/>
<ellipse cx="417.41" cy="460.35" rx="1.15" ry="1.95"/>
<ellipse cx="427.73" cy="460.35" rx="1.15" ry="1.95"/>
<ellipse cx="443.2" cy="460.35" rx="1.15" ry="1.95"/>
<ellipse cx="453.52" cy="460.35" rx="1.15" ry="1.95"/>
<ellipse cx="370.98" cy="467.42" rx="1.15" ry="1.95"/>
<ellipse cx="376.14" cy="467.42" rx="1.15" ry="1.95"/>
<ellipse cx="386.46" cy="467.42" rx="1.15" ry="1.95"/>
<ellipse cx="391.61" cy="467.42" rx="1.15" ry="1.95"/>
<ellipse cx="396.77" cy="467.42" rx="1.15" ry="1.95"/>
<ellipse cx="401.93" cy="467.42" rx="1.15" ry="1.95"/>
<ellipse cx="407.09" cy="467.42" rx="1.15" ry="1.95"/>
<ellipse cx="412.25" cy="467.42" rx="1.15" ry="1.95"/>
<ellipse cx="422.57" cy="467.42" rx="1.15" ry="1.95"/>
<ellipse cx="443.2" cy="467.42" rx="1.15" ry="1.95"/>
<ellipse cx="453.52" cy="467.42" rx="1.15" ry="1.95"/>
<ellipse cx="386.46" cy="474.5" rx="1.15" ry="1.95"/>
<ellipse cx="391.61" cy="474.5" rx="1.15" ry="1.95"/>
<ellipse cx="396.77" cy="474.5" rx="1.15" ry="1.95"/>
<ellipse cx="401.93" cy="474.5" rx="1.15" ry="1.95"/>
<ellipse cx="407.09" cy="474.5" rx="1.15" ry="1.95"/>
<ellipse cx="412.25" cy="474.5" rx="1.15" ry="1.95"/>
<ellipse cx="417.41" cy="474.5" rx="1.15" ry="1.95"/>
<ellipse cx="422.57" cy="474.5" rx="1.15" ry="1.95"/>
<ellipse cx="438.04" cy="474.5" rx="1.15" ry="1.95"/>
<ellipse cx="443.2" cy="474.5" rx="1.15" ry="1.95"/>
<ellipse cx="370.98" cy="481.57" rx="1.15" ry="1.95"/>
<ellipse cx="376.14" cy="481.57" rx="1.15" ry="1.95"/>
<ellipse cx="381.3" cy="481.57" rx="1.15" ry="1.95"/>
<ellipse cx="396.77" cy="481.57" rx="1.15" ry="1.95"/>
<ellipse cx="401.93" cy="481.57" rx="1.15" ry="1.95"/>
<ellipse cx="407.09" cy="481.57" rx="1.15" ry="1.95"/>
<ellipse cx="417.41" cy="481.57" rx="1.15" ry="1.95"/>
<ellipse cx="422.57" cy="481.57" rx="1.15" ry="1.95"/>
<ellipse cx="427.73" cy="481.57" rx="1.15" ry="1.95"/>
<ellipse cx="432.89" cy="481.57" rx="1.15" ry="1.95"/>
<ellipse cx="376.14" cy="488.64" rx="1.15" ry="1.95"/>
<ellipse cx="381.3" cy="488.64" rx="1.15" ry="1.95"/>
<ellipse cx="391.61" cy="488.64" rx="1.15" ry="1.95"/>
<ellipse cx="401.93" cy="488.64" rx="1.15" ry="1.95"/>
<ellipse cx="407.09" cy="488.64" rx="1.15" ry="1.95"/>
<ellipse cx="412.25" cy="488.64" rx="1.15" ry="1.95"/>
<ellipse cx="427.73" cy="488.64" rx="1.15" ry="1.95"/>
<ellipse cx="432.89" cy="488.64" rx="1.15" ry="1.95"/>
<ellipse cx="443.2" cy="488.64" rx="1.15" ry="1.95"/>
<ellipse cx="448.36" cy="488.64" rx="1.15" ry="1.95"/>
<ellipse cx="381.3" cy="495.71" rx="1.15" ry="1.95"/>
<ellipse cx="386.46" cy="495.71" rx="1.15" ry="1.95"/>
<ellipse cx="391.61" cy="495.71" rx="1.15" ry="1.95"/>
<ellipse cx="396.77" cy="495.71" rx="1.15" ry="1.95"/>
<ellipse cx="401.93" cy="495.71" rx="1.15" ry="1.95"/>
<ellipse cx="412.25" cy="495.71" rx="1.15" ry="1.95"/>
<ellipse cx="422.57" cy="495.71" rx="1.15" ry="1.95"/>
<ellipse cx="427.73" cy="495.71" rx="1.15" ry="1.95"/>
<ellipse cx="443.2" cy="495.71" rx="1.15" ry="1.95"/>
<ellipse cx="453.52" cy="495.71" rx="1.15" ry="1.95"/>
</g>
</g>
<rect x="368.4" y="420.85" width="87.7" height="77.8" fill="none" stroke="#000" stroke-width="1.1"/>
<line x1="363.8" y1="496.95" x2="368.4" y2="496.95" stroke="#000" stroke-width="1"/>
<text x="359.5" y="498.65" font-size="4.4" text-anchor="end" textLength="2.8" lengthAdjust="spacingAndGlyphs" class="sm">0</text>
<line x1="363.8" y1="484.07" x2="368.4" y2="484.07" stroke="#000" stroke-width="1"/>
<text x="359.5" y="485.77" font-size="4.4" text-anchor="end" textLength="5.6" lengthAdjust="spacingAndGlyphs" class="sm">10</text>
<line x1="363.8" y1="471.19" x2="368.4" y2="471.19" stroke="#000" stroke-width="1"/>
<text x="359.5" y="472.89" font-size="4.4" text-anchor="end" textLength="5.6" lengthAdjust="spacingAndGlyphs" class="sm">20</text>
<line x1="363.8" y1="458.31" x2="368.4" y2="458.31" stroke="#000" stroke-width="1"/>
<text x="359.5" y="460.01" font-size="4.4" text-anchor="end" textLength="5.6" lengthAdjust="spacingAndGlyphs" class="sm">30</text>
<line x1="363.8" y1="445.43" x2="368.4" y2="445.43" stroke="#000" stroke-width="1"/>
<text x="359.5" y="447.13" font-size="4.4" text-anchor="end" textLength="5.6" lengthAdjust="spacingAndGlyphs" class="sm">40</text>
<line x1="363.8" y1="432.55" x2="368.4" y2="432.55" stroke="#000" stroke-width="1"/>
<text x="359.5" y="434.25" font-size="4.4" text-anchor="end" textLength="5.6" lengthAdjust="spacingAndGlyphs" class="sm">50</text>
<line x1="388.95" y1="498.65" x2="388.95" y2="503.25" stroke="#000" stroke-width="1"/>
<text x="388.95" y="511.75" font-size="4.4" text-anchor="middle" textLength="9.29" lengthAdjust="spacingAndGlyphs" class="sm">−50</text>
<line x1="412.25" y1="498.65" x2="412.25" y2="503.25" stroke="#000" stroke-width="1"/>
<text x="412.25" y="511.75" font-size="4.4" text-anchor="middle" textLength="2.8" lengthAdjust="spacingAndGlyphs" class="sm">0</text>
<line x1="435.55" y1="498.65" x2="435.55" y2="503.25" stroke="#000" stroke-width="1"/>
<text x="435.55" y="511.75" font-size="4.4" text-anchor="middle" textLength="5.6" lengthAdjust="spacingAndGlyphs" class="sm">50</text>
<text x="412.25" y="522.85" font-size="7" text-anchor="middle" textLength="35.2" lengthAdjust="spacingAndGlyphs" class="lg">latitude (°)</text>
<text transform="translate(347.9,459.75) rotate(-90)" font-size="7" class="lg" text-anchor="middle" textLength="38.2" lengthAdjust="spacingAndGlyphs">model level</text>
<text x="412.25" y="404.79" font-size="7.8" text-anchor="middle" textLength="31.85" lengthAdjust="spacingAndGlyphs" class="lg">(l) AllSky</text>
<text x="412.25" y="412.95" font-size="7.7" text-anchor="middle" textLength="10.2" lengthAdjust="spacingAndGlyphs" class="lg">Qv</text>
<rect x="461.6" y="420.85" width="3.8" height="77.8" fill="url(#gdiv)"/>
<rect x="461.6" y="420.85" width="3.8" height="77.8" fill="none" stroke="#000" stroke-width="1"/>
<line x1="465.4" y1="495.87" x2="467.9" y2="495.87" stroke="#000" stroke-width="0.9"/>
<line x1="465.4" y1="492.86" x2="467.9" y2="492.86" stroke="#000" stroke-width="0.9"/>
<line x1="465.4" y1="489.85" x2="467.9" y2="489.85" stroke="#000" stroke-width="0.9"/>
<line x1="465.4" y1="486.84" x2="467.9" y2="486.84" stroke="#000" stroke-width="0.9"/>
<line x1="465.4" y1="483.83" x2="467.9" y2="483.83" stroke="#000" stroke-width="0.9"/>
<line x1="465.4" y1="480.82" x2="467.9" y2="480.82" stroke="#000" stroke-width="0.9"/>
<line x1="465.4" y1="477.81" x2="467.9" y2="477.81" stroke="#000" stroke-width="0.9"/>
<line x1="465.4" y1="474.8" x2="467.9" y2="474.8" stroke="#000" stroke-width="0.9"/>
<line x1="465.4" y1="471.79" x2="467.9" y2="471.79" stroke="#000" stroke-width="0.9"/>
<line x1="465.4" y1="468.78" x2="467.9" y2="468.78" stroke="#000" stroke-width="0.9"/>
<line x1="465.4" y1="465.77" x2="467.9" y2="465.77" stroke="#000" stroke-width="0.9"/>
<line x1="465.4" y1="462.76" x2="467.9" y2="462.76" stroke="#000" stroke-width="0.9"/>
<line x1="465.4" y1="459.75" x2="467.9" y2="459.75" stroke="#000" stroke-width="0.9"/>
<line x1="465.4" y1="456.74" x2="467.9" y2="456.74" stroke="#000" stroke-width="0.9"/>
<line x1="465.4" y1="453.73" x2="467.9" y2="453.73" stroke="#000" stroke-width="0.9"/>
<line x1="465.4" y1="450.72" x2="467.9" y2="450.72" stroke="#000" stroke-width="0.9"/>
<line x1="465.4" y1="447.71" x2="467.9" y2="447.71" stroke="#000" stroke-width="0.9"/>
<line x1="465.4" y1="444.7" x2="467.9" y2="444.7" stroke="#000" stroke-width="0.9"/>
<line x1="465.4" y1="441.69" x2="467.9" y2="441.69" stroke="#000" stroke-width="0.9"/>
<line x1="465.4" y1="438.68" x2="467.9" y2="438.68" stroke="#000" stroke-width="0.9"/>
<line x1="465.4" y1="435.67" x2="467.9" y2="435.67" stroke="#000" stroke-width="0.9"/>
<line x1="465.4" y1="432.66" x2="467.9" y2="432.66" stroke="#000" stroke-width="0.9"/>
<line x1="465.4" y1="429.65" x2="467.9" y2="429.65" stroke="#000" stroke-width="0.9"/>
<line x1="465.4" y1="426.64" x2="467.9" y2="426.64" stroke="#000" stroke-width="0.9"/>
<line x1="465.4" y1="423.63" x2="467.9" y2="423.63" stroke="#000" stroke-width="0.9"/>
<line x1="465.4" y1="495.87" x2="470" y2="495.87" stroke="#000" stroke-width="1"/>
<text x="474.3" y="497.47" font-size="4.3" textLength="10.44" lengthAdjust="spacingAndGlyphs" class="sm">−4.8</text>
<line x1="465.4" y1="486.84" x2="470" y2="486.84" stroke="#000" stroke-width="1"/>
<text x="474.3" y="488.44" font-size="4.3" textLength="10.44" lengthAdjust="spacingAndGlyphs" class="sm">−3.6</text>
<line x1="465.4" y1="477.81" x2="470" y2="477.81" stroke="#000" stroke-width="1"/>
<text x="474.3" y="479.41" font-size="4.3" textLength="10.44" lengthAdjust="spacingAndGlyphs" class="sm">−2.4</text>
<line x1="465.4" y1="468.78" x2="470" y2="468.78" stroke="#000" stroke-width="1"/>
<text x="474.3" y="470.38" font-size="4.3" textLength="10.44" lengthAdjust="spacingAndGlyphs" class="sm">−1.2</text>
<line x1="465.4" y1="459.75" x2="470" y2="459.75" stroke="#000" stroke-width="1"/>
<text x="474.3" y="461.35" font-size="4.3" textLength="6.84" lengthAdjust="spacingAndGlyphs" class="sm">0.0</text>
<line x1="465.4" y1="450.72" x2="470" y2="450.72" stroke="#000" stroke-width="1"/>
<text x="474.3" y="452.32" font-size="4.3" textLength="6.84" lengthAdjust="spacingAndGlyphs" class="sm">1.2</text>
<line x1="465.4" y1="441.69" x2="470" y2="441.69" stroke="#000" stroke-width="1"/>
<text x="474.3" y="443.29" font-size="4.3" textLength="6.84" lengthAdjust="spacingAndGlyphs" class="sm">2.4</text>
<line x1="465.4" y1="432.66" x2="470" y2="432.66" stroke="#000" stroke-width="1"/>
<text x="474.3" y="434.26" font-size="4.3" textLength="6.84" lengthAdjust="spacingAndGlyphs" class="sm">3.6</text>
<line x1="465.4" y1="423.63" x2="470" y2="423.63" stroke="#000" stroke-width="1"/>
<text x="474.3" y="425.23" font-size="4.3" textLength="6.84" lengthAdjust="spacingAndGlyphs" class="sm">4.8</text>
<text transform="translate(495.5,459.75) rotate(-90)" font-size="6.9" class="lg" text-anchor="middle" textLength="93" lengthAdjust="spacingAndGlyphs">rms: % diff. from AllSky-L1200</text>
</svg></body></html>
